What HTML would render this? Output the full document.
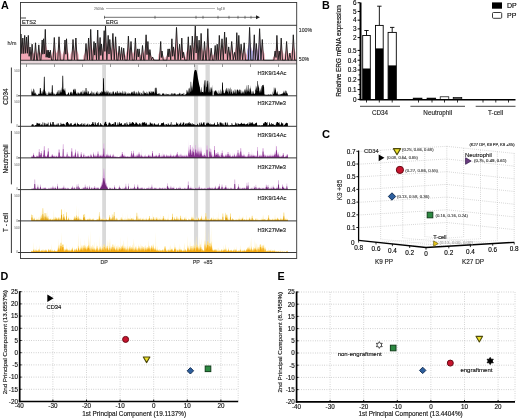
<!DOCTYPE html>
<html><head><meta charset="utf-8"><style>
html,body{margin:0;padding:0;background:#fff;width:520px;height:418px;overflow:hidden;}
svg{display:block;filter:blur(0.3px);font-family:"Liberation Sans",sans-serif;}
</style></head><body>
<svg width="520" height="418" viewBox="0 0 520 418" font-family="Liberation Sans, sans-serif"><text x="1" y="9.2" font-size="10.8" text-anchor="start" fill="#000" font-weight="bold">A</text>
<line x1="106" y1="8.5" x2="215" y2="8.5" stroke="#aaa" stroke-width="0.8"/>
<text x="94" y="9.8" font-size="3.4" text-anchor="start" fill="#888" stroke="#888" stroke-width="0.14">250 kb</text>
<text x="217" y="9.8" font-size="3.4" text-anchor="start" fill="#888" stroke="#888" stroke-width="0.14">hg19</text>
<line x1="20.5" y1="18" x2="26" y2="18" stroke="#333" stroke-width="0.9"/>
<text x="22" y="24.3" font-size="5.6" text-anchor="start" fill="#222" stroke="#222" stroke-width="0.14">ETS2</text>
<line x1="104" y1="17.3" x2="258" y2="17.3" stroke="#333" stroke-width="0.7"/>
<line x1="104.5" y1="15.8" x2="104.5" y2="18.8" stroke="#333" stroke-width="0.6"/>
<line x1="155" y1="15.8" x2="155" y2="18.8" stroke="#333" stroke-width="0.6"/>
<line x1="196" y1="15.8" x2="196" y2="18.8" stroke="#333" stroke-width="0.6"/>
<line x1="203" y1="15.8" x2="203" y2="18.8" stroke="#333" stroke-width="0.6"/>
<line x1="218" y1="15.8" x2="218" y2="18.8" stroke="#333" stroke-width="0.6"/>
<line x1="229" y1="15.8" x2="229" y2="18.8" stroke="#333" stroke-width="0.6"/>
<line x1="238" y1="15.8" x2="238" y2="18.8" stroke="#333" stroke-width="0.6"/>
<line x1="245" y1="15.8" x2="245" y2="18.8" stroke="#333" stroke-width="0.6"/>
<line x1="251" y1="15.8" x2="251" y2="18.8" stroke="#333" stroke-width="0.6"/>
<path d="M256,15.3 L260,17.3 L256,19.3 Z" fill="#222"/>
<text x="106" y="24.3" font-size="5.6" text-anchor="start" fill="#222" stroke="#222" stroke-width="0.14">ERG</text>
<rect x="102.2" y="65" width="3.799999999999997" height="188" fill="#d9d9d9" stroke="none" stroke-width="1"/>
<rect x="194" y="65" width="4.099999999999994" height="188" fill="#d9d9d9" stroke="none" stroke-width="1"/>
<rect x="205.5" y="65" width="4.300000000000011" height="188" fill="#d9d9d9" stroke="none" stroke-width="1"/>
<line x1="20.5" y1="43.5" x2="296.7" y2="43.5" stroke="#bbb" stroke-width="0.6" stroke-dasharray="1.5,1"/>
<path d="M20.5,60.3 L20.5,46.34 L21.0,45.37 L21.5,46.98 L22.0,48.60 L22.5,48.19 L23.0,47.91 L23.5,49.28 L24.0,48.00 L24.5,46.47 L25.0,46.77 L25.5,48.30 L26.0,48.22 L26.5,46.79 L27.0,48.22 L27.5,48.30 L28.0,46.77 L28.5,46.47 L29.0,48.00 L29.5,49.52 L30.0,51.05 L30.5,52.58 L31.0,53.13 L31.5,52.15 L32.0,51.16 L32.5,51.75 L33.0,52.74 L33.5,53.73 L34.0,53.37 L34.5,52.30 L35.0,51.22 L35.5,50.15 L36.0,51.22 L36.5,52.30 L37.0,53.37 L37.5,53.82 L38.0,52.88 L38.5,51.93 L39.0,51.75 L39.5,52.69 L40.0,53.64 L40.5,52.76 L41.0,51.51 L41.5,50.27 L42.0,49.02 L42.5,49.27 L43.0,49.15 L43.5,47.83 L44.0,47.31 L44.5,45.41 L45.0,43.52 L45.5,43.14 L46.0,45.03 L46.5,46.93 L47.0,48.82 L47.5,50.72 L48.0,54.81 L48.5,54.69 L49.0,55.31 L49.5,55.43 L50.0,54.81 L50.5,54.69 L51.0,55.31 L51.5,55.93 L52.0,53.51 L52.5,52.11 L53.0,50.71 L53.5,49.31 L54.0,47.92 L54.5,47.64 L55.0,49.03 L55.5,50.43 L56.0,51.83 L56.5,53.23 L57.0,52.44 L57.5,50.99 L58.0,49.55 L58.5,48.11 L59.0,46.67 L59.5,48.11 L60.0,49.55 L60.5,50.99 L61.0,52.44 L61.5,53.88 L62.0,60.30 L62.5,54.75 L63.0,53.51 L63.5,52.26 L64.0,51.02 L64.5,49.77 L65.0,48.53 L65.5,49.77 L66.0,49.15 L66.5,47.83 L67.0,49.15 L67.5,50.47 L68.0,51.79 L68.5,53.11 L69.0,54.42 L69.5,60.30 L70.0,60.30 L70.5,54.62 L71.0,53.34 L71.5,52.06 L72.0,50.79 L72.5,49.51 L73.0,48.24 L73.5,49.51 L74.0,50.79 L74.5,51.20 L75.0,49.83 L75.5,48.46 L76.0,47.64 L76.5,49.01 L77.0,50.38 L77.5,51.74 L78.0,53.11 L78.5,54.48 L79.0,60.30 L79.5,60.30 L80.0,60.30 L80.5,60.30 L81.0,60.30 L81.5,60.30 L82.0,60.30 L82.5,60.30 L83.0,60.30 L83.5,55.71 L84.0,54.68 L84.5,53.65 L85.0,52.62 L85.5,51.59 L86.0,50.56 L86.5,51.59 L87.0,51.74 L87.5,50.38 L88.0,49.01 L88.5,47.64 L89.0,48.46 L89.5,46.93 L90.0,45.03 L90.5,43.14 L91.0,43.52 L91.5,45.41 L92.0,47.31 L92.5,49.20 L93.0,51.10 L93.5,50.55 L94.0,49.40 L94.5,50.55 L95.0,51.12 L95.5,50.48 L96.0,49.05 L96.5,47.19 L97.0,45.33 L97.5,43.47 L98.0,43.84 L98.5,45.70 L99.0,47.56 L99.5,48.75 L100.0,47.36 L100.5,48.19 L101.0,49.59 L101.5,50.85 L102.0,51.12 L102.5,49.31 L103.0,47.49 L103.5,45.67 L104.0,43.86 L104.5,44.22 L105.0,42.51 L105.5,40.41 L106.0,42.51 L106.5,44.61 L107.0,46.72 L107.5,48.00 L108.0,46.47 L108.5,46.77 L109.0,48.30 L109.5,49.00 L110.0,48.75 L110.5,50.02 L111.0,50.97 L111.5,49.32 L112.0,47.67 L112.5,46.02 L113.0,45.03 L113.5,46.68 L114.0,48.33 L114.5,49.84 L115.0,48.40 L115.5,46.96 L116.0,47.82 L116.5,49.26 L117.0,50.71 L117.5,52.15 L118.0,53.59 L118.5,53.33 L119.0,52.47 L119.5,52.64 L120.0,53.51 L120.5,54.37 L121.0,53.82 L121.5,53.03 L122.0,53.50 L122.5,54.29 L123.0,54.32 L123.5,53.58 L124.0,53.73 L124.5,54.47 L125.0,55.21 L125.5,55.95 L126.0,53.39 L126.5,51.91 L127.0,50.42 L127.5,48.94 L128.0,47.45 L128.5,46.56 L129.0,48.05 L129.5,49.53 L130.0,51.01 L130.5,50.55 L131.0,49.40 L131.5,50.55 L132.0,51.70 L132.5,52.86 L133.0,53.96 L133.5,52.60 L134.0,51.24 L134.5,49.88 L135.0,48.51 L135.5,47.70 L136.0,49.06 L136.5,50.42 L137.0,51.78 L137.5,53.14 L138.0,54.39 L138.5,54.53 L139.0,53.83 L139.5,54.25 L140.0,54.95 L140.5,55.35 L141.0,54.44 L141.5,53.53 L142.0,52.62 L142.5,51.72 L143.0,52.62 L143.5,53.53 L144.0,52.08 L144.5,50.52 L145.0,48.95 L145.5,47.39 L146.0,45.82 L146.5,46.76 L147.0,48.33 L147.5,49.89 L148.0,49.63 L148.5,50.78 L149.0,51.93 L149.5,53.09 L150.0,54.23 L150.5,54.88 L151.0,55.54 L151.5,56.19 L152.0,56.85 L152.5,57.51 L153.0,58.55 L153.5,58.75 L154.0,58.95 L154.5,59.16 L155.0,59.36 L155.5,60.30 L156.0,60.30 L156.5,60.30 L157.0,60.30 L157.5,60.30 L158.0,60.30 L158.5,54.47 L159.0,53.32 L159.5,52.16 L160.0,51.01 L160.5,49.86 L161.0,50.09 L161.5,51.24 L162.0,52.39 L162.5,53.55 L163.0,54.70 L163.5,56.62 L164.0,57.19 L164.5,57.76 L165.0,60.30 L165.5,57.32 L166.0,56.63 L166.5,55.93 L167.0,55.23 L167.5,54.53 L168.0,53.83 L168.5,54.25 L169.0,54.39 L169.5,53.69 L170.0,52.84 L170.5,51.52 L171.0,50.20 L171.5,48.89 L172.0,48.09 L172.5,49.41 L173.0,50.73 L173.5,52.05 L174.0,51.31 L174.5,49.29 L175.0,47.27 L175.5,45.25 L176.0,43.24 L176.5,41.22 L177.0,43.24 L177.5,45.25 L178.0,47.27 L178.5,49.29 L179.0,51.31 L179.5,51.16 L180.0,51.75 L180.5,50.96 L181.0,49.60 L181.5,48.24 L182.0,47.97 L182.5,49.33 L183.0,50.69 L183.5,52.05 L184.0,53.42 L184.5,56.54 L185.0,57.03 L185.5,57.52 L186.0,53.30 L186.5,51.86 L187.0,50.42 L187.5,48.98 L188.0,47.53 L188.5,47.25 L189.0,48.69 L189.5,50.13 L190.0,51.57 L190.5,51.61 L191.0,50.12 L191.5,48.64 L192.0,47.15 L192.5,46.86 L193.0,48.34 L193.5,47.98 L194.0,45.88 L194.5,43.77 L195.0,41.67 L195.5,41.25 L196.0,43.35 L196.5,45.46 L197.0,46.26 L197.5,47.75 L198.0,49.23 L198.5,50.12 L199.0,48.89 L199.5,49.63 L200.0,48.33 L200.5,46.68 L201.0,45.03 L201.5,46.02 L202.0,47.67 L202.5,49.32 L203.0,50.97 L203.5,51.70 L204.0,50.55 L204.5,49.40 L205.0,50.55 L205.5,50.89 L206.0,48.95 L206.5,47.01 L207.0,45.07 L207.5,43.14 L208.0,42.75 L208.5,44.69 L209.0,46.62 L209.5,48.56 L210.0,50.50 L210.5,54.32 L211.0,53.58 L211.5,53.73 L212.0,54.47 L212.5,55.21 L213.0,55.71 L213.5,54.80 L214.0,53.90 L214.5,52.99 L215.0,52.08 L215.5,52.26 L216.0,53.17 L216.5,52.34 L217.0,51.36 L217.5,51.36 L218.0,49.83 L218.5,48.30 L219.0,46.77 L219.5,46.47 L220.0,48.00 L220.5,49.52 L221.0,50.47 L221.5,49.15 L222.0,47.83 L222.5,49.15 L223.0,49.44 L223.5,47.71 L224.0,45.97 L224.5,44.23 L225.0,45.27 L225.5,47.01 L226.0,47.92 L226.5,47.64 L227.0,49.03 L227.5,50.43 L228.0,51.83 L228.5,52.86 L229.0,53.02 L229.5,53.84 L230.0,53.32 L230.5,52.16 L231.0,51.01 L231.5,49.86 L232.0,50.09 L232.5,51.24 L233.0,52.39 L233.5,53.55 L234.0,54.70 L234.5,52.08 L235.0,50.39 L235.5,48.69 L236.0,47.00 L236.5,45.31 L237.0,44.97 L237.5,46.66 L238.0,48.30 L238.5,46.77 L239.0,46.47 L239.5,48.00 L240.0,49.52 L240.5,51.05 L241.0,51.16 L241.5,51.75 L242.0,52.74 L242.5,53.73 L243.0,52.73 L243.5,51.65 L244.0,50.58 L244.5,50.79 L245.0,51.87 L245.5,52.94 L246.0,54.01 L246.5,55.09 L247.0,51.71 L247.5,49.69 L248.0,47.68 L248.5,45.66 L249.0,43.64 L249.5,41.62 L250.0,42.83 L250.5,44.85 L251.0,46.87 L251.5,48.89 L252.0,50.91 L252.5,51.14 L253.0,49.58 L253.5,48.01 L254.0,46.45 L254.5,46.14 L255.0,47.70 L255.5,49.26 L256.0,50.83 L256.5,50.97 L257.0,52.00 L257.5,50.11 L258.0,48.18 L258.5,46.24 L259.0,44.30 L259.5,42.36 L260.0,43.52 L260.5,45.46 L261.0,47.40 L261.5,49.34 L262.0,49.00 L262.5,48.75 L263.0,50.02 L263.5,51.30 L264.0,52.57 L264.5,53.85 L265.0,60.30 L265.5,60.30 L266.0,60.30 L266.5,60.30 L267.0,60.30 L267.5,60.30 L268.0,60.30 L268.5,60.30 L269.0,60.30 L269.5,60.30 L270.0,60.30 L270.5,60.30 L271.0,60.30 L271.5,60.30 L272.0,60.30 L272.5,60.30 L273.0,57.30 L273.5,56.73 L274.0,56.16 L274.5,53.19 L275.0,51.66 L275.5,50.14 L276.0,48.61 L276.5,47.08 L277.0,46.16 L277.5,47.69 L278.0,49.22 L278.5,50.75 L279.0,52.27 L279.5,52.05 L280.0,50.69 L280.5,49.33 L281.0,47.97 L281.5,48.24 L282.0,49.60 L282.5,50.96 L283.0,52.33 L283.5,53.69 L284.0,60.30 L284.5,54.24 L285.0,53.09 L285.5,51.93 L286.0,50.78 L286.5,49.63 L287.0,50.32 L287.5,51.47 L288.0,52.63 L288.5,53.78 L289.0,54.93 L289.5,56.42 L290.0,56.16 L290.5,56.60 L291.0,52.71 L291.5,51.14 L292.0,49.58 L292.5,48.01 L293.0,46.45 L293.5,46.14 L294.0,47.70 L294.5,49.26 L295.0,50.83 L295.5,52.39 L296.0,60.30 L296.5,60.30 L296.7,60.3 Z" fill="#f2a8b6"/>
<path d="M20.50,60.30 L20.50,60.30 L20.90,34.00 L21.85,53.61 L22.80,38.00 L23.75,53.61 L24.70,35.40 L25.60,53.31 L26.50,37.00 L27.40,53.31 L28.30,35.40 L29.15,56.31 L30.00,47.00 L31.05,59.80 L32.10,44.20 L33.35,60.30 L34.25,60.30 L35.50,42.80 L36.75,60.30 L37.55,60.30 L38.80,44.90 L40.05,60.30 L40.95,60.30 L42.20,40.00 L42.85,54.21 L43.50,38.80 L44.40,53.85 L45.30,29.40 L46.15,57.27 L47.00,50.20 L47.65,57.27 L48.30,50.20 L48.80,57.81 L49.30,52.00 L49.80,57.81 L50.30,50.20 L51.55,60.30 L53.05,60.30 L54.30,37.50 L55.55,60.30 L57.75,60.30 L59.00,36.80 L60.25,60.30 L63.75,60.30 L65.00,40.00 L65.75,54.21 L66.50,38.80 L67.75,60.30 L71.75,60.30 L73.00,39.50 L74.45,59.80 L75.90,38.00 L77.15,60.30 L84.75,60.30 L86.00,43.50 L87.30,59.80 L88.60,38.00 L89.65,59.80 L90.70,29.40 L91.95,60.30 L92.75,60.30 L94.00,41.50 L94.70,55.11 L95.40,43.00 L96.55,59.80 L97.70,30.00 L98.90,59.80 L100.10,37.50 L100.80,55.41 L101.50,44.00 L102.85,59.80 L104.20,30.70 L104.85,51.42 L105.50,26.00 L106.85,59.80 L108.20,35.40 L109.00,54.06 L109.80,39.50 L111.35,59.80 L112.90,33.40 L114.25,59.80 L115.60,36.80 L116.85,60.30 L117.95,60.30 L119.20,46.20 L120.40,59.80 L121.60,47.50 L122.65,59.80 L123.70,48.20 L124.95,60.30 L127.15,60.30 L128.40,36.10 L129.70,59.80 L131.00,41.50 L132.25,60.30 L134.15,60.30 L135.40,38.10 L136.45,59.80 L137.50,48.90 L138.30,56.88 L139.10,48.90 L140.35,60.30 L141.25,60.30 L142.50,45.50 L143.75,60.30 L144.85,60.30 L146.10,34.80 L147.00,54.66 L147.90,41.50 L148.90,59.80 L149.90,49.60 L151.25,59.80 L152.60,57.00 L153.85,60.30 L159.45,60.30 L160.70,41.50 L161.35,57.51 L162.00,51.00 L163.25,60.30 L166.85,60.30 L168.10,48.90 L168.80,56.88 L169.50,48.90 L170.70,59.80 L171.90,38.80 L172.70,56.28 L173.50,46.90 L175.00,59.80 L176.50,27.40 L178.05,59.80 L179.60,44.20 L180.70,59.80 L181.80,38.10 L182.70,57.90 L183.60,52.30 L184.85,60.30 L187.05,60.30 L188.30,36.80 L189.30,59.80 L190.30,45.50 L191.30,59.80 L192.30,36.10 L193.80,59.80 L195.30,26.00 L196.15,53.04 L197.00,36.10 L198.05,59.80 L199.10,40.20 L200.10,59.80 L201.10,33.40 L202.35,60.30 L203.25,60.30 L204.50,41.50 L205.75,60.30 L206.55,60.30 L207.80,28.70 L209.05,60.30 L209.95,60.30 L211.20,48.20 L212.45,60.30 L213.95,60.30 L215.20,45.50 L216.20,59.80 L217.20,44.20 L218.25,59.80 L219.30,35.40 L220.65,59.80 L222.00,38.80 L223.30,59.80 L224.60,32.00 L225.45,53.46 L226.30,37.50 L227.50,59.80 L228.70,46.90 L230.20,59.80 L231.70,41.50 L233.20,59.80 L234.70,52.30 L235.75,59.80 L236.80,32.70 L237.80,59.80 L238.80,35.40 L239.95,59.80 L241.10,44.20 L242.65,59.80 L244.20,42.80 L245.45,60.30 L248.35,60.30 L249.60,27.40 L250.85,60.30 L253.05,60.30 L254.30,34.80 L255.30,59.80 L256.30,43.50 L257.55,60.30 L258.35,60.30 L259.60,28.70 L260.95,59.80 L262.30,39.50 L263.55,60.30 L273.85,60.30 L275.10,51.00 L276.00,57.51 L276.90,35.40 L278.05,59.80 L279.20,51.00 L280.20,59.80 L281.20,38.10 L282.45,60.30 L285.35,60.30 L286.60,41.50 L287.85,60.30 L288.65,60.30 L289.90,53.00 L291.15,60.30 L292.05,60.30 L293.30,34.80 L294.70,60.30 L296.70,60.30 Z" fill="#f2a8b6"/>
<clipPath id="cp1"><rect x="247" y="30" width="6.5" height="31"/></clipPath>
<path d="M20.5,60.3 L20.5,46.34 L21.0,45.37 L21.5,46.98 L22.0,48.60 L22.5,48.19 L23.0,47.91 L23.5,49.28 L24.0,48.00 L24.5,46.47 L25.0,46.77 L25.5,48.30 L26.0,48.22 L26.5,46.79 L27.0,48.22 L27.5,48.30 L28.0,46.77 L28.5,46.47 L29.0,48.00 L29.5,49.52 L30.0,51.05 L30.5,52.58 L31.0,53.13 L31.5,52.15 L32.0,51.16 L32.5,51.75 L33.0,52.74 L33.5,53.73 L34.0,53.37 L34.5,52.30 L35.0,51.22 L35.5,50.15 L36.0,51.22 L36.5,52.30 L37.0,53.37 L37.5,53.82 L38.0,52.88 L38.5,51.93 L39.0,51.75 L39.5,52.69 L40.0,53.64 L40.5,52.76 L41.0,51.51 L41.5,50.27 L42.0,49.02 L42.5,49.27 L43.0,49.15 L43.5,47.83 L44.0,47.31 L44.5,45.41 L45.0,43.52 L45.5,43.14 L46.0,45.03 L46.5,46.93 L47.0,48.82 L47.5,50.72 L48.0,54.81 L48.5,54.69 L49.0,55.31 L49.5,55.43 L50.0,54.81 L50.5,54.69 L51.0,55.31 L51.5,55.93 L52.0,53.51 L52.5,52.11 L53.0,50.71 L53.5,49.31 L54.0,47.92 L54.5,47.64 L55.0,49.03 L55.5,50.43 L56.0,51.83 L56.5,53.23 L57.0,52.44 L57.5,50.99 L58.0,49.55 L58.5,48.11 L59.0,46.67 L59.5,48.11 L60.0,49.55 L60.5,50.99 L61.0,52.44 L61.5,53.88 L62.0,60.30 L62.5,54.75 L63.0,53.51 L63.5,52.26 L64.0,51.02 L64.5,49.77 L65.0,48.53 L65.5,49.77 L66.0,49.15 L66.5,47.83 L67.0,49.15 L67.5,50.47 L68.0,51.79 L68.5,53.11 L69.0,54.42 L69.5,60.30 L70.0,60.30 L70.5,54.62 L71.0,53.34 L71.5,52.06 L72.0,50.79 L72.5,49.51 L73.0,48.24 L73.5,49.51 L74.0,50.79 L74.5,51.20 L75.0,49.83 L75.5,48.46 L76.0,47.64 L76.5,49.01 L77.0,50.38 L77.5,51.74 L78.0,53.11 L78.5,54.48 L79.0,60.30 L79.5,60.30 L80.0,60.30 L80.5,60.30 L81.0,60.30 L81.5,60.30 L82.0,60.30 L82.5,60.30 L83.0,60.30 L83.5,55.71 L84.0,54.68 L84.5,53.65 L85.0,52.62 L85.5,51.59 L86.0,50.56 L86.5,51.59 L87.0,51.74 L87.5,50.38 L88.0,49.01 L88.5,47.64 L89.0,48.46 L89.5,46.93 L90.0,45.03 L90.5,43.14 L91.0,43.52 L91.5,45.41 L92.0,47.31 L92.5,49.20 L93.0,51.10 L93.5,50.55 L94.0,49.40 L94.5,50.55 L95.0,51.12 L95.5,50.48 L96.0,49.05 L96.5,47.19 L97.0,45.33 L97.5,43.47 L98.0,43.84 L98.5,45.70 L99.0,47.56 L99.5,48.75 L100.0,47.36 L100.5,48.19 L101.0,49.59 L101.5,50.85 L102.0,51.12 L102.5,49.31 L103.0,47.49 L103.5,45.67 L104.0,43.86 L104.5,44.22 L105.0,42.51 L105.5,40.41 L106.0,42.51 L106.5,44.61 L107.0,46.72 L107.5,48.00 L108.0,46.47 L108.5,46.77 L109.0,48.30 L109.5,49.00 L110.0,48.75 L110.5,50.02 L111.0,50.97 L111.5,49.32 L112.0,47.67 L112.5,46.02 L113.0,45.03 L113.5,46.68 L114.0,48.33 L114.5,49.84 L115.0,48.40 L115.5,46.96 L116.0,47.82 L116.5,49.26 L117.0,50.71 L117.5,52.15 L118.0,53.59 L118.5,53.33 L119.0,52.47 L119.5,52.64 L120.0,53.51 L120.5,54.37 L121.0,53.82 L121.5,53.03 L122.0,53.50 L122.5,54.29 L123.0,54.32 L123.5,53.58 L124.0,53.73 L124.5,54.47 L125.0,55.21 L125.5,55.95 L126.0,53.39 L126.5,51.91 L127.0,50.42 L127.5,48.94 L128.0,47.45 L128.5,46.56 L129.0,48.05 L129.5,49.53 L130.0,51.01 L130.5,50.55 L131.0,49.40 L131.5,50.55 L132.0,51.70 L132.5,52.86 L133.0,53.96 L133.5,52.60 L134.0,51.24 L134.5,49.88 L135.0,48.51 L135.5,47.70 L136.0,49.06 L136.5,50.42 L137.0,51.78 L137.5,53.14 L138.0,54.39 L138.5,54.53 L139.0,53.83 L139.5,54.25 L140.0,54.95 L140.5,55.35 L141.0,54.44 L141.5,53.53 L142.0,52.62 L142.5,51.72 L143.0,52.62 L143.5,53.53 L144.0,52.08 L144.5,50.52 L145.0,48.95 L145.5,47.39 L146.0,45.82 L146.5,46.76 L147.0,48.33 L147.5,49.89 L148.0,49.63 L148.5,50.78 L149.0,51.93 L149.5,53.09 L150.0,54.23 L150.5,54.88 L151.0,55.54 L151.5,56.19 L152.0,56.85 L152.5,57.51 L153.0,58.55 L153.5,58.75 L154.0,58.95 L154.5,59.16 L155.0,59.36 L155.5,60.30 L156.0,60.30 L156.5,60.30 L157.0,60.30 L157.5,60.30 L158.0,60.30 L158.5,54.47 L159.0,53.32 L159.5,52.16 L160.0,51.01 L160.5,49.86 L161.0,50.09 L161.5,51.24 L162.0,52.39 L162.5,53.55 L163.0,54.70 L163.5,56.62 L164.0,57.19 L164.5,57.76 L165.0,60.30 L165.5,57.32 L166.0,56.63 L166.5,55.93 L167.0,55.23 L167.5,54.53 L168.0,53.83 L168.5,54.25 L169.0,54.39 L169.5,53.69 L170.0,52.84 L170.5,51.52 L171.0,50.20 L171.5,48.89 L172.0,48.09 L172.5,49.41 L173.0,50.73 L173.5,52.05 L174.0,51.31 L174.5,49.29 L175.0,47.27 L175.5,45.25 L176.0,43.24 L176.5,41.22 L177.0,43.24 L177.5,45.25 L178.0,47.27 L178.5,49.29 L179.0,51.31 L179.5,51.16 L180.0,51.75 L180.5,50.96 L181.0,49.60 L181.5,48.24 L182.0,47.97 L182.5,49.33 L183.0,50.69 L183.5,52.05 L184.0,53.42 L184.5,56.54 L185.0,57.03 L185.5,57.52 L186.0,53.30 L186.5,51.86 L187.0,50.42 L187.5,48.98 L188.0,47.53 L188.5,47.25 L189.0,48.69 L189.5,50.13 L190.0,51.57 L190.5,51.61 L191.0,50.12 L191.5,48.64 L192.0,47.15 L192.5,46.86 L193.0,48.34 L193.5,47.98 L194.0,45.88 L194.5,43.77 L195.0,41.67 L195.5,41.25 L196.0,43.35 L196.5,45.46 L197.0,46.26 L197.5,47.75 L198.0,49.23 L198.5,50.12 L199.0,48.89 L199.5,49.63 L200.0,48.33 L200.5,46.68 L201.0,45.03 L201.5,46.02 L202.0,47.67 L202.5,49.32 L203.0,50.97 L203.5,51.70 L204.0,50.55 L204.5,49.40 L205.0,50.55 L205.5,50.89 L206.0,48.95 L206.5,47.01 L207.0,45.07 L207.5,43.14 L208.0,42.75 L208.5,44.69 L209.0,46.62 L209.5,48.56 L210.0,50.50 L210.5,54.32 L211.0,53.58 L211.5,53.73 L212.0,54.47 L212.5,55.21 L213.0,55.71 L213.5,54.80 L214.0,53.90 L214.5,52.99 L215.0,52.08 L215.5,52.26 L216.0,53.17 L216.5,52.34 L217.0,51.36 L217.5,51.36 L218.0,49.83 L218.5,48.30 L219.0,46.77 L219.5,46.47 L220.0,48.00 L220.5,49.52 L221.0,50.47 L221.5,49.15 L222.0,47.83 L222.5,49.15 L223.0,49.44 L223.5,47.71 L224.0,45.97 L224.5,44.23 L225.0,45.27 L225.5,47.01 L226.0,47.92 L226.5,47.64 L227.0,49.03 L227.5,50.43 L228.0,51.83 L228.5,52.86 L229.0,53.02 L229.5,53.84 L230.0,53.32 L230.5,52.16 L231.0,51.01 L231.5,49.86 L232.0,50.09 L232.5,51.24 L233.0,52.39 L233.5,53.55 L234.0,54.70 L234.5,52.08 L235.0,50.39 L235.5,48.69 L236.0,47.00 L236.5,45.31 L237.0,44.97 L237.5,46.66 L238.0,48.30 L238.5,46.77 L239.0,46.47 L239.5,48.00 L240.0,49.52 L240.5,51.05 L241.0,51.16 L241.5,51.75 L242.0,52.74 L242.5,53.73 L243.0,52.73 L243.5,51.65 L244.0,50.58 L244.5,50.79 L245.0,51.87 L245.5,52.94 L246.0,54.01 L246.5,55.09 L247.0,51.71 L247.5,49.69 L248.0,47.68 L248.5,45.66 L249.0,43.64 L249.5,41.62 L250.0,42.83 L250.5,44.85 L251.0,46.87 L251.5,48.89 L252.0,50.91 L252.5,51.14 L253.0,49.58 L253.5,48.01 L254.0,46.45 L254.5,46.14 L255.0,47.70 L255.5,49.26 L256.0,50.83 L256.5,50.97 L257.0,52.00 L257.5,50.11 L258.0,48.18 L258.5,46.24 L259.0,44.30 L259.5,42.36 L260.0,43.52 L260.5,45.46 L261.0,47.40 L261.5,49.34 L262.0,49.00 L262.5,48.75 L263.0,50.02 L263.5,51.30 L264.0,52.57 L264.5,53.85 L265.0,60.30 L265.5,60.30 L266.0,60.30 L266.5,60.30 L267.0,60.30 L267.5,60.30 L268.0,60.30 L268.5,60.30 L269.0,60.30 L269.5,60.30 L270.0,60.30 L270.5,60.30 L271.0,60.30 L271.5,60.30 L272.0,60.30 L272.5,60.30 L273.0,57.30 L273.5,56.73 L274.0,56.16 L274.5,53.19 L275.0,51.66 L275.5,50.14 L276.0,48.61 L276.5,47.08 L277.0,46.16 L277.5,47.69 L278.0,49.22 L278.5,50.75 L279.0,52.27 L279.5,52.05 L280.0,50.69 L280.5,49.33 L281.0,47.97 L281.5,48.24 L282.0,49.60 L282.5,50.96 L283.0,52.33 L283.5,53.69 L284.0,60.30 L284.5,54.24 L285.0,53.09 L285.5,51.93 L286.0,50.78 L286.5,49.63 L287.0,50.32 L287.5,51.47 L288.0,52.63 L288.5,53.78 L289.0,54.93 L289.5,56.42 L290.0,56.16 L290.5,56.60 L291.0,52.71 L291.5,51.14 L292.0,49.58 L292.5,48.01 L293.0,46.45 L293.5,46.14 L294.0,47.70 L294.5,49.26 L295.0,50.83 L295.5,52.39 L296.0,60.30 L296.5,60.30 L296.7,60.3 Z" fill="#aaa6e0" clip-path="url(#cp1)"/>
<path d="M20.50,60.30 L20.50,60.30 L20.90,34.00 L21.85,53.61 L22.80,38.00 L23.75,53.61 L24.70,35.40 L25.60,53.31 L26.50,37.00 L27.40,53.31 L28.30,35.40 L29.15,56.31 L30.00,47.00 L31.05,59.80 L32.10,44.20 L33.35,60.30 L34.25,60.30 L35.50,42.80 L36.75,60.30 L37.55,60.30 L38.80,44.90 L40.05,60.30 L40.95,60.30 L42.20,40.00 L42.85,54.21 L43.50,38.80 L44.40,53.85 L45.30,29.40 L46.15,57.27 L47.00,50.20 L47.65,57.27 L48.30,50.20 L48.80,57.81 L49.30,52.00 L49.80,57.81 L50.30,50.20 L51.55,60.30 L53.05,60.30 L54.30,37.50 L55.55,60.30 L57.75,60.30 L59.00,36.80 L60.25,60.30 L63.75,60.30 L65.00,40.00 L65.75,54.21 L66.50,38.80 L67.75,60.30 L71.75,60.30 L73.00,39.50 L74.45,59.80 L75.90,38.00 L77.15,60.30 L84.75,60.30 L86.00,43.50 L87.30,59.80 L88.60,38.00 L89.65,59.80 L90.70,29.40 L91.95,60.30 L92.75,60.30 L94.00,41.50 L94.70,55.11 L95.40,43.00 L96.55,59.80 L97.70,30.00 L98.90,59.80 L100.10,37.50 L100.80,55.41 L101.50,44.00 L102.85,59.80 L104.20,30.70 L104.85,51.42 L105.50,26.00 L106.85,59.80 L108.20,35.40 L109.00,54.06 L109.80,39.50 L111.35,59.80 L112.90,33.40 L114.25,59.80 L115.60,36.80 L116.85,60.30 L117.95,60.30 L119.20,46.20 L120.40,59.80 L121.60,47.50 L122.65,59.80 L123.70,48.20 L124.95,60.30 L127.15,60.30 L128.40,36.10 L129.70,59.80 L131.00,41.50 L132.25,60.30 L134.15,60.30 L135.40,38.10 L136.45,59.80 L137.50,48.90 L138.30,56.88 L139.10,48.90 L140.35,60.30 L141.25,60.30 L142.50,45.50 L143.75,60.30 L144.85,60.30 L146.10,34.80 L147.00,54.66 L147.90,41.50 L148.90,59.80 L149.90,49.60 L151.25,59.80 L152.60,57.00 L153.85,60.30 L159.45,60.30 L160.70,41.50 L161.35,57.51 L162.00,51.00 L163.25,60.30 L166.85,60.30 L168.10,48.90 L168.80,56.88 L169.50,48.90 L170.70,59.80 L171.90,38.80 L172.70,56.28 L173.50,46.90 L175.00,59.80 L176.50,27.40 L178.05,59.80 L179.60,44.20 L180.70,59.80 L181.80,38.10 L182.70,57.90 L183.60,52.30 L184.85,60.30 L187.05,60.30 L188.30,36.80 L189.30,59.80 L190.30,45.50 L191.30,59.80 L192.30,36.10 L193.80,59.80 L195.30,26.00 L196.15,53.04 L197.00,36.10 L198.05,59.80 L199.10,40.20 L200.10,59.80 L201.10,33.40 L202.35,60.30 L203.25,60.30 L204.50,41.50 L205.75,60.30 L206.55,60.30 L207.80,28.70 L209.05,60.30 L209.95,60.30 L211.20,48.20 L212.45,60.30 L213.95,60.30 L215.20,45.50 L216.20,59.80 L217.20,44.20 L218.25,59.80 L219.30,35.40 L220.65,59.80 L222.00,38.80 L223.30,59.80 L224.60,32.00 L225.45,53.46 L226.30,37.50 L227.50,59.80 L228.70,46.90 L230.20,59.80 L231.70,41.50 L233.20,59.80 L234.70,52.30 L235.75,59.80 L236.80,32.70 L237.80,59.80 L238.80,35.40 L239.95,59.80 L241.10,44.20 L242.65,59.80 L244.20,42.80 L245.45,60.30 L248.35,60.30 L249.60,27.40 L250.85,60.30 L253.05,60.30 L254.30,34.80 L255.30,59.80 L256.30,43.50 L257.55,60.30 L258.35,60.30 L259.60,28.70 L260.95,59.80 L262.30,39.50 L263.55,60.30 L273.85,60.30 L275.10,51.00 L276.00,57.51 L276.90,35.40 L278.05,59.80 L279.20,51.00 L280.20,59.80 L281.20,38.10 L282.45,60.30 L285.35,60.30 L286.60,41.50 L287.85,60.30 L288.65,60.30 L289.90,53.00 L291.15,60.30 L292.05,60.30 L293.30,34.80 L294.70,60.30 L296.70,60.30 Z" fill="#aaa6e0" clip-path="url(#cp1)"/>
<clipPath id="cp2"><rect x="253.5" y="30" width="8" height="31"/></clipPath>
<path d="M20.5,60.3 L20.5,46.34 L21.0,45.37 L21.5,46.98 L22.0,48.60 L22.5,48.19 L23.0,47.91 L23.5,49.28 L24.0,48.00 L24.5,46.47 L25.0,46.77 L25.5,48.30 L26.0,48.22 L26.5,46.79 L27.0,48.22 L27.5,48.30 L28.0,46.77 L28.5,46.47 L29.0,48.00 L29.5,49.52 L30.0,51.05 L30.5,52.58 L31.0,53.13 L31.5,52.15 L32.0,51.16 L32.5,51.75 L33.0,52.74 L33.5,53.73 L34.0,53.37 L34.5,52.30 L35.0,51.22 L35.5,50.15 L36.0,51.22 L36.5,52.30 L37.0,53.37 L37.5,53.82 L38.0,52.88 L38.5,51.93 L39.0,51.75 L39.5,52.69 L40.0,53.64 L40.5,52.76 L41.0,51.51 L41.5,50.27 L42.0,49.02 L42.5,49.27 L43.0,49.15 L43.5,47.83 L44.0,47.31 L44.5,45.41 L45.0,43.52 L45.5,43.14 L46.0,45.03 L46.5,46.93 L47.0,48.82 L47.5,50.72 L48.0,54.81 L48.5,54.69 L49.0,55.31 L49.5,55.43 L50.0,54.81 L50.5,54.69 L51.0,55.31 L51.5,55.93 L52.0,53.51 L52.5,52.11 L53.0,50.71 L53.5,49.31 L54.0,47.92 L54.5,47.64 L55.0,49.03 L55.5,50.43 L56.0,51.83 L56.5,53.23 L57.0,52.44 L57.5,50.99 L58.0,49.55 L58.5,48.11 L59.0,46.67 L59.5,48.11 L60.0,49.55 L60.5,50.99 L61.0,52.44 L61.5,53.88 L62.0,60.30 L62.5,54.75 L63.0,53.51 L63.5,52.26 L64.0,51.02 L64.5,49.77 L65.0,48.53 L65.5,49.77 L66.0,49.15 L66.5,47.83 L67.0,49.15 L67.5,50.47 L68.0,51.79 L68.5,53.11 L69.0,54.42 L69.5,60.30 L70.0,60.30 L70.5,54.62 L71.0,53.34 L71.5,52.06 L72.0,50.79 L72.5,49.51 L73.0,48.24 L73.5,49.51 L74.0,50.79 L74.5,51.20 L75.0,49.83 L75.5,48.46 L76.0,47.64 L76.5,49.01 L77.0,50.38 L77.5,51.74 L78.0,53.11 L78.5,54.48 L79.0,60.30 L79.5,60.30 L80.0,60.30 L80.5,60.30 L81.0,60.30 L81.5,60.30 L82.0,60.30 L82.5,60.30 L83.0,60.30 L83.5,55.71 L84.0,54.68 L84.5,53.65 L85.0,52.62 L85.5,51.59 L86.0,50.56 L86.5,51.59 L87.0,51.74 L87.5,50.38 L88.0,49.01 L88.5,47.64 L89.0,48.46 L89.5,46.93 L90.0,45.03 L90.5,43.14 L91.0,43.52 L91.5,45.41 L92.0,47.31 L92.5,49.20 L93.0,51.10 L93.5,50.55 L94.0,49.40 L94.5,50.55 L95.0,51.12 L95.5,50.48 L96.0,49.05 L96.5,47.19 L97.0,45.33 L97.5,43.47 L98.0,43.84 L98.5,45.70 L99.0,47.56 L99.5,48.75 L100.0,47.36 L100.5,48.19 L101.0,49.59 L101.5,50.85 L102.0,51.12 L102.5,49.31 L103.0,47.49 L103.5,45.67 L104.0,43.86 L104.5,44.22 L105.0,42.51 L105.5,40.41 L106.0,42.51 L106.5,44.61 L107.0,46.72 L107.5,48.00 L108.0,46.47 L108.5,46.77 L109.0,48.30 L109.5,49.00 L110.0,48.75 L110.5,50.02 L111.0,50.97 L111.5,49.32 L112.0,47.67 L112.5,46.02 L113.0,45.03 L113.5,46.68 L114.0,48.33 L114.5,49.84 L115.0,48.40 L115.5,46.96 L116.0,47.82 L116.5,49.26 L117.0,50.71 L117.5,52.15 L118.0,53.59 L118.5,53.33 L119.0,52.47 L119.5,52.64 L120.0,53.51 L120.5,54.37 L121.0,53.82 L121.5,53.03 L122.0,53.50 L122.5,54.29 L123.0,54.32 L123.5,53.58 L124.0,53.73 L124.5,54.47 L125.0,55.21 L125.5,55.95 L126.0,53.39 L126.5,51.91 L127.0,50.42 L127.5,48.94 L128.0,47.45 L128.5,46.56 L129.0,48.05 L129.5,49.53 L130.0,51.01 L130.5,50.55 L131.0,49.40 L131.5,50.55 L132.0,51.70 L132.5,52.86 L133.0,53.96 L133.5,52.60 L134.0,51.24 L134.5,49.88 L135.0,48.51 L135.5,47.70 L136.0,49.06 L136.5,50.42 L137.0,51.78 L137.5,53.14 L138.0,54.39 L138.5,54.53 L139.0,53.83 L139.5,54.25 L140.0,54.95 L140.5,55.35 L141.0,54.44 L141.5,53.53 L142.0,52.62 L142.5,51.72 L143.0,52.62 L143.5,53.53 L144.0,52.08 L144.5,50.52 L145.0,48.95 L145.5,47.39 L146.0,45.82 L146.5,46.76 L147.0,48.33 L147.5,49.89 L148.0,49.63 L148.5,50.78 L149.0,51.93 L149.5,53.09 L150.0,54.23 L150.5,54.88 L151.0,55.54 L151.5,56.19 L152.0,56.85 L152.5,57.51 L153.0,58.55 L153.5,58.75 L154.0,58.95 L154.5,59.16 L155.0,59.36 L155.5,60.30 L156.0,60.30 L156.5,60.30 L157.0,60.30 L157.5,60.30 L158.0,60.30 L158.5,54.47 L159.0,53.32 L159.5,52.16 L160.0,51.01 L160.5,49.86 L161.0,50.09 L161.5,51.24 L162.0,52.39 L162.5,53.55 L163.0,54.70 L163.5,56.62 L164.0,57.19 L164.5,57.76 L165.0,60.30 L165.5,57.32 L166.0,56.63 L166.5,55.93 L167.0,55.23 L167.5,54.53 L168.0,53.83 L168.5,54.25 L169.0,54.39 L169.5,53.69 L170.0,52.84 L170.5,51.52 L171.0,50.20 L171.5,48.89 L172.0,48.09 L172.5,49.41 L173.0,50.73 L173.5,52.05 L174.0,51.31 L174.5,49.29 L175.0,47.27 L175.5,45.25 L176.0,43.24 L176.5,41.22 L177.0,43.24 L177.5,45.25 L178.0,47.27 L178.5,49.29 L179.0,51.31 L179.5,51.16 L180.0,51.75 L180.5,50.96 L181.0,49.60 L181.5,48.24 L182.0,47.97 L182.5,49.33 L183.0,50.69 L183.5,52.05 L184.0,53.42 L184.5,56.54 L185.0,57.03 L185.5,57.52 L186.0,53.30 L186.5,51.86 L187.0,50.42 L187.5,48.98 L188.0,47.53 L188.5,47.25 L189.0,48.69 L189.5,50.13 L190.0,51.57 L190.5,51.61 L191.0,50.12 L191.5,48.64 L192.0,47.15 L192.5,46.86 L193.0,48.34 L193.5,47.98 L194.0,45.88 L194.5,43.77 L195.0,41.67 L195.5,41.25 L196.0,43.35 L196.5,45.46 L197.0,46.26 L197.5,47.75 L198.0,49.23 L198.5,50.12 L199.0,48.89 L199.5,49.63 L200.0,48.33 L200.5,46.68 L201.0,45.03 L201.5,46.02 L202.0,47.67 L202.5,49.32 L203.0,50.97 L203.5,51.70 L204.0,50.55 L204.5,49.40 L205.0,50.55 L205.5,50.89 L206.0,48.95 L206.5,47.01 L207.0,45.07 L207.5,43.14 L208.0,42.75 L208.5,44.69 L209.0,46.62 L209.5,48.56 L210.0,50.50 L210.5,54.32 L211.0,53.58 L211.5,53.73 L212.0,54.47 L212.5,55.21 L213.0,55.71 L213.5,54.80 L214.0,53.90 L214.5,52.99 L215.0,52.08 L215.5,52.26 L216.0,53.17 L216.5,52.34 L217.0,51.36 L217.5,51.36 L218.0,49.83 L218.5,48.30 L219.0,46.77 L219.5,46.47 L220.0,48.00 L220.5,49.52 L221.0,50.47 L221.5,49.15 L222.0,47.83 L222.5,49.15 L223.0,49.44 L223.5,47.71 L224.0,45.97 L224.5,44.23 L225.0,45.27 L225.5,47.01 L226.0,47.92 L226.5,47.64 L227.0,49.03 L227.5,50.43 L228.0,51.83 L228.5,52.86 L229.0,53.02 L229.5,53.84 L230.0,53.32 L230.5,52.16 L231.0,51.01 L231.5,49.86 L232.0,50.09 L232.5,51.24 L233.0,52.39 L233.5,53.55 L234.0,54.70 L234.5,52.08 L235.0,50.39 L235.5,48.69 L236.0,47.00 L236.5,45.31 L237.0,44.97 L237.5,46.66 L238.0,48.30 L238.5,46.77 L239.0,46.47 L239.5,48.00 L240.0,49.52 L240.5,51.05 L241.0,51.16 L241.5,51.75 L242.0,52.74 L242.5,53.73 L243.0,52.73 L243.5,51.65 L244.0,50.58 L244.5,50.79 L245.0,51.87 L245.5,52.94 L246.0,54.01 L246.5,55.09 L247.0,51.71 L247.5,49.69 L248.0,47.68 L248.5,45.66 L249.0,43.64 L249.5,41.62 L250.0,42.83 L250.5,44.85 L251.0,46.87 L251.5,48.89 L252.0,50.91 L252.5,51.14 L253.0,49.58 L253.5,48.01 L254.0,46.45 L254.5,46.14 L255.0,47.70 L255.5,49.26 L256.0,50.83 L256.5,50.97 L257.0,52.00 L257.5,50.11 L258.0,48.18 L258.5,46.24 L259.0,44.30 L259.5,42.36 L260.0,43.52 L260.5,45.46 L261.0,47.40 L261.5,49.34 L262.0,49.00 L262.5,48.75 L263.0,50.02 L263.5,51.30 L264.0,52.57 L264.5,53.85 L265.0,60.30 L265.5,60.30 L266.0,60.30 L266.5,60.30 L267.0,60.30 L267.5,60.30 L268.0,60.30 L268.5,60.30 L269.0,60.30 L269.5,60.30 L270.0,60.30 L270.5,60.30 L271.0,60.30 L271.5,60.30 L272.0,60.30 L272.5,60.30 L273.0,57.30 L273.5,56.73 L274.0,56.16 L274.5,53.19 L275.0,51.66 L275.5,50.14 L276.0,48.61 L276.5,47.08 L277.0,46.16 L277.5,47.69 L278.0,49.22 L278.5,50.75 L279.0,52.27 L279.5,52.05 L280.0,50.69 L280.5,49.33 L281.0,47.97 L281.5,48.24 L282.0,49.60 L282.5,50.96 L283.0,52.33 L283.5,53.69 L284.0,60.30 L284.5,54.24 L285.0,53.09 L285.5,51.93 L286.0,50.78 L286.5,49.63 L287.0,50.32 L287.5,51.47 L288.0,52.63 L288.5,53.78 L289.0,54.93 L289.5,56.42 L290.0,56.16 L290.5,56.60 L291.0,52.71 L291.5,51.14 L292.0,49.58 L292.5,48.01 L293.0,46.45 L293.5,46.14 L294.0,47.70 L294.5,49.26 L295.0,50.83 L295.5,52.39 L296.0,60.30 L296.5,60.30 L296.7,60.3 Z" fill="#d2b2e2" clip-path="url(#cp2)"/>
<path d="M20.50,60.30 L20.50,60.30 L20.90,34.00 L21.85,53.61 L22.80,38.00 L23.75,53.61 L24.70,35.40 L25.60,53.31 L26.50,37.00 L27.40,53.31 L28.30,35.40 L29.15,56.31 L30.00,47.00 L31.05,59.80 L32.10,44.20 L33.35,60.30 L34.25,60.30 L35.50,42.80 L36.75,60.30 L37.55,60.30 L38.80,44.90 L40.05,60.30 L40.95,60.30 L42.20,40.00 L42.85,54.21 L43.50,38.80 L44.40,53.85 L45.30,29.40 L46.15,57.27 L47.00,50.20 L47.65,57.27 L48.30,50.20 L48.80,57.81 L49.30,52.00 L49.80,57.81 L50.30,50.20 L51.55,60.30 L53.05,60.30 L54.30,37.50 L55.55,60.30 L57.75,60.30 L59.00,36.80 L60.25,60.30 L63.75,60.30 L65.00,40.00 L65.75,54.21 L66.50,38.80 L67.75,60.30 L71.75,60.30 L73.00,39.50 L74.45,59.80 L75.90,38.00 L77.15,60.30 L84.75,60.30 L86.00,43.50 L87.30,59.80 L88.60,38.00 L89.65,59.80 L90.70,29.40 L91.95,60.30 L92.75,60.30 L94.00,41.50 L94.70,55.11 L95.40,43.00 L96.55,59.80 L97.70,30.00 L98.90,59.80 L100.10,37.50 L100.80,55.41 L101.50,44.00 L102.85,59.80 L104.20,30.70 L104.85,51.42 L105.50,26.00 L106.85,59.80 L108.20,35.40 L109.00,54.06 L109.80,39.50 L111.35,59.80 L112.90,33.40 L114.25,59.80 L115.60,36.80 L116.85,60.30 L117.95,60.30 L119.20,46.20 L120.40,59.80 L121.60,47.50 L122.65,59.80 L123.70,48.20 L124.95,60.30 L127.15,60.30 L128.40,36.10 L129.70,59.80 L131.00,41.50 L132.25,60.30 L134.15,60.30 L135.40,38.10 L136.45,59.80 L137.50,48.90 L138.30,56.88 L139.10,48.90 L140.35,60.30 L141.25,60.30 L142.50,45.50 L143.75,60.30 L144.85,60.30 L146.10,34.80 L147.00,54.66 L147.90,41.50 L148.90,59.80 L149.90,49.60 L151.25,59.80 L152.60,57.00 L153.85,60.30 L159.45,60.30 L160.70,41.50 L161.35,57.51 L162.00,51.00 L163.25,60.30 L166.85,60.30 L168.10,48.90 L168.80,56.88 L169.50,48.90 L170.70,59.80 L171.90,38.80 L172.70,56.28 L173.50,46.90 L175.00,59.80 L176.50,27.40 L178.05,59.80 L179.60,44.20 L180.70,59.80 L181.80,38.10 L182.70,57.90 L183.60,52.30 L184.85,60.30 L187.05,60.30 L188.30,36.80 L189.30,59.80 L190.30,45.50 L191.30,59.80 L192.30,36.10 L193.80,59.80 L195.30,26.00 L196.15,53.04 L197.00,36.10 L198.05,59.80 L199.10,40.20 L200.10,59.80 L201.10,33.40 L202.35,60.30 L203.25,60.30 L204.50,41.50 L205.75,60.30 L206.55,60.30 L207.80,28.70 L209.05,60.30 L209.95,60.30 L211.20,48.20 L212.45,60.30 L213.95,60.30 L215.20,45.50 L216.20,59.80 L217.20,44.20 L218.25,59.80 L219.30,35.40 L220.65,59.80 L222.00,38.80 L223.30,59.80 L224.60,32.00 L225.45,53.46 L226.30,37.50 L227.50,59.80 L228.70,46.90 L230.20,59.80 L231.70,41.50 L233.20,59.80 L234.70,52.30 L235.75,59.80 L236.80,32.70 L237.80,59.80 L238.80,35.40 L239.95,59.80 L241.10,44.20 L242.65,59.80 L244.20,42.80 L245.45,60.30 L248.35,60.30 L249.60,27.40 L250.85,60.30 L253.05,60.30 L254.30,34.80 L255.30,59.80 L256.30,43.50 L257.55,60.30 L258.35,60.30 L259.60,28.70 L260.95,59.80 L262.30,39.50 L263.55,60.30 L273.85,60.30 L275.10,51.00 L276.00,57.51 L276.90,35.40 L278.05,59.80 L279.20,51.00 L280.20,59.80 L281.20,38.10 L282.45,60.30 L285.35,60.30 L286.60,41.50 L287.85,60.30 L288.65,60.30 L289.90,53.00 L291.15,60.30 L292.05,60.30 L293.30,34.80 L294.70,60.30 L296.70,60.30 Z" fill="#d2b2e2" clip-path="url(#cp2)"/>
<path d="M20.50,60.30 L20.50,60.30 L20.90,34.00 L21.85,53.61 L22.80,38.00 L23.75,53.61 L24.70,35.40 L25.60,53.31 L26.50,37.00 L27.40,53.31 L28.30,35.40 L29.15,56.31 L30.00,47.00 L31.05,59.80 L32.10,44.20 L33.35,60.30 L34.25,60.30 L35.50,42.80 L36.75,60.30 L37.55,60.30 L38.80,44.90 L40.05,60.30 L40.95,60.30 L42.20,40.00 L42.85,54.21 L43.50,38.80 L44.40,53.85 L45.30,29.40 L46.15,57.27 L47.00,50.20 L47.65,57.27 L48.30,50.20 L48.80,57.81 L49.30,52.00 L49.80,57.81 L50.30,50.20 L51.55,60.30 L53.05,60.30 L54.30,37.50 L55.55,60.30 L57.75,60.30 L59.00,36.80 L60.25,60.30 L63.75,60.30 L65.00,40.00 L65.75,54.21 L66.50,38.80 L67.75,60.30 L71.75,60.30 L73.00,39.50 L74.45,59.80 L75.90,38.00 L77.15,60.30 L84.75,60.30 L86.00,43.50 L87.30,59.80 L88.60,38.00 L89.65,59.80 L90.70,29.40 L91.95,60.30 L92.75,60.30 L94.00,41.50 L94.70,55.11 L95.40,43.00 L96.55,59.80 L97.70,30.00 L98.90,59.80 L100.10,37.50 L100.80,55.41 L101.50,44.00 L102.85,59.80 L104.20,30.70 L104.85,51.42 L105.50,26.00 L106.85,59.80 L108.20,35.40 L109.00,54.06 L109.80,39.50 L111.35,59.80 L112.90,33.40 L114.25,59.80 L115.60,36.80 L116.85,60.30 L117.95,60.30 L119.20,46.20 L120.40,59.80 L121.60,47.50 L122.65,59.80 L123.70,48.20 L124.95,60.30 L127.15,60.30 L128.40,36.10 L129.70,59.80 L131.00,41.50 L132.25,60.30 L134.15,60.30 L135.40,38.10 L136.45,59.80 L137.50,48.90 L138.30,56.88 L139.10,48.90 L140.35,60.30 L141.25,60.30 L142.50,45.50 L143.75,60.30 L144.85,60.30 L146.10,34.80 L147.00,54.66 L147.90,41.50 L148.90,59.80 L149.90,49.60 L151.25,59.80 L152.60,57.00 L153.85,60.30 L159.45,60.30 L160.70,41.50 L161.35,57.51 L162.00,51.00 L163.25,60.30 L166.85,60.30 L168.10,48.90 L168.80,56.88 L169.50,48.90 L170.70,59.80 L171.90,38.80 L172.70,56.28 L173.50,46.90 L175.00,59.80 L176.50,27.40 L178.05,59.80 L179.60,44.20 L180.70,59.80 L181.80,38.10 L182.70,57.90 L183.60,52.30 L184.85,60.30 L187.05,60.30 L188.30,36.80 L189.30,59.80 L190.30,45.50 L191.30,59.80 L192.30,36.10 L193.80,59.80 L195.30,26.00 L196.15,53.04 L197.00,36.10 L198.05,59.80 L199.10,40.20 L200.10,59.80 L201.10,33.40 L202.35,60.30 L203.25,60.30 L204.50,41.50 L205.75,60.30 L206.55,60.30 L207.80,28.70 L209.05,60.30 L209.95,60.30 L211.20,48.20 L212.45,60.30 L213.95,60.30 L215.20,45.50 L216.20,59.80 L217.20,44.20 L218.25,59.80 L219.30,35.40 L220.65,59.80 L222.00,38.80 L223.30,59.80 L224.60,32.00 L225.45,53.46 L226.30,37.50 L227.50,59.80 L228.70,46.90 L230.20,59.80 L231.70,41.50 L233.20,59.80 L234.70,52.30 L235.75,59.80 L236.80,32.70 L237.80,59.80 L238.80,35.40 L239.95,59.80 L241.10,44.20 L242.65,59.80 L244.20,42.80 L245.45,60.30 L248.35,60.30 L249.60,27.40 L250.85,60.30 L253.05,60.30 L254.30,34.80 L255.30,59.80 L256.30,43.50 L257.55,60.30 L258.35,60.30 L259.60,28.70 L260.95,59.80 L262.30,39.50 L263.55,60.30 L273.85,60.30 L275.10,51.00 L276.00,57.51 L276.90,35.40 L278.05,59.80 L279.20,51.00 L280.20,59.80 L281.20,38.10 L282.45,60.30 L285.35,60.30 L286.60,41.50 L287.85,60.30 L288.65,60.30 L289.90,53.00 L291.15,60.30 L292.05,60.30 L293.30,34.80 L294.70,60.30 L296.70,60.30" fill="none" stroke="#1c1c1c" stroke-width="0.95" stroke-linejoin="miter" stroke-miterlimit="4"/>
<line x1="20.5" y1="60.3" x2="296.7" y2="60.3" stroke="#111" stroke-width="1"/>
<rect x="20.5" y="60.8" width="276.2" height="2.8" fill="#e6d6da" stroke="none" stroke-width="1"/>
<line x1="20.5" y1="63.9" x2="296.7" y2="63.9" stroke="#555" stroke-width="0.8"/>
<line x1="26.5" y1="64.2" x2="26.5" y2="67" stroke="#555" stroke-width="0.6"/>
<line x1="54.5" y1="64.2" x2="54.5" y2="67" stroke="#555" stroke-width="0.6"/>
<line x1="82.5" y1="64.2" x2="82.5" y2="67" stroke="#555" stroke-width="0.6"/>
<line x1="110.5" y1="64.2" x2="110.5" y2="67" stroke="#555" stroke-width="0.6"/>
<line x1="138.5" y1="64.2" x2="138.5" y2="67" stroke="#555" stroke-width="0.6"/>
<line x1="166.5" y1="64.2" x2="166.5" y2="67" stroke="#555" stroke-width="0.6"/>
<line x1="194.5" y1="64.2" x2="194.5" y2="67" stroke="#555" stroke-width="0.6"/>
<line x1="222.5" y1="64.2" x2="222.5" y2="67" stroke="#555" stroke-width="0.6"/>
<line x1="250.5" y1="64.2" x2="250.5" y2="67" stroke="#555" stroke-width="0.6"/>
<line x1="278.5" y1="64.2" x2="278.5" y2="67" stroke="#555" stroke-width="0.6"/>
<text x="298.8" y="31.7" font-size="5.2" text-anchor="start" fill="#333" stroke="#333" stroke-width="0.14">100%</text>
<text x="298.8" y="61.2" font-size="5.2" text-anchor="start" fill="#333" stroke="#333" stroke-width="0.14">50%</text>
<text x="7.6" y="44.9" font-size="5.3" text-anchor="start" fill="#333" stroke="#333" stroke-width="0.14">h/m</text>
<path d="M31.4,95.8 L31.40,91.95 L31.65,91.20 L31.90,88.34 L32.15,91.86 L32.40,91.56 L32.65,91.00 L32.90,93.57 L33.15,88.80 L33.40,88.80 L33.65,88.80 L33.90,93.99 L34.15,92.90 L34.40,94.01 L34.65,89.28 L34.90,90.20 L35.15,95.13 L35.40,92.49 L35.65,92.55 L35.90,93.59 L36.15,93.71 L36.40,94.93 L36.65,95.16 L36.90,93.98 L37.15,95.10 L37.40,94.86 L37.65,94.74 L37.90,95.15 L38.15,94.16 L38.40,94.23 L38.65,92.97 L38.90,94.00 L39.15,93.63 L39.40,94.06 L39.65,93.56 L39.90,88.00 L40.15,88.00 L40.40,88.00 L40.65,88.00 L40.90,90.16 L41.15,91.04 L41.40,93.32 L41.65,93.74 L41.90,93.45 L42.15,94.38 L42.40,90.66 L42.65,92.88 L42.90,90.12 L43.15,92.95 L43.40,89.35 L43.65,90.12 L43.90,76.80 L44.15,76.80 L44.40,76.80 L44.65,76.80 L44.90,89.19 L45.15,92.89 L45.40,94.37 L45.65,91.54 L45.90,90.58 L46.15,94.67 L46.40,95.06 L46.65,94.52 L46.90,92.55 L47.15,93.26 L47.40,95.00 L47.65,94.73 L47.90,95.04 L48.15,94.41 L48.40,90.45 L48.65,93.97 L48.90,91.97 L49.15,92.62 L49.40,93.91 L49.65,90.88 L49.90,94.16 L50.15,91.45 L50.40,94.21 L50.65,92.77 L50.90,93.81 L51.15,94.45 L51.40,91.87 L51.65,92.57 L51.90,85.30 L52.15,85.30 L52.40,85.30 L52.65,85.30 L52.90,92.36 L53.15,93.20 L53.40,94.88 L53.65,91.80 L53.90,94.61 L54.15,94.48 L54.40,92.69 L54.65,94.27 L54.90,94.37 L55.15,94.94 L55.40,94.91 L55.65,93.41 L55.90,94.53 L56.15,93.35 L56.40,94.14 L56.65,93.87 L56.90,91.92 L57.15,92.41 L57.40,91.87 L57.65,89.98 L57.90,93.95 L58.15,94.07 L58.40,89.70 L58.65,90.32 L58.90,93.65 L59.15,93.92 L59.40,90.84 L59.65,89.47 L59.90,93.89 L60.15,89.40 L60.40,89.88 L60.65,91.70 L60.90,92.76 L61.15,92.38 L61.40,91.69 L61.65,86.72 L61.90,90.30 L62.15,89.17 L62.40,75.80 L62.65,75.80 L62.90,75.80 L63.15,75.80 L63.40,89.16 L63.65,89.02 L63.90,90.30 L64.15,90.87 L64.40,90.43 L64.65,87.79 L64.90,89.96 L65.15,92.58 L65.40,87.17 L65.65,93.08 L65.90,94.01 L66.15,94.45 L66.40,93.90 L66.65,94.96 L66.90,94.70 L67.15,94.15 L67.40,93.45 L67.65,94.81 L67.90,94.17 L68.15,92.21 L68.40,91.83 L68.65,93.14 L68.90,93.01 L69.15,93.41 L69.40,94.79 L69.65,95.01 L69.90,95.03 L70.15,92.13 L70.40,92.97 L70.65,91.80 L70.90,91.80 L71.15,91.80 L71.40,91.80 L71.65,92.86 L71.90,94.30 L72.15,91.75 L72.40,94.94 L72.65,93.55 L72.90,92.83 L73.15,88.54 L73.40,89.86 L73.65,90.12 L73.90,89.42 L74.15,88.42 L74.40,92.60 L74.65,90.26 L74.90,88.54 L75.15,88.78 L75.40,92.18 L75.65,89.44 L75.90,88.85 L76.15,93.45 L76.40,93.26 L76.65,94.10 L76.90,93.41 L77.15,93.32 L77.40,94.93 L77.65,93.20 L77.90,91.78 L78.15,92.26 L78.40,92.87 L78.65,94.08 L78.90,92.84 L79.15,93.42 L79.40,93.91 L79.65,92.43 L79.90,94.92 L80.15,90.76 L80.40,94.49 L80.65,91.71 L80.90,92.43 L81.15,93.74 L81.40,91.10 L81.65,92.33 L81.90,91.63 L82.15,89.61 L82.40,93.62 L82.65,94.53 L82.90,93.40 L83.15,91.23 L83.40,93.86 L83.65,94.00 L83.90,89.71 L84.15,91.35 L84.40,92.65 L84.65,89.81 L84.90,93.26 L85.15,91.31 L85.40,93.88 L85.65,88.10 L85.90,88.10 L86.15,88.10 L86.40,88.10 L86.65,92.96 L86.90,91.82 L87.15,93.32 L87.40,94.14 L87.65,92.34 L87.90,90.19 L88.15,91.24 L88.40,91.97 L88.65,90.68 L88.90,93.97 L89.15,94.36 L89.40,93.24 L89.65,93.98 L89.90,94.21 L90.15,93.40 L90.40,92.41 L90.65,93.04 L90.90,93.82 L91.15,91.30 L91.40,90.50 L91.65,93.23 L91.90,94.65 L92.15,94.75 L92.40,91.11 L92.65,94.73 L92.90,91.99 L93.15,92.68 L93.40,93.84 L93.65,91.55 L93.90,94.77 L94.15,94.47 L94.40,93.22 L94.65,94.76 L94.90,91.35 L95.15,94.12 L95.40,94.46 L95.65,94.72 L95.90,92.39 L96.15,93.26 L96.40,92.39 L96.65,92.26 L96.90,91.47 L97.15,90.64 L97.40,92.11 L97.65,94.26 L97.90,93.13 L98.15,94.33 L98.40,94.79 L98.65,93.14 L98.90,91.96 L99.15,94.33 L99.40,93.99 L99.65,93.69 L99.90,92.05 L100.15,92.92 L100.40,92.46 L100.65,91.74 L100.90,93.49 L101.15,91.55 L101.40,90.93 L101.65,94.62 L101.90,90.78 L102.15,91.92 L102.40,92.47 L102.65,91.63 L102.90,90.80 L103.15,78.30 L103.40,78.30 L103.65,78.30 L103.90,78.30 L104.15,90.80 L104.40,90.72 L104.65,92.34 L104.90,92.28 L105.15,94.24 L105.40,91.92 L105.65,91.41 L105.90,92.33 L106.15,91.94 L106.40,94.21 L106.65,90.96 L106.90,90.51 L107.15,90.53 L107.40,92.84 L107.65,91.56 L107.90,93.80 L108.15,90.91 L108.40,91.21 L108.65,93.68 L108.90,94.63 L109.15,93.28 L109.40,92.78 L109.65,91.68 L109.90,93.07 L110.15,94.76 L110.40,91.46 L110.65,94.68 L110.90,91.51 L111.15,94.35 L111.40,93.74 L111.65,91.57 L111.90,94.46 L112.15,94.43 L112.40,92.94 L112.65,91.91 L112.90,91.29 L113.15,92.09 L113.40,90.71 L113.65,93.05 L113.90,90.69 L114.15,94.62 L114.40,94.18 L114.65,92.89 L114.90,93.92 L115.15,91.88 L115.40,92.34 L115.65,92.91 L115.90,91.27 L116.15,92.73 L116.40,93.83 L116.65,93.54 L116.90,91.26 L117.15,90.96 L117.40,94.23 L117.65,91.23 L117.90,90.58 L118.15,92.90 L118.40,92.67 L118.65,94.25 L118.90,92.84 L119.15,93.00 L119.40,92.51 L119.65,94.76 L119.90,90.57 L120.15,92.94 L120.40,93.46 L120.65,91.50 L120.90,92.72 L121.15,93.05 L121.40,92.08 L121.65,94.67 L121.90,92.83 L122.15,93.40 L122.40,90.65 L122.65,90.83 L122.90,94.00 L123.15,93.14 L123.40,94.50 L123.65,93.31 L123.90,91.42 L124.15,90.96 L124.40,93.12 L124.65,93.81 L124.90,94.29 L125.15,92.45 L125.40,90.82 L125.65,94.49 L125.90,91.62 L126.15,94.77 L126.40,94.28 L126.65,94.16 L126.90,92.10 L127.15,93.79 L127.40,93.65 L127.65,92.44 L127.90,94.57 L128.15,91.87 L128.40,94.51 L128.65,92.96 L128.90,94.07 L129.15,94.27 L129.40,92.87 L129.65,93.30 L129.90,93.57 L130.15,93.40 L130.40,92.88 L130.65,94.39 L130.90,94.24 L131.15,92.38 L131.40,92.34 L131.65,92.87 L131.90,91.23 L132.15,92.48 L132.40,91.20 L132.65,94.14 L132.90,91.82 L133.15,91.45 L133.40,90.95 L133.65,93.82 L133.90,93.82 L134.15,90.84 L134.40,94.19 L134.65,90.41 L134.90,91.03 L135.15,94.48 L135.40,94.11 L135.65,91.90 L135.90,94.04 L136.15,94.59 L136.40,91.33 L136.65,93.37 L136.90,91.56 L137.15,94.50 L137.40,93.45 L137.65,92.11 L137.90,94.78 L138.15,94.25 L138.40,92.12 L138.65,90.90 L138.90,90.58 L139.15,94.53 L139.40,92.99 L139.65,91.73 L139.90,93.00 L140.15,92.11 L140.40,94.30 L140.65,94.66 L140.90,94.56 L141.15,94.74 L141.40,92.77 L141.65,92.94 L141.90,92.69 L142.15,94.44 L142.40,94.31 L142.65,94.24 L142.90,91.29 L143.15,90.46 L143.40,90.81 L143.65,94.59 L143.90,94.68 L144.15,90.68 L144.40,93.19 L144.65,91.70 L144.90,93.77 L145.15,93.17 L145.40,92.94 L145.65,93.33 L145.90,92.53 L146.15,94.78 L146.40,92.03 L146.65,91.27 L146.90,94.32 L147.15,93.22 L147.40,91.83 L147.65,93.44 L147.90,94.27 L148.15,94.38 L148.40,92.95 L148.65,94.78 L148.90,91.00 L149.15,91.50 L149.40,92.01 L149.65,91.18 L149.90,92.39 L150.15,93.44 L150.40,92.54 L150.65,92.99 L150.90,90.50 L151.15,91.48 L151.40,94.04 L151.65,90.90 L151.90,91.80 L152.15,91.63 L152.40,91.43 L152.65,93.44 L152.90,90.98 L153.15,91.07 L153.40,92.06 L153.65,91.68 L153.90,91.69 L154.15,93.44 L154.40,91.92 L154.65,94.66 L154.90,87.80 L155.15,87.80 L155.40,87.80 L155.65,87.80 L155.90,92.34 L156.15,93.85 L156.40,87.80 L156.65,87.80 L156.90,87.80 L157.15,94.61 L157.40,93.75 L157.65,94.01 L157.90,94.11 L158.15,94.48 L158.40,92.70 L158.65,93.80 L158.90,93.63 L159.15,93.45 L159.40,92.76 L159.65,95.21 L159.90,93.88 L160.15,93.52 L160.40,94.79 L160.65,94.45 L160.90,95.17 L161.15,94.92 L161.40,94.52 L161.65,95.10 L161.90,94.81 L162.15,93.00 L162.40,94.06 L162.65,94.18 L162.90,92.80 L163.15,94.01 L163.40,92.71 L163.65,93.81 L163.90,93.30 L164.15,95.14 L164.40,93.93 L164.65,93.46 L164.90,95.18 L165.15,92.92 L165.40,94.99 L165.65,94.27 L165.90,94.97 L166.15,94.21 L166.40,93.89 L166.65,95.16 L166.90,92.87 L167.15,94.40 L167.40,94.13 L167.65,93.93 L167.90,94.54 L168.15,94.73 L168.40,93.77 L168.65,94.03 L168.90,94.73 L169.15,93.58 L169.40,94.71 L169.65,95.22 L169.90,94.82 L170.15,95.18 L170.40,95.00 L170.65,93.47 L170.90,94.48 L171.15,93.03 L171.40,93.49 L171.65,95.17 L171.90,92.73 L172.15,92.88 L172.40,95.14 L172.65,93.00 L172.90,94.38 L173.15,94.26 L173.40,92.78 L173.65,94.82 L173.90,94.13 L174.15,92.90 L174.40,93.57 L174.65,94.28 L174.90,92.76 L175.15,93.28 L175.40,93.91 L175.65,95.07 L175.90,93.85 L176.15,94.31 L176.40,94.91 L176.65,95.17 L176.90,94.12 L177.15,95.06 L177.40,94.35 L177.65,93.73 L177.90,94.31 L178.15,94.78 L178.40,93.97 L178.65,94.41 L178.90,93.40 L179.15,94.11 L179.40,92.70 L179.65,92.85 L179.90,93.53 L180.15,94.83 L180.40,95.07 L180.65,93.04 L180.90,93.38 L181.15,93.85 L181.40,94.56 L181.65,94.76 L181.90,93.68 L182.15,94.02 L182.40,93.95 L182.65,93.83 L182.90,93.47 L183.15,94.93 L183.40,94.81 L183.65,92.76 L183.90,92.97 L184.15,93.09 L184.40,95.19 L184.65,95.16 L184.90,94.76 L185.15,94.39 L185.40,93.86 L185.65,95.09 L185.90,94.08 L186.15,93.80 L186.40,93.73 L186.65,89.42 L186.90,90.51 L187.15,89.82 L187.40,91.91 L187.65,91.10 L187.90,93.03 L188.15,92.13 L188.40,88.80 L188.65,87.93 L188.90,93.79 L189.15,93.24 L189.40,87.12 L189.65,89.04 L189.90,87.55 L190.15,92.62 L190.40,90.91 L190.65,81.80 L190.90,81.80 L191.15,81.80 L191.40,88.74 L191.65,85.12 L191.90,91.76 L192.15,89.77 L192.40,87.79 L192.65,85.89 L192.90,83.37 L193.15,80.51 L193.40,77.93 L193.65,75.74 L193.90,73.55 L194.15,71.69 L194.40,71.13 L194.65,70.58 L194.90,70.02 L195.15,69.85 L195.40,69.93 L195.65,70.02 L195.90,70.10 L196.15,70.18 L196.40,70.27 L196.65,71.05 L196.90,72.30 L197.15,73.55 L197.40,75.05 L197.65,76.61 L197.90,78.18 L198.15,79.55 L198.40,80.80 L198.65,82.05 L198.90,83.30 L199.15,84.40 L199.40,85.40 L199.65,86.40 L199.90,87.21 L200.15,91.42 L200.40,88.26 L200.65,92.41 L200.90,92.32 L201.15,91.71 L201.40,87.00 L201.65,87.39 L201.90,92.79 L202.15,92.00 L202.40,91.97 L202.65,91.99 L202.90,91.74 L203.15,91.80 L203.40,93.13 L203.65,90.39 L203.90,82.97 L204.15,86.87 L204.40,82.34 L204.65,80.30 L204.90,80.30 L205.15,80.30 L205.40,80.30 L205.65,90.26 L205.90,92.71 L206.15,87.22 L206.40,86.82 L206.65,86.48 L206.90,80.17 L207.15,85.24 L207.40,80.80 L207.65,80.80 L207.90,80.80 L208.15,80.80 L208.40,92.27 L208.65,92.29 L208.90,83.92 L209.15,81.31 L209.40,93.15 L209.65,88.07 L209.90,92.75 L210.15,86.79 L210.40,87.91 L210.65,91.96 L210.90,92.16 L211.15,86.56 L211.40,89.30 L211.65,86.56 L211.90,90.60 L212.15,91.14 L212.40,84.06 L212.65,95.80 L212.90,95.80 L213.15,95.80 L213.40,95.80 L213.65,95.80 L213.90,90.27 L214.15,93.12 L214.40,90.81 L214.65,91.75 L214.90,90.65 L215.15,90.94 L215.40,90.77 L215.65,90.30 L215.90,89.99 L216.15,90.30 L216.40,92.54 L216.65,91.50 L216.90,90.96 L217.15,93.06 L217.40,93.07 L217.65,94.27 L217.90,91.32 L218.15,89.78 L218.40,93.29 L218.65,94.19 L218.90,94.05 L219.15,93.05 L219.40,93.68 L219.65,89.92 L219.90,94.55 L220.15,93.60 L220.40,94.38 L220.65,90.11 L220.90,89.03 L221.15,93.41 L221.40,93.98 L221.65,91.58 L221.90,90.62 L222.15,82.40 L222.40,82.40 L222.65,82.40 L222.90,82.40 L223.15,93.19 L223.40,93.08 L223.65,89.53 L223.90,90.54 L224.15,93.15 L224.40,93.38 L224.65,92.80 L224.90,93.45 L225.15,89.19 L225.40,92.60 L225.65,90.90 L225.90,88.68 L226.15,91.43 L226.40,88.80 L226.65,88.05 L226.90,87.81 L227.15,92.40 L227.40,90.91 L227.65,87.42 L227.90,91.40 L228.15,93.17 L228.40,94.03 L228.65,87.51 L228.90,88.81 L229.15,92.11 L229.40,91.06 L229.65,88.80 L229.90,88.80 L230.15,87.12 L230.40,88.80 L230.65,93.07 L230.90,94.15 L231.15,91.48 L231.40,92.20 L231.65,88.85 L231.90,89.57 L232.15,91.27 L232.40,93.88 L232.65,93.88 L232.90,93.04 L233.15,93.38 L233.40,89.38 L233.65,91.86 L233.90,91.06 L234.15,88.43 L234.40,93.34 L234.65,91.74 L234.90,93.91 L235.15,90.12 L235.40,94.42 L235.65,89.74 L235.90,89.56 L236.15,89.74 L236.40,94.19 L236.65,93.32 L236.90,90.50 L237.15,89.80 L237.40,89.80 L237.65,89.80 L237.90,88.72 L238.15,91.40 L238.40,89.47 L238.65,93.14 L238.90,89.98 L239.15,92.48 L239.40,89.02 L239.65,89.80 L239.90,89.70 L240.15,89.80 L240.40,89.80 L240.65,91.80 L240.90,93.88 L241.15,89.66 L241.40,93.10 L241.65,93.10 L241.90,94.21 L242.15,93.13 L242.40,92.18 L242.65,90.51 L242.90,92.82 L243.15,90.71 L243.40,94.10 L243.65,92.62 L243.90,92.21 L244.15,88.63 L244.40,89.68 L244.65,90.94 L244.90,94.41 L245.15,91.04 L245.40,87.68 L245.65,92.23 L245.90,89.23 L246.15,90.29 L246.40,93.65 L246.65,84.43 L246.90,86.69 L247.15,92.47 L247.40,88.69 L247.65,91.80 L247.90,85.00 L248.15,85.00 L248.40,85.00 L248.65,91.40 L248.90,90.91 L249.15,88.16 L249.40,92.08 L249.65,92.52 L249.90,87.45 L250.15,91.47 L250.40,84.99 L250.65,89.25 L250.90,87.53 L251.15,93.24 L251.40,90.25 L251.65,94.30 L251.90,94.12 L252.15,94.29 L252.40,91.23 L252.65,91.04 L252.90,93.96 L253.15,92.87 L253.40,90.19 L253.65,91.76 L253.90,94.31 L254.15,93.75 L254.40,94.05 L254.65,94.18 L254.90,92.84 L255.15,93.22 L255.40,84.66 L255.65,90.28 L255.90,89.41 L256.15,87.93 L256.40,86.54 L256.65,85.89 L256.90,90.68 L257.15,91.19 L257.40,81.00 L257.65,81.00 L257.90,81.00 L258.15,87.32 L258.40,83.88 L258.65,86.27 L258.90,87.78 L259.15,88.36 L259.40,93.49 L259.65,91.20 L259.90,91.09 L260.15,87.89 L260.40,93.01 L260.65,90.76 L260.90,89.43 L261.15,86.28 L261.40,85.84 L261.65,88.33 L261.90,92.65 L262.15,86.54 L262.40,84.88 L262.65,85.00 L262.90,85.00 L263.15,85.00 L263.40,85.00 L263.65,87.17 L263.90,83.82 L264.15,89.36 L264.40,94.36 L264.65,94.12 L264.90,95.23 L265.15,93.89 L265.40,94.53 L265.65,95.22 L265.90,95.36 L266.15,95.16 L266.40,94.62 L266.65,94.39 L266.90,95.04 L267.15,93.93 L267.40,94.99 L267.65,94.82 L267.90,95.32 L268.15,93.83 L268.40,95.30 L268.65,93.98 L268.90,94.68 L269.15,94.65 L269.40,94.65 L269.65,95.13 L269.90,93.97 L270.15,93.79 L270.40,94.16 L270.65,94.57 L270.90,95.32 L271.15,94.14 L271.40,95.10 L271.65,93.99 L271.90,95.17 L272.15,95.80 L272.40,95.80 L272.65,93.37 L272.90,90.90 L273.15,93.92 L273.40,94.09 L273.65,93.41 L273.90,87.15 L274.15,87.58 L274.40,90.02 L274.65,92.63 L274.90,87.80 L275.15,87.80 L275.40,87.80 L275.65,90.56 L275.90,88.79 L276.15,94.14 L276.40,93.30 L276.65,91.51 L276.90,93.60 L277.15,92.10 L277.40,90.74 L277.65,93.44 L277.90,94.36 L278.15,94.91 L278.40,94.25 L278.65,94.78 L278.90,94.06 L279.15,95.27 L279.40,93.99 L279.65,95.12 L279.90,93.22 L280.15,94.17 L280.40,94.48 L280.65,94.61 L280.90,94.11 L281.15,93.94 L281.40,93.77 L281.65,93.78 L281.90,94.44 L282.15,93.12 L282.40,93.55 L282.65,93.51 L282.90,94.61 L283.15,93.00 L283.40,92.31 L283.65,90.33 L283.90,92.53 L284.15,92.53 L284.40,93.01 L284.65,90.33 L284.90,93.55 L285.15,94.56 L285.40,91.41 L285.65,90.36 L285.90,90.80 L286.15,90.80 L286.40,91.26 L286.65,93.62 L286.90,92.16 L287.15,94.52 L287.40,94.35 L287.65,92.94 L287.90,92.65 L288,95.8 Z" fill="#000"/>
<path d="M31.4,126.3 L31.40,124.70 L31.65,124.70 L31.90,124.70 L32.15,124.17 L32.40,124.17 L32.65,124.17 L32.90,124.14 L33.15,124.14 L33.40,124.14 L33.65,125.49 L33.90,125.49 L34.15,125.49 L34.40,125.69 L34.65,125.69 L34.90,125.69 L35.15,124.96 L35.40,124.96 L35.65,124.96 L35.90,125.21 L36.15,124.80 L36.40,124.80 L36.65,122.71 L36.90,122.71 L37.15,122.71 L37.40,123.23 L37.65,123.23 L37.90,123.23 L38.15,123.60 L38.40,123.60 L38.65,123.60 L38.90,123.77 L39.15,123.77 L39.40,123.77 L39.65,123.35 L39.90,123.35 L40.15,123.35 L40.40,125.18 L40.65,125.18 L40.90,125.18 L41.15,124.23 L41.40,124.23 L41.65,124.23 L41.90,125.13 L42.15,125.13 L42.40,125.13 L42.65,122.28 L42.90,122.28 L43.15,122.28 L43.40,125.38 L43.65,125.38 L43.90,125.38 L44.15,122.68 L44.40,122.68 L44.65,122.68 L44.90,125.35 L45.15,125.35 L45.40,125.35 L45.65,123.25 L45.90,123.25 L46.15,123.25 L46.40,124.59 L46.65,124.59 L46.90,124.59 L47.15,124.36 L47.40,124.36 L47.65,124.36 L47.90,122.57 L48.15,122.57 L48.40,122.57 L48.65,125.45 L48.90,125.45 L49.15,125.45 L49.40,125.38 L49.65,125.38 L49.90,125.38 L50.15,122.24 L50.40,122.24 L50.65,122.24 L50.90,123.97 L51.15,123.97 L51.40,123.97 L51.65,125.31 L51.90,125.31 L52.15,125.31 L52.40,121.91 L52.65,121.91 L52.90,121.91 L53.15,122.09 L53.40,122.09 L53.65,122.09 L53.90,125.26 L54.15,125.26 L54.40,125.26 L54.65,124.29 L54.90,124.29 L55.15,124.29 L55.40,125.21 L55.65,125.21 L55.90,125.21 L56.15,124.67 L56.40,124.67 L56.65,124.67 L56.90,123.52 L57.15,123.52 L57.40,123.52 L57.65,125.13 L57.90,125.13 L58.15,125.13 L58.40,123.21 L58.65,123.21 L58.90,123.21 L59.15,125.40 L59.40,125.40 L59.65,125.40 L59.90,125.11 L60.15,125.11 L60.40,125.11 L60.65,122.69 L60.90,122.69 L61.15,122.69 L61.40,124.37 L61.65,124.37 L61.90,124.37 L62.15,124.30 L62.40,124.30 L62.65,124.30 L62.90,123.62 L63.15,123.62 L63.40,123.62 L63.65,124.09 L63.90,124.09 L64.15,124.09 L64.40,124.43 L64.65,124.43 L64.90,124.43 L65.15,125.44 L65.40,125.44 L65.65,125.44 L65.90,123.08 L66.15,123.08 L66.40,123.08 L66.65,122.00 L66.90,122.00 L67.15,122.00 L67.40,121.96 L67.65,121.96 L67.90,121.96 L68.15,123.34 L68.40,123.34 L68.65,123.34 L68.90,124.53 L69.15,124.53 L69.40,124.53 L69.65,124.50 L69.90,124.50 L70.15,124.50 L70.40,123.23 L70.65,123.23 L70.90,123.23 L71.15,123.30 L71.40,123.30 L71.65,123.30 L71.90,125.26 L72.15,125.26 L72.40,125.26 L72.65,124.92 L72.90,124.92 L73.15,124.92 L73.40,124.50 L73.65,124.50 L73.90,124.50 L74.15,123.96 L74.40,123.96 L74.65,123.96 L74.90,122.71 L75.15,122.71 L75.40,122.71 L75.65,124.00 L75.90,124.00 L76.15,124.00 L76.40,125.44 L76.65,125.44 L76.90,125.44 L77.15,122.66 L77.40,122.66 L77.65,122.66 L77.90,124.26 L78.15,124.26 L78.40,124.26 L78.65,123.93 L78.90,123.93 L79.15,123.93 L79.40,124.96 L79.65,124.96 L79.90,124.96 L80.15,124.27 L80.40,124.27 L80.65,124.27 L80.90,124.41 L81.15,124.41 L81.40,124.41 L81.65,122.88 L81.90,122.88 L82.15,122.88 L82.40,125.29 L82.65,125.29 L82.90,125.29 L83.15,123.81 L83.40,123.81 L83.65,123.81 L83.90,125.09 L84.15,125.09 L84.40,125.09 L84.65,123.21 L84.90,123.21 L85.15,123.21 L85.40,125.43 L85.65,125.43 L85.90,125.43 L86.15,124.79 L86.40,124.79 L86.65,124.79 L86.90,124.57 L87.15,124.57 L87.40,124.57 L87.65,123.46 L87.90,123.46 L88.15,123.46 L88.40,125.40 L88.65,125.40 L88.90,125.40 L89.15,124.15 L89.40,124.15 L89.65,124.15 L89.90,125.00 L90.15,125.00 L90.40,125.00 L90.65,124.78 L90.90,124.78 L91.15,124.78 L91.40,124.09 L91.65,124.09 L91.90,124.09 L92.15,122.04 L92.40,122.04 L92.65,122.04 L92.90,124.07 L93.15,124.07 L93.40,124.07 L93.65,122.05 L93.90,122.05 L94.15,122.05 L94.40,125.12 L94.65,125.12 L94.90,125.12 L95.15,122.20 L95.40,122.20 L95.65,122.20 L95.90,124.50 L96.15,124.50 L96.40,124.50 L96.65,125.06 L96.90,125.06 L97.15,125.06 L97.40,122.98 L97.65,122.98 L97.90,122.98 L98.15,122.25 L98.40,122.25 L98.65,122.25 L98.90,125.47 L99.15,125.47 L99.40,125.47 L99.65,124.82 L99.90,124.82 L100.15,124.82 L100.40,122.89 L100.65,122.89 L100.90,122.89 L101.15,124.58 L101.40,124.58 L101.65,124.58 L101.90,124.90 L102.15,124.90 L102.40,124.90 L102.65,125.47 L102.90,125.47 L103.15,125.47 L103.40,125.42 L103.65,125.42 L103.90,125.42 L104.15,123.53 L104.40,123.53 L104.65,123.53 L104.90,121.92 L105.15,121.92 L105.40,121.92 L105.65,121.85 L105.90,121.85 L106.15,121.85 L106.40,123.99 L106.65,123.99 L106.90,123.99 L107.15,125.45 L107.40,125.45 L107.65,125.45 L107.90,124.64 L108.15,124.64 L108.40,124.64 L108.65,122.81 L108.90,122.81 L109.15,122.81 L109.40,122.62 L109.65,122.62 L109.90,122.62 L110.15,123.45 L110.40,123.45 L110.65,123.45 L110.90,124.94 L111.15,124.94 L111.40,124.94 L111.65,123.90 L111.90,123.90 L112.15,123.90 L112.40,124.09 L112.65,124.09 L112.90,124.09 L113.15,123.50 L113.40,123.50 L113.65,123.50 L113.90,124.84 L114.15,124.84 L114.40,124.84 L114.65,122.09 L114.90,122.09 L115.15,122.09 L115.40,122.34 L115.65,122.34 L115.90,122.34 L116.15,125.13 L116.40,125.13 L116.65,125.13 L116.90,124.74 L117.15,124.74 L117.40,124.74 L117.65,122.43 L117.90,122.43 L118.15,122.43 L118.40,124.79 L118.65,124.79 L118.90,124.79 L119.15,122.11 L119.40,122.11 L119.65,122.11 L119.90,123.94 L120.15,123.94 L120.40,123.94 L120.65,123.21 L120.90,123.21 L121.15,123.21 L121.40,123.17 L121.65,123.17 L121.90,123.17 L122.15,124.99 L122.40,124.99 L122.65,124.99 L122.90,124.77 L123.15,124.77 L123.40,124.77 L123.65,124.86 L123.90,124.86 L124.15,124.86 L124.40,123.26 L124.65,123.26 L124.90,123.26 L125.15,123.22 L125.40,123.22 L125.65,123.22 L125.90,125.21 L126.15,125.21 L126.40,125.21 L126.65,122.37 L126.90,122.37 L127.15,122.37 L127.40,124.30 L127.65,124.30 L127.90,124.30 L128.15,124.90 L128.40,124.90 L128.65,124.90 L128.90,124.24 L129.15,124.24 L129.40,124.24 L129.65,121.94 L129.90,121.94 L130.15,121.94 L130.40,123.77 L130.65,123.77 L130.90,123.77 L131.15,123.51 L131.40,123.51 L131.65,123.51 L131.90,122.22 L132.15,122.22 L132.40,122.22 L132.65,122.02 L132.90,122.02 L133.15,122.02 L133.40,122.93 L133.65,122.93 L133.90,122.93 L134.15,124.31 L134.40,124.31 L134.65,124.31 L134.90,123.65 L135.15,123.65 L135.40,123.65 L135.65,122.31 L135.90,122.31 L136.15,122.31 L136.40,122.81 L136.65,122.81 L136.90,122.81 L137.15,123.69 L137.40,123.69 L137.65,123.69 L137.90,124.56 L138.15,124.56 L138.40,124.56 L138.65,124.48 L138.90,124.48 L139.15,124.48 L139.40,123.04 L139.65,123.04 L139.90,123.04 L140.15,123.75 L140.40,123.75 L140.65,123.75 L140.90,125.46 L141.15,125.46 L141.40,125.46 L141.65,123.15 L141.90,123.15 L142.15,123.15 L142.40,122.29 L142.65,122.29 L142.90,122.29 L143.15,122.77 L143.40,122.77 L143.65,122.77 L143.90,122.32 L144.15,122.32 L144.40,122.32 L144.65,122.26 L144.90,122.26 L145.15,122.26 L145.40,123.87 L145.65,123.87 L145.90,123.87 L146.15,122.81 L146.40,122.81 L146.65,122.81 L146.90,124.44 L147.15,124.44 L147.40,124.44 L147.65,125.30 L147.90,125.30 L148.15,125.30 L148.40,124.54 L148.65,124.54 L148.90,124.54 L149.15,124.68 L149.40,124.68 L149.65,124.68 L149.90,122.15 L150.15,122.15 L150.40,122.15 L150.65,123.24 L150.90,123.24 L151.15,123.24 L151.40,123.84 L151.65,123.84 L151.90,123.84 L152.15,123.52 L152.40,123.52 L152.65,123.52 L152.90,125.23 L153.15,125.23 L153.40,125.23 L153.65,123.87 L153.90,123.87 L154.15,123.87 L154.40,123.19 L154.65,123.19 L154.90,123.19 L155.15,124.39 L155.40,124.39 L155.65,124.39 L155.90,124.89 L156.15,124.89 L156.40,124.89 L156.65,124.35 L156.90,124.35 L157.15,124.35 L157.40,124.64 L157.65,124.64 L157.90,124.64 L158.15,123.25 L158.40,123.25 L158.65,123.25 L158.90,125.19 L159.15,125.19 L159.40,125.19 L159.65,125.32 L159.90,125.32 L160.15,125.32 L160.40,124.67 L160.65,124.67 L160.90,124.67 L161.15,123.21 L161.40,123.21 L161.65,123.21 L161.90,122.94 L162.15,122.94 L162.40,122.94 L162.65,123.36 L162.90,123.36 L163.15,123.36 L163.40,122.15 L163.65,122.15 L163.90,122.15 L164.15,124.49 L164.40,124.49 L164.65,124.49 L164.90,125.44 L165.15,125.44 L165.40,125.44 L165.65,124.05 L165.90,124.05 L166.15,124.05 L166.40,124.21 L166.65,124.21 L166.90,124.21 L167.15,125.09 L167.40,125.09 L167.65,125.09 L167.90,123.33 L168.15,123.33 L168.40,123.33 L168.65,124.58 L168.90,124.58 L169.15,124.58 L169.40,124.91 L169.65,124.91 L169.90,124.91 L170.15,124.62 L170.40,124.62 L170.65,124.62 L170.90,122.11 L171.15,122.11 L171.40,122.11 L171.65,125.47 L171.90,125.47 L172.15,125.47 L172.40,124.51 L172.65,124.51 L172.90,124.51 L173.15,124.78 L173.40,124.78 L173.65,124.78 L173.90,125.02 L174.15,125.02 L174.40,125.02 L174.65,124.25 L174.90,124.25 L175.15,124.25 L175.40,124.97 L175.65,124.97 L175.90,124.97 L176.15,122.22 L176.40,122.22 L176.65,122.22 L176.90,124.00 L177.15,124.00 L177.40,124.00 L177.65,123.20 L177.90,123.20 L178.15,123.20 L178.40,125.13 L178.65,125.13 L178.90,125.13 L179.15,124.13 L179.40,124.13 L179.65,124.13 L179.90,123.58 L180.15,123.58 L180.40,123.58 L180.65,122.57 L180.90,122.57 L181.15,122.57 L181.40,124.88 L181.65,124.88 L181.90,124.88 L182.15,124.15 L182.40,124.15 L182.65,124.15 L182.90,122.51 L183.15,122.51 L183.40,122.51 L183.65,122.62 L183.90,122.62 L184.15,122.62 L184.40,124.95 L184.65,124.95 L184.90,124.95 L185.15,123.85 L185.40,123.85 L185.65,123.85 L185.90,122.93 L186.15,122.93 L186.40,122.93 L186.65,124.39 L186.90,124.39 L187.15,124.39 L187.40,123.30 L187.65,123.30 L187.90,123.30 L188.15,123.35 L188.40,123.35 L188.65,123.35 L188.90,121.97 L189.15,121.97 L189.40,121.97 L189.65,123.79 L189.90,123.79 L190.15,123.79 L190.40,123.27 L190.65,123.27 L190.90,123.27 L191.15,124.55 L191.40,124.55 L191.65,124.55 L191.90,123.05 L192.15,123.05 L192.40,123.05 L192.65,124.64 L192.90,124.64 L193.15,124.64 L193.40,124.00 L193.65,124.00 L193.90,124.00 L194.15,124.51 L194.40,124.51 L194.65,124.51 L194.90,124.69 L195.15,124.69 L195.40,124.69 L195.65,125.20 L195.90,125.20 L196.15,125.20 L196.40,124.95 L196.65,124.95 L196.90,124.95 L197.15,123.83 L197.40,123.83 L197.65,123.83 L197.90,124.87 L198.15,124.87 L198.40,124.87 L198.65,125.41 L198.90,125.41 L199.15,125.41 L199.40,122.74 L199.65,122.74 L199.90,122.74 L200.15,124.76 L200.40,124.76 L200.65,124.76 L200.90,122.14 L201.15,122.14 L201.40,122.14 L201.65,123.61 L201.90,123.61 L202.15,123.61 L202.40,124.41 L202.65,124.41 L202.90,124.41 L203.15,122.43 L203.40,122.43 L203.65,122.43 L203.90,122.32 L204.15,122.32 L204.40,122.32 L204.65,124.65 L204.90,124.65 L205.15,124.65 L205.40,125.23 L205.65,125.23 L205.90,125.23 L206.15,123.44 L206.40,123.44 L206.65,123.44 L206.90,122.57 L207.15,122.57 L207.40,122.57 L207.65,123.57 L207.90,123.57 L208.15,123.57 L208.40,122.83 L208.65,122.83 L208.90,122.83 L209.15,124.33 L209.40,124.33 L209.65,124.33 L209.90,123.53 L210.15,123.53 L210.40,123.53 L210.65,124.83 L210.90,124.83 L211.15,124.83 L211.40,124.35 L211.65,124.35 L211.90,124.35 L212.15,124.44 L212.40,124.44 L212.65,124.44 L212.90,124.43 L213.15,124.43 L213.40,124.43 L213.65,124.37 L213.90,124.37 L214.15,124.37 L214.40,122.73 L214.65,122.73 L214.90,122.73 L215.15,125.11 L215.40,125.11 L215.65,125.11 L215.90,125.01 L216.15,125.01 L216.40,125.01 L216.65,124.86 L216.90,124.86 L217.15,124.86 L217.40,121.98 L217.65,121.98 L217.90,121.98 L218.15,123.91 L218.40,123.91 L218.65,123.91 L218.90,125.40 L219.15,125.40 L219.40,125.40 L219.65,122.60 L219.90,122.60 L220.15,122.60 L220.40,122.43 L220.65,122.43 L220.90,122.43 L221.15,122.67 L221.40,122.67 L221.65,122.67 L221.90,124.52 L222.15,124.52 L222.40,124.52 L222.65,123.04 L222.90,123.04 L223.15,123.04 L223.40,124.70 L223.65,124.70 L223.90,124.70 L224.15,125.20 L224.40,125.20 L224.65,125.20 L224.90,122.47 L225.15,122.47 L225.40,122.47 L225.65,122.61 L225.90,122.61 L226.15,122.61 L226.40,124.99 L226.65,124.99 L226.90,124.99 L227.15,122.40 L227.40,122.40 L227.65,122.40 L227.90,125.45 L228.15,125.45 L228.40,125.45 L228.65,124.69 L228.90,124.69 L229.15,124.69 L229.40,125.46 L229.65,125.46 L229.90,125.46 L230.15,125.11 L230.40,125.11 L230.65,125.11 L230.90,125.13 L231.15,125.13 L231.40,125.13 L231.65,123.12 L231.90,123.12 L232.15,123.12 L232.40,124.73 L232.65,124.73 L232.90,124.73 L233.15,125.06 L233.40,125.06 L233.65,125.06 L233.90,125.07 L234.15,125.07 L234.40,125.07 L234.65,124.68 L234.90,124.68 L235.15,124.68 L235.40,122.48 L235.65,122.48 L235.90,122.48 L236.15,123.58 L236.40,123.58 L236.65,123.58 L236.90,125.29 L237.15,125.29 L237.40,125.29 L237.65,123.26 L237.90,123.26 L238.15,123.26 L238.40,123.86 L238.65,123.86 L238.90,123.86 L239.15,124.20 L239.40,124.20 L239.65,124.20 L239.90,123.89 L240.15,123.89 L240.40,123.89 L240.65,123.40 L240.90,123.40 L241.15,123.40 L241.40,122.76 L241.65,122.76 L241.90,122.76 L242.15,123.98 L242.40,123.98 L242.65,123.98 L242.90,123.46 L243.15,123.46 L243.40,123.46 L243.65,124.12 L243.90,124.12 L244.15,124.12 L244.40,123.47 L244.65,123.47 L244.90,123.47 L245.15,124.41 L245.40,124.41 L245.65,124.41 L245.90,124.32 L246.15,124.32 L246.40,124.32 L246.65,123.94 L246.90,123.94 L247.15,123.94 L247.40,123.13 L247.65,123.13 L247.90,123.13 L248.15,124.79 L248.40,124.79 L248.65,124.79 L248.90,122.20 L249.15,122.20 L249.40,122.20 L249.65,124.03 L249.90,124.03 L250.15,124.03 L250.40,122.51 L250.65,122.51 L250.90,122.51 L251.15,123.23 L251.40,123.23 L251.65,123.23 L251.90,122.05 L252.15,122.05 L252.40,122.05 L252.65,123.27 L252.90,123.27 L253.15,123.27 L253.40,124.27 L253.65,124.27 L253.90,124.27 L254.15,124.35 L254.40,124.35 L254.65,124.35 L254.90,123.58 L255.15,123.58 L255.40,123.58 L255.65,122.96 L255.90,122.96 L256.15,122.96 L256.40,122.59 L256.65,122.59 L256.90,122.59 L257.15,125.22 L257.40,125.22 L257.65,125.22 L257.90,125.38 L258.15,125.38 L258.40,125.38 L258.65,125.27 L258.90,125.27 L259.15,125.27 L259.40,125.33 L259.65,125.33 L259.90,125.33 L260.15,125.39 L260.40,125.39 L260.65,125.39 L260.90,125.47 L261.15,125.47 L261.40,125.47 L261.65,124.88 L261.90,124.88 L262.15,124.88 L262.40,125.26 L262.65,125.26 L262.90,125.26 L263.15,123.25 L263.40,123.25 L263.65,123.25 L263.90,123.54 L264.15,123.54 L264.40,123.54 L264.65,122.01 L264.90,122.01 L265.15,122.01 L265.40,122.03 L265.65,122.03 L265.90,122.03 L266.15,122.99 L266.40,122.99 L266.65,122.99 L266.90,122.08 L267.15,122.08 L267.40,122.08 L267.65,125.44 L267.90,125.44 L268.15,125.44 L268.40,124.94 L268.65,124.94 L268.90,124.94 L269.15,122.19 L269.40,122.19 L269.65,122.19 L269.90,124.09 L270.15,124.09 L270.40,124.09 L270.65,125.01 L270.90,125.01 L271.15,125.01 L271.40,122.95 L271.65,122.95 L271.90,122.95 L272.15,124.29 L272.40,124.29 L272.65,124.29 L272.90,123.83 L273.15,123.83 L273.40,123.83 L273.65,124.66 L273.90,124.66 L274.15,124.66 L274.40,124.90 L274.65,124.90 L274.90,124.90 L275.15,125.32 L275.40,125.32 L275.65,125.32 L275.90,123.58 L276.15,123.58 L276.40,123.58 L276.65,122.07 L276.90,122.07 L277.15,122.07 L277.40,121.91 L277.65,121.91 L277.90,121.91 L278.15,122.91 L278.40,122.91 L278.65,122.91 L278.90,122.16 L279.15,122.16 L279.40,122.16 L279.65,124.51 L279.90,124.51 L280.15,124.51 L280.40,124.72 L280.65,124.72 L280.90,124.72 L281.15,122.20 L281.40,122.20 L281.65,122.20 L281.90,123.61 L282.15,123.61 L282.40,123.61 L282.65,123.32 L282.90,123.32 L283.15,123.32 L283.40,125.46 L283.65,125.46 L283.90,125.46 L284.15,124.94 L284.40,124.94 L284.65,124.94 L284.90,124.07 L285.15,124.07 L285.40,124.07 L285.65,123.06 L285.90,123.06 L286.15,123.06 L286.40,122.64 L286.65,122.64 L286.90,122.64 L287.15,122.95 L287.40,122.95 L287.65,122.95 L287.90,124.58 L288,126.3 Z" fill="#000"/>
<path d="M31.4,157.9 L31.40,156.93 L31.65,155.31 L31.90,156.62 L32.15,157.02 L32.40,155.15 L32.65,157.15 L32.90,155.52 L33.15,152.04 L33.40,153.60 L33.65,153.60 L33.90,153.60 L34.15,155.54 L34.40,155.08 L34.65,155.94 L34.90,156.94 L35.15,156.62 L35.40,156.80 L35.65,157.27 L35.90,156.64 L36.15,157.31 L36.40,154.79 L36.65,155.34 L36.90,157.05 L37.15,155.78 L37.40,155.06 L37.65,156.16 L37.90,155.66 L38.15,155.86 L38.40,155.99 L38.65,157.31 L38.90,148.92 L39.15,148.92 L39.40,148.92 L39.65,156.38 L39.90,152.90 L40.15,152.90 L40.40,152.90 L40.65,152.90 L40.90,156.79 L41.15,156.81 L41.40,150.91 L41.65,150.91 L41.90,150.91 L42.15,157.02 L42.40,157.32 L42.65,156.51 L42.90,156.74 L43.15,156.79 L43.40,153.59 L43.65,153.59 L43.90,146.20 L44.15,146.20 L44.40,146.20 L44.65,146.20 L44.90,157.20 L45.15,152.18 L45.40,156.85 L45.65,155.75 L45.90,155.34 L46.15,156.56 L46.40,155.78 L46.65,157.21 L46.90,156.44 L47.15,153.90 L47.40,153.90 L47.65,153.90 L47.90,148.20 L48.15,148.20 L48.40,148.20 L48.65,148.20 L48.90,156.13 L49.15,156.38 L49.40,157.02 L49.65,155.04 L49.90,157.15 L50.15,155.82 L50.40,156.08 L50.65,157.34 L50.90,155.91 L51.15,156.55 L51.40,157.23 L51.65,155.49 L51.90,154.30 L52.15,154.30 L52.40,154.30 L52.65,154.30 L52.90,155.31 L53.15,156.37 L53.40,155.14 L53.65,156.76 L53.90,155.18 L54.15,156.58 L54.40,154.97 L54.65,156.08 L54.90,156.10 L55.15,156.98 L55.40,154.94 L55.65,157.25 L55.90,157.29 L56.15,156.20 L56.40,155.80 L56.65,153.93 L56.90,156.32 L57.15,157.10 L57.40,155.89 L57.65,154.94 L57.90,156.50 L58.15,155.04 L58.40,156.75 L58.65,149.50 L58.90,149.50 L59.15,149.50 L59.40,149.50 L59.65,149.97 L59.90,156.96 L60.15,157.34 L60.40,155.69 L60.65,156.20 L60.90,155.54 L61.15,156.39 L61.40,154.32 L61.65,156.22 L61.90,156.61 L62.15,156.22 L62.40,156.27 L62.65,155.70 L62.90,144.20 L63.15,144.20 L63.40,144.20 L63.65,157.13 L63.90,156.19 L64.15,155.53 L64.40,156.56 L64.65,156.50 L64.90,154.83 L65.15,157.25 L65.40,156.50 L65.65,156.35 L65.90,155.49 L66.15,155.13 L66.40,156.85 L66.65,154.92 L66.90,152.30 L67.15,152.30 L67.40,152.30 L67.65,156.91 L67.90,157.09 L68.15,156.04 L68.40,154.70 L68.65,155.84 L68.90,156.31 L69.15,156.18 L69.40,156.34 L69.65,156.96 L69.90,155.68 L70.15,156.98 L70.40,156.92 L70.65,157.02 L70.90,153.34 L71.15,155.65 L71.40,148.20 L71.65,148.20 L71.90,148.20 L72.15,148.20 L72.40,155.30 L72.65,156.45 L72.90,156.76 L73.15,155.28 L73.40,155.32 L73.65,156.74 L73.90,155.86 L74.15,155.91 L74.40,156.65 L74.65,155.01 L74.90,152.90 L75.15,152.90 L75.40,149.42 L75.65,149.42 L75.90,149.42 L76.15,157.15 L76.40,155.68 L76.65,156.95 L76.90,157.04 L77.15,157.29 L77.40,155.26 L77.65,151.18 L77.90,151.18 L78.15,151.18 L78.40,156.51 L78.65,157.28 L78.90,155.35 L79.15,157.22 L79.40,157.11 L79.65,156.62 L79.90,157.19 L80.15,156.45 L80.40,156.53 L80.65,155.79 L80.90,152.30 L81.15,152.30 L81.40,152.30 L81.65,151.68 L81.90,155.16 L82.15,156.49 L82.40,156.62 L82.65,157.04 L82.90,156.50 L83.15,157.07 L83.40,154.55 L83.65,153.50 L83.90,153.50 L84.15,153.50 L84.40,157.32 L84.65,156.46 L84.90,157.29 L85.15,157.11 L85.40,157.10 L85.65,155.05 L85.90,155.82 L86.15,156.07 L86.40,156.50 L86.65,156.18 L86.90,156.42 L87.15,155.36 L87.40,156.70 L87.65,156.10 L87.90,156.53 L88.15,154.99 L88.40,156.56 L88.65,155.66 L88.90,155.09 L89.15,157.30 L89.40,155.21 L89.65,156.77 L89.90,157.26 L90.15,156.83 L90.40,156.76 L90.65,153.84 L90.90,153.84 L91.15,153.84 L91.40,155.85 L91.65,155.31 L91.90,155.59 L92.15,157.16 L92.40,155.20 L92.65,156.89 L92.90,156.72 L93.15,152.40 L93.40,152.40 L93.65,152.40 L93.90,156.50 L94.15,154.91 L94.40,156.93 L94.65,153.85 L94.90,157.07 L95.15,155.60 L95.40,156.20 L95.65,156.61 L95.90,151.04 L96.15,156.81 L96.40,156.24 L96.65,155.34 L96.90,154.47 L97.15,154.70 L97.40,156.52 L97.65,151.40 L97.90,151.40 L98.15,151.40 L98.40,151.40 L98.65,156.49 L98.90,155.58 L99.15,157.04 L99.40,154.83 L99.65,155.03 L99.90,157.01 L100.15,154.19 L100.40,155.03 L100.65,156.31 L100.90,154.57 L101.15,156.32 L101.40,155.79 L101.65,156.06 L101.90,154.11 L102.15,148.61 L102.40,156.93 L102.65,147.85 L102.90,155.83 L103.15,152.35 L103.40,152.35 L103.65,143.50 L103.90,143.50 L104.15,143.50 L104.40,154.42 L104.65,155.44 L104.90,155.85 L105.15,154.32 L105.40,155.90 L105.65,155.55 L105.90,157.09 L106.15,154.18 L106.40,153.83 L106.65,155.10 L106.90,156.62 L107.15,155.50 L107.40,153.62 L107.65,148.99 L107.90,156.70 L108.15,154.37 L108.40,155.66 L108.65,153.96 L108.90,155.85 L109.15,154.23 L109.40,155.37 L109.65,157.08 L109.90,155.48 L110.15,152.92 L110.40,156.20 L110.65,153.71 L110.90,154.50 L111.15,156.86 L111.40,156.87 L111.65,156.19 L111.90,156.13 L112.15,154.83 L112.40,156.43 L112.65,155.75 L112.90,153.78 L113.15,154.32 L113.40,151.82 L113.65,156.43 L113.90,156.79 L114.15,156.89 L114.40,155.74 L114.65,154.64 L114.90,157.18 L115.15,155.85 L115.40,156.67 L115.65,156.36 L115.90,157.06 L116.15,156.12 L116.40,157.11 L116.65,157.16 L116.90,156.43 L117.15,156.58 L117.40,155.02 L117.65,157.31 L117.90,157.22 L118.15,157.37 L118.40,157.03 L118.65,157.04 L118.90,157.03 L119.15,156.11 L119.40,156.51 L119.65,156.95 L119.90,157.40 L120.15,157.01 L120.40,154.94 L120.65,156.69 L120.90,154.61 L121.15,154.89 L121.40,154.94 L121.65,156.98 L121.90,151.90 L122.15,151.90 L122.40,151.90 L122.65,151.90 L122.90,154.11 L123.15,154.78 L123.40,154.22 L123.65,155.53 L123.90,155.15 L124.15,156.11 L124.40,156.82 L124.65,155.09 L124.90,151.84 L125.15,156.52 L125.40,154.10 L125.65,156.56 L125.90,156.02 L126.15,155.83 L126.40,156.82 L126.65,156.82 L126.90,156.75 L127.15,156.93 L127.40,155.91 L127.65,156.54 L127.90,155.89 L128.15,156.32 L128.40,157.13 L128.65,156.10 L128.90,156.10 L129.15,155.97 L129.40,156.68 L129.65,157.37 L129.90,156.69 L130.15,157.13 L130.40,156.68 L130.65,154.09 L130.90,156.75 L131.15,156.51 L131.40,150.90 L131.65,150.90 L131.90,150.90 L132.15,153.84 L132.40,153.84 L132.65,156.23 L132.90,155.22 L133.15,154.63 L133.40,150.66 L133.65,150.66 L133.90,150.66 L134.15,155.07 L134.40,157.15 L134.65,155.35 L134.90,156.43 L135.15,157.08 L135.40,154.81 L135.65,155.08 L135.90,156.34 L136.15,156.35 L136.40,156.98 L136.65,154.02 L136.90,155.30 L137.15,154.03 L137.40,155.26 L137.65,155.77 L137.90,152.57 L138.15,154.45 L138.40,156.76 L138.65,152.40 L138.90,152.40 L139.15,152.11 L139.40,152.40 L139.65,154.61 L139.90,156.88 L140.15,156.55 L140.40,156.19 L140.65,153.98 L140.90,155.66 L141.15,155.12 L141.40,148.59 L141.65,154.76 L141.90,156.32 L142.15,156.21 L142.40,156.29 L142.65,156.96 L142.90,154.90 L143.15,157.07 L143.40,155.94 L143.65,156.38 L143.90,155.64 L144.15,154.75 L144.40,155.86 L144.65,156.08 L144.90,156.58 L145.15,156.98 L145.40,153.30 L145.65,154.72 L145.90,156.49 L146.15,156.82 L146.40,155.98 L146.65,156.10 L146.90,155.92 L147.15,155.90 L147.40,155.25 L147.65,156.38 L147.90,156.36 L148.15,154.50 L148.40,154.79 L148.65,155.15 L148.90,154.16 L149.15,155.13 L149.40,156.37 L149.65,156.90 L149.90,154.15 L150.15,155.68 L150.40,156.30 L150.65,156.11 L150.90,154.92 L151.15,156.87 L151.40,156.12 L151.65,157.01 L151.90,154.36 L152.15,150.90 L152.40,150.90 L152.65,150.90 L152.90,150.90 L153.15,156.02 L153.40,155.50 L153.65,156.47 L153.90,157.12 L154.15,156.52 L154.40,155.47 L154.65,156.67 L154.90,155.45 L155.15,155.31 L155.40,153.71 L155.65,155.39 L155.90,156.01 L156.15,154.00 L156.40,156.18 L156.65,154.85 L156.90,155.58 L157.15,155.52 L157.40,156.37 L157.65,156.67 L157.90,156.13 L158.15,155.17 L158.40,154.92 L158.65,156.35 L158.90,152.90 L159.15,152.90 L159.40,152.90 L159.65,152.90 L159.90,156.45 L160.15,154.97 L160.40,156.78 L160.65,155.09 L160.90,157.11 L161.15,156.92 L161.40,154.61 L161.65,153.95 L161.90,155.91 L162.15,149.68 L162.40,156.94 L162.65,156.01 L162.90,156.18 L163.15,156.96 L163.40,153.90 L163.65,152.92 L163.90,155.22 L164.15,154.75 L164.40,153.96 L164.65,154.26 L164.90,156.92 L165.15,155.82 L165.40,156.72 L165.65,157.02 L165.90,155.61 L166.15,154.29 L166.40,154.32 L166.65,157.09 L166.90,155.11 L167.15,155.96 L167.40,155.21 L167.65,155.09 L167.90,156.64 L168.15,156.38 L168.40,155.00 L168.65,156.00 L168.90,154.88 L169.15,155.64 L169.40,156.00 L169.65,155.63 L169.90,154.41 L170.15,151.65 L170.40,154.01 L170.65,154.12 L170.90,154.33 L171.15,156.85 L171.40,155.89 L171.65,152.87 L171.90,155.04 L172.15,156.30 L172.40,156.10 L172.65,156.17 L172.90,155.34 L173.15,156.42 L173.40,154.24 L173.65,155.83 L173.90,154.46 L174.15,156.72 L174.40,156.36 L174.65,154.86 L174.90,156.39 L175.15,155.56 L175.40,154.77 L175.65,155.26 L175.90,155.86 L176.15,154.80 L176.40,153.65 L176.65,153.65 L176.90,153.36 L177.15,152.11 L177.40,152.11 L177.65,152.11 L177.90,156.19 L178.15,155.66 L178.40,156.23 L178.65,155.13 L178.90,154.66 L179.15,154.21 L179.40,155.32 L179.65,156.66 L179.90,155.37 L180.15,156.92 L180.40,157.14 L180.65,153.80 L180.90,153.80 L181.15,153.80 L181.40,156.80 L181.65,153.67 L181.90,156.73 L182.15,155.11 L182.40,154.82 L182.65,156.12 L182.90,156.54 L183.15,156.49 L183.40,156.61 L183.65,155.03 L183.90,155.20 L184.15,153.19 L184.40,155.42 L184.65,156.37 L184.90,155.11 L185.15,156.78 L185.40,156.13 L185.65,154.27 L185.90,156.72 L186.15,156.98 L186.40,154.19 L186.65,155.82 L186.90,154.21 L187.15,156.07 L187.40,154.42 L187.65,157.08 L187.90,155.90 L188.15,157.90 L188.40,139.36 L188.65,149.48 L188.90,145.48 L189.15,148.86 L189.40,153.94 L189.65,152.95 L189.90,144.90 L190.15,144.90 L190.40,144.90 L190.65,144.90 L190.90,150.26 L191.15,151.55 L191.40,153.61 L191.65,153.30 L191.90,146.20 L192.15,154.73 L192.40,150.66 L192.65,144.94 L192.90,146.99 L193.15,140.05 L193.40,147.65 L193.65,148.73 L193.90,149.59 L194.15,155.56 L194.40,154.93 L194.65,153.25 L194.90,148.29 L195.15,152.13 L195.40,144.90 L195.65,144.90 L195.90,144.90 L196.15,154.84 L196.40,148.72 L196.65,151.05 L196.90,143.86 L197.15,153.31 L197.40,151.58 L197.65,148.85 L197.90,145.88 L198.15,151.33 L198.40,154.84 L198.65,142.38 L198.90,146.67 L199.15,153.83 L199.40,151.35 L199.65,146.03 L199.90,155.24 L200.15,146.07 L200.40,150.96 L200.65,153.45 L200.90,149.99 L201.15,153.06 L201.40,150.30 L201.65,146.72 L201.90,154.90 L202.15,155.54 L202.40,154.78 L202.65,154.38 L202.90,154.47 L203.15,154.32 L203.40,157.08 L203.65,154.38 L203.90,155.10 L204.15,153.36 L204.40,153.36 L204.65,153.36 L204.90,156.79 L205.15,155.78 L205.40,154.32 L205.65,154.93 L205.90,156.03 L206.15,156.29 L206.40,155.01 L206.65,145.50 L206.90,145.50 L207.15,145.50 L207.40,145.50 L207.65,154.01 L207.90,155.94 L208.15,157.14 L208.40,157.13 L208.65,157.14 L208.90,155.21 L209.15,157.11 L209.40,148.20 L209.65,148.20 L209.90,148.20 L210.15,148.20 L210.40,156.86 L210.65,149.35 L210.90,149.35 L211.15,149.35 L211.40,156.14 L211.65,154.27 L211.90,149.89 L212.15,154.03 L212.40,157.10 L212.65,156.69 L212.90,156.11 L213.15,156.73 L213.40,154.12 L213.65,155.39 L213.90,156.52 L214.15,145.90 L214.40,145.90 L214.65,145.90 L214.90,145.90 L215.15,153.72 L215.40,154.02 L215.65,155.63 L215.90,153.13 L216.15,153.13 L216.40,153.13 L216.65,152.95 L216.90,152.95 L217.15,152.95 L217.40,155.78 L217.65,151.90 L217.90,151.90 L218.15,151.90 L218.40,153.24 L218.65,156.06 L218.90,154.43 L219.15,153.99 L219.40,155.13 L219.65,156.87 L219.90,155.23 L220.15,156.78 L220.40,156.75 L220.65,156.69 L220.90,153.11 L221.15,153.11 L221.40,153.11 L221.65,156.88 L221.90,150.46 L222.15,150.46 L222.40,150.46 L222.65,155.11 L222.90,153.57 L223.15,155.20 L223.40,156.84 L223.65,155.33 L223.90,154.83 L224.15,156.18 L224.40,155.20 L224.65,156.70 L224.90,157.05 L225.15,155.74 L225.40,155.74 L225.65,154.24 L225.90,154.39 L226.15,153.38 L226.40,156.54 L226.65,154.84 L226.90,153.28 L227.15,154.13 L227.40,156.03 L227.65,151.90 L227.90,151.90 L228.15,151.90 L228.40,151.90 L228.65,155.87 L228.90,152.03 L229.15,153.90 L229.40,155.44 L229.65,155.90 L229.90,150.72 L230.15,157.09 L230.40,152.93 L230.65,152.92 L230.90,156.68 L231.15,156.08 L231.40,156.98 L231.65,155.66 L231.90,156.57 L232.15,154.68 L232.40,156.46 L232.65,151.38 L232.90,156.03 L233.15,156.52 L233.40,152.54 L233.65,156.52 L233.90,155.01 L234.15,153.82 L234.40,153.82 L234.65,152.48 L234.90,157.09 L235.15,155.72 L235.40,156.79 L235.65,155.29 L235.90,156.69 L236.15,154.04 L236.40,156.54 L236.65,156.02 L236.90,151.67 L237.15,156.02 L237.40,155.91 L237.65,149.90 L237.90,149.90 L238.15,149.90 L238.40,149.90 L238.65,156.02 L238.90,154.25 L239.15,155.40 L239.40,151.77 L239.65,154.26 L239.90,152.83 L240.15,155.35 L240.40,148.20 L240.65,148.20 L240.90,148.20 L241.15,148.20 L241.40,155.79 L241.65,152.10 L241.90,156.60 L242.15,154.16 L242.40,156.28 L242.65,155.54 L242.90,154.80 L243.15,155.19 L243.40,150.26 L243.65,156.60 L243.90,153.96 L244.15,154.57 L244.40,157.05 L244.65,153.63 L244.90,156.97 L245.15,156.73 L245.40,156.77 L245.65,155.36 L245.90,155.98 L246.15,155.47 L246.40,157.08 L246.65,157.12 L246.90,156.81 L247.15,154.04 L247.40,156.25 L247.65,156.87 L247.90,156.59 L248.15,155.22 L248.40,156.18 L248.65,151.90 L248.90,151.90 L249.15,151.90 L249.40,157.13 L249.65,155.19 L249.90,156.00 L250.15,156.39 L250.40,153.21 L250.65,153.83 L250.90,156.61 L251.15,154.69 L251.40,148.48 L251.65,155.12 L251.90,155.81 L252.15,156.09 L252.40,155.33 L252.65,151.56 L252.90,155.63 L253.15,154.58 L253.40,155.08 L253.65,152.90 L253.90,155.08 L254.15,154.90 L254.40,156.02 L254.65,156.08 L254.90,154.40 L255.15,155.79 L255.40,155.45 L255.65,154.58 L255.90,157.12 L256.15,156.26 L256.40,155.60 L256.65,154.87 L256.90,156.99 L257.15,156.21 L257.40,146.90 L257.65,146.90 L257.90,146.90 L258.15,156.92 L258.40,155.63 L258.65,156.69 L258.90,156.35 L259.15,154.88 L259.40,155.67 L259.65,156.37 L259.90,153.97 L260.15,156.70 L260.40,156.88 L260.65,154.31 L260.90,154.46 L261.15,156.66 L261.40,153.98 L261.65,155.64 L261.90,155.95 L262.15,155.35 L262.40,156.65 L262.65,148.20 L262.90,148.20 L263.15,148.20 L263.40,148.20 L263.65,153.90 L263.90,153.90 L264.15,153.90 L264.40,156.74 L264.65,156.73 L264.90,152.38 L265.15,157.12 L265.40,154.91 L265.65,154.62 L265.90,155.07 L266.15,155.29 L266.40,157.02 L266.65,157.09 L266.90,154.83 L267.15,155.04 L267.40,155.17 L267.65,154.57 L267.90,155.08 L268.15,155.71 L268.40,153.49 L268.65,155.38 L268.90,156.07 L269.15,156.86 L269.40,153.93 L269.65,156.54 L269.90,154.69 L270.15,157.08 L270.40,151.48 L270.65,156.19 L270.90,154.49 L271.15,152.97 L271.40,155.21 L271.65,155.20 L271.90,156.69 L272.15,154.26 L272.40,156.36 L272.65,153.19 L272.90,153.79 L273.15,156.94 L273.40,154.10 L273.65,155.52 L273.90,155.81 L274.15,152.90 L274.40,154.26 L274.65,150.78 L274.90,152.37 L275.15,151.43 L275.40,142.40 L275.65,156.02 L275.90,153.76 L276.15,146.20 L276.40,146.20 L276.65,146.20 L276.90,146.20 L277.15,154.69 L277.40,152.12 L277.65,154.53 L277.90,155.71 L278.15,154.01 L278.40,156.25 L278.65,152.95 L278.90,151.70 L279.15,155.56 L279.40,156.70 L279.65,156.23 L279.90,156.58 L280.15,157.11 L280.40,156.88 L280.65,157.26 L280.90,154.58 L281.15,155.98 L281.40,155.74 L281.65,156.06 L281.90,157.16 L282.15,156.86 L282.40,155.30 L282.65,155.48 L282.90,152.90 L283.15,152.90 L283.40,152.90 L283.65,152.90 L283.90,156.80 L284.15,155.95 L284.40,157.23 L284.65,156.81 L284.90,157.04 L285.15,156.11 L285.40,157.13 L285.65,155.62 L285.90,155.20 L286.15,155.82 L286.40,155.63 L286.65,156.24 L286.90,153.90 L287.15,153.90 L287.40,153.90 L287.65,153.90 L287.90,157.00 L288,157.9 Z" fill="#ecd4ee"/>
<path d="M31.4,157.9 L31.40,156.93 L31.65,155.39 L31.90,157.00 L32.15,157.02 L32.40,155.43 L32.65,157.15 L32.90,155.52 L33.15,153.60 L33.40,153.60 L33.65,153.60 L33.90,153.60 L34.15,155.54 L34.40,156.23 L34.65,156.51 L34.90,156.94 L35.15,156.62 L35.40,156.98 L35.65,157.27 L35.90,156.64 L36.15,157.31 L36.40,155.43 L36.65,155.34 L36.90,157.05 L37.15,155.78 L37.40,156.09 L37.65,156.16 L37.90,155.75 L38.15,155.87 L38.40,155.99 L38.65,157.31 L38.90,148.92 L39.15,148.92 L39.40,148.92 L39.65,156.38 L39.90,152.90 L40.15,152.90 L40.40,152.90 L40.65,152.90 L40.90,156.96 L41.15,157.32 L41.40,150.91 L41.65,150.91 L41.90,150.91 L42.15,157.02 L42.40,157.32 L42.65,156.51 L42.90,157.31 L43.15,156.79 L43.40,153.59 L43.65,153.59 L43.90,146.20 L44.15,146.20 L44.40,146.20 L44.65,146.20 L44.90,157.20 L45.15,155.50 L45.40,156.85 L45.65,155.75 L45.90,155.34 L46.15,156.56 L46.40,155.78 L46.65,157.21 L46.90,156.44 L47.15,153.90 L47.40,153.90 L47.65,153.90 L47.90,148.20 L48.15,148.20 L48.40,148.20 L48.65,148.20 L48.90,156.13 L49.15,156.38 L49.40,157.02 L49.65,156.55 L49.90,157.16 L50.15,156.37 L50.40,156.08 L50.65,157.34 L50.90,156.75 L51.15,156.55 L51.40,157.23 L51.65,155.49 L51.90,154.30 L52.15,154.30 L52.40,154.30 L52.65,154.30 L52.90,155.31 L53.15,156.37 L53.40,155.14 L53.65,156.76 L53.90,155.87 L54.15,156.58 L54.40,154.97 L54.65,156.20 L54.90,157.15 L55.15,157.04 L55.40,155.01 L55.65,157.28 L55.90,157.34 L56.15,156.20 L56.40,155.80 L56.65,155.38 L56.90,156.32 L57.15,157.10 L57.40,156.56 L57.65,156.23 L57.90,157.23 L58.15,155.04 L58.40,157.01 L58.65,149.50 L58.90,149.50 L59.15,149.50 L59.40,149.50 L59.65,149.97 L59.90,156.96 L60.15,157.34 L60.40,155.69 L60.65,156.20 L60.90,155.54 L61.15,156.39 L61.40,156.05 L61.65,156.75 L61.90,156.61 L62.15,156.22 L62.40,156.27 L62.65,155.70 L62.90,144.20 L63.15,144.20 L63.40,144.20 L63.65,157.13 L63.90,156.19 L64.15,155.53 L64.40,156.56 L64.65,156.50 L64.90,156.61 L65.15,157.25 L65.40,156.50 L65.65,156.35 L65.90,156.00 L66.15,155.13 L66.40,157.32 L66.65,156.37 L66.90,152.30 L67.15,152.30 L67.40,152.30 L67.65,157.20 L67.90,157.09 L68.15,156.04 L68.40,155.89 L68.65,156.01 L68.90,156.31 L69.15,156.18 L69.40,156.34 L69.65,156.96 L69.90,155.68 L70.15,156.98 L70.40,156.92 L70.65,157.02 L70.90,155.52 L71.15,156.16 L71.40,148.20 L71.65,148.20 L71.90,148.20 L72.15,148.20 L72.40,155.30 L72.65,156.45 L72.90,156.76 L73.15,155.28 L73.40,155.32 L73.65,157.13 L73.90,155.86 L74.15,156.57 L74.40,156.65 L74.65,155.01 L74.90,152.90 L75.15,152.90 L75.40,149.42 L75.65,149.42 L75.90,149.42 L76.15,157.17 L76.40,155.68 L76.65,156.95 L76.90,157.04 L77.15,157.29 L77.40,155.26 L77.65,151.18 L77.90,151.18 L78.15,151.18 L78.40,156.51 L78.65,157.28 L78.90,155.35 L79.15,157.22 L79.40,157.11 L79.65,156.62 L79.90,157.19 L80.15,156.45 L80.40,156.69 L80.65,155.85 L80.90,152.30 L81.15,152.30 L81.40,152.30 L81.65,155.10 L81.90,155.16 L82.15,157.22 L82.40,156.62 L82.65,157.04 L82.90,156.50 L83.15,157.07 L83.40,155.04 L83.65,153.50 L83.90,153.50 L84.15,153.50 L84.40,157.32 L84.65,156.46 L84.90,157.34 L85.15,157.27 L85.40,157.10 L85.65,155.05 L85.90,156.26 L86.15,156.07 L86.40,156.50 L86.65,156.18 L86.90,156.42 L87.15,155.36 L87.40,156.70 L87.65,156.10 L87.90,156.58 L88.15,155.17 L88.40,156.56 L88.65,155.66 L88.90,155.09 L89.15,157.30 L89.40,155.21 L89.65,156.77 L89.90,157.26 L90.15,156.83 L90.40,157.03 L90.65,153.84 L90.90,153.84 L91.15,153.84 L91.40,155.85 L91.65,155.31 L91.90,155.59 L92.15,157.16 L92.40,156.75 L92.65,156.89 L92.90,156.72 L93.15,152.40 L93.40,152.40 L93.65,152.40 L93.90,156.50 L94.15,154.91 L94.40,156.93 L94.65,153.85 L94.90,157.07 L95.15,155.60 L95.40,156.20 L95.65,156.61 L95.90,153.62 L96.15,156.81 L96.40,156.24 L96.65,155.34 L96.90,155.62 L97.15,154.70 L97.40,156.52 L97.65,151.40 L97.90,151.40 L98.15,151.40 L98.40,151.40 L98.65,156.49 L98.90,155.58 L99.15,157.04 L99.40,154.83 L99.65,155.03 L99.90,157.01 L100.15,154.19 L100.40,155.03 L100.65,156.31 L100.90,154.57 L101.15,156.32 L101.40,155.79 L101.65,156.06 L101.90,154.11 L102.15,154.07 L102.40,156.93 L102.65,153.68 L102.90,155.83 L103.15,152.35 L103.40,152.35 L103.65,143.50 L103.90,143.50 L104.15,143.50 L104.40,155.37 L104.65,155.44 L104.90,155.87 L105.15,154.32 L105.40,156.89 L105.65,155.55 L105.90,157.09 L106.15,154.18 L106.40,153.83 L106.65,155.10 L106.90,156.62 L107.15,155.50 L107.40,153.62 L107.65,153.80 L107.90,156.90 L108.15,155.73 L108.40,155.66 L108.65,153.96 L108.90,155.85 L109.15,155.13 L109.40,155.37 L109.65,157.08 L109.90,155.74 L110.15,154.75 L110.40,156.20 L110.65,153.71 L110.90,154.50 L111.15,156.86 L111.40,156.87 L111.65,156.64 L111.90,156.44 L112.15,154.83 L112.40,156.89 L112.65,155.75 L112.90,154.13 L113.15,154.32 L113.40,153.63 L113.65,157.03 L113.90,156.79 L114.15,156.89 L114.40,155.93 L114.65,156.26 L114.90,157.18 L115.15,156.05 L115.40,156.67 L115.65,156.36 L115.90,157.06 L116.15,156.12 L116.40,157.11 L116.65,157.16 L116.90,156.43 L117.15,156.58 L117.40,156.52 L117.65,157.52 L117.90,157.22 L118.15,157.40 L118.40,157.03 L118.65,157.09 L118.90,157.03 L119.15,156.11 L119.40,156.51 L119.65,156.95 L119.90,157.40 L120.15,157.01 L120.40,154.94 L120.65,157.11 L120.90,155.52 L121.15,154.89 L121.40,155.98 L121.65,156.98 L121.90,151.90 L122.15,151.90 L122.40,151.90 L122.65,151.90 L122.90,154.11 L123.15,154.78 L123.40,156.23 L123.65,155.53 L123.90,155.15 L124.15,157.13 L124.40,156.86 L124.65,155.09 L124.90,154.60 L125.15,156.52 L125.40,156.05 L125.65,156.56 L125.90,156.02 L126.15,156.24 L126.40,156.82 L126.65,156.82 L126.90,156.75 L127.15,156.93 L127.40,155.91 L127.65,156.54 L127.90,155.89 L128.15,156.97 L128.40,157.43 L128.65,156.39 L128.90,156.10 L129.15,155.97 L129.40,156.68 L129.65,157.40 L129.90,156.69 L130.15,157.13 L130.40,156.72 L130.65,154.09 L130.90,156.91 L131.15,156.52 L131.40,150.90 L131.65,150.90 L131.90,150.90 L132.15,153.84 L132.40,153.84 L132.65,156.23 L132.90,155.22 L133.15,154.63 L133.40,150.66 L133.65,150.66 L133.90,150.66 L134.15,155.07 L134.40,157.15 L134.65,155.35 L134.90,156.76 L135.15,157.08 L135.40,156.02 L135.65,155.08 L135.90,156.34 L136.15,156.35 L136.40,156.98 L136.65,154.02 L136.90,155.30 L137.15,154.03 L137.40,156.01 L137.65,155.77 L137.90,154.36 L138.15,154.45 L138.40,156.76 L138.65,152.40 L138.90,152.40 L139.15,152.40 L139.40,152.40 L139.65,154.61 L139.90,156.88 L140.15,156.55 L140.40,156.19 L140.65,153.98 L140.90,156.71 L141.15,155.12 L141.40,154.01 L141.65,154.76 L141.90,156.32 L142.15,156.21 L142.40,156.29 L142.65,156.96 L142.90,154.90 L143.15,157.07 L143.40,157.10 L143.65,156.86 L143.90,155.64 L144.15,154.75 L144.40,157.08 L144.65,156.08 L144.90,156.58 L145.15,156.98 L145.40,154.04 L145.65,156.05 L145.90,156.49 L146.15,156.82 L146.40,156.28 L146.65,156.10 L146.90,156.00 L147.15,155.90 L147.40,156.39 L147.65,156.85 L147.90,156.36 L148.15,154.50 L148.40,154.79 L148.65,155.15 L148.90,154.16 L149.15,155.13 L149.40,156.37 L149.65,156.90 L149.90,154.15 L150.15,155.68 L150.40,156.75 L150.65,156.33 L150.90,154.92 L151.15,156.87 L151.40,156.12 L151.65,157.01 L151.90,155.12 L152.15,150.90 L152.40,150.90 L152.65,150.90 L152.90,150.90 L153.15,156.02 L153.40,155.50 L153.65,156.47 L153.90,157.12 L154.15,156.52 L154.40,155.47 L154.65,156.68 L154.90,155.45 L155.15,155.31 L155.40,156.16 L155.65,155.39 L155.90,156.01 L156.15,154.00 L156.40,156.18 L156.65,154.85 L156.90,155.58 L157.15,155.52 L157.40,156.81 L157.65,156.67 L157.90,156.13 L158.15,155.59 L158.40,154.92 L158.65,156.35 L158.90,152.90 L159.15,152.90 L159.40,152.90 L159.65,152.90 L159.90,156.45 L160.15,154.97 L160.40,156.78 L160.65,156.48 L160.90,157.11 L161.15,156.92 L161.40,156.28 L161.65,154.50 L161.90,156.85 L162.15,154.08 L162.40,156.94 L162.65,156.01 L162.90,156.18 L163.15,157.02 L163.40,153.90 L163.65,154.33 L163.90,155.22 L164.15,154.83 L164.40,153.96 L164.65,154.92 L164.90,156.92 L165.15,155.82 L165.40,156.72 L165.65,157.02 L165.90,155.61 L166.15,154.29 L166.40,154.32 L166.65,157.09 L166.90,155.11 L167.15,155.96 L167.40,155.21 L167.65,155.09 L167.90,156.64 L168.15,156.39 L168.40,155.00 L168.65,156.00 L168.90,154.88 L169.15,155.64 L169.40,156.00 L169.65,155.63 L169.90,156.05 L170.15,154.98 L170.40,154.25 L170.65,155.58 L170.90,154.33 L171.15,157.11 L171.40,156.46 L171.65,155.03 L171.90,155.04 L172.15,156.30 L172.40,156.10 L172.65,156.17 L172.90,155.34 L173.15,156.42 L173.40,154.24 L173.65,155.83 L173.90,154.46 L174.15,156.72 L174.40,156.36 L174.65,154.86 L174.90,156.39 L175.15,155.56 L175.40,154.77 L175.65,155.26 L175.90,156.83 L176.15,154.80 L176.40,153.65 L176.65,153.65 L176.90,153.65 L177.15,152.11 L177.40,152.11 L177.65,152.11 L177.90,156.19 L178.15,156.28 L178.40,156.23 L178.65,155.13 L178.90,154.69 L179.15,154.21 L179.40,155.32 L179.65,157.11 L179.90,156.54 L180.15,156.92 L180.40,157.14 L180.65,153.80 L180.90,153.80 L181.15,153.80 L181.40,156.80 L181.65,154.52 L181.90,156.78 L182.15,155.11 L182.40,154.82 L182.65,156.12 L182.90,156.54 L183.15,156.49 L183.40,156.61 L183.65,155.03 L183.90,155.20 L184.15,155.22 L184.40,155.42 L184.65,156.93 L184.90,155.12 L185.15,156.78 L185.40,156.13 L185.65,154.27 L185.90,156.72 L186.15,156.98 L186.40,154.19 L186.65,155.82 L186.90,154.21 L187.15,156.07 L187.40,154.42 L187.65,157.08 L187.90,155.90 L188.15,157.90 L188.40,146.14 L188.65,149.48 L188.90,151.82 L189.15,148.86 L189.40,153.94 L189.65,152.95 L189.90,144.90 L190.15,144.90 L190.40,144.90 L190.65,144.90 L190.90,150.26 L191.15,153.02 L191.40,153.61 L191.65,153.46 L191.90,146.20 L192.15,154.73 L192.40,150.66 L192.65,146.46 L192.90,146.99 L193.15,149.83 L193.40,147.65 L193.65,148.73 L193.90,149.59 L194.15,155.56 L194.40,154.93 L194.65,153.52 L194.90,148.29 L195.15,152.13 L195.40,144.90 L195.65,144.90 L195.90,144.90 L196.15,154.84 L196.40,148.72 L196.65,151.05 L196.90,148.78 L197.15,153.31 L197.40,151.58 L197.65,148.85 L197.90,145.88 L198.15,151.33 L198.40,154.84 L198.65,149.84 L198.90,146.67 L199.15,155.41 L199.40,151.35 L199.65,146.03 L199.90,155.24 L200.15,146.07 L200.40,150.96 L200.65,153.45 L200.90,149.99 L201.15,153.06 L201.40,150.30 L201.65,146.72 L201.90,154.90 L202.15,155.54 L202.40,155.06 L202.65,155.64 L202.90,154.47 L203.15,154.82 L203.40,157.08 L203.65,154.38 L203.90,155.10 L204.15,153.36 L204.40,153.36 L204.65,153.36 L204.90,156.79 L205.15,155.78 L205.40,154.32 L205.65,154.93 L205.90,156.03 L206.15,156.39 L206.40,156.12 L206.65,145.50 L206.90,145.50 L207.15,145.50 L207.40,145.50 L207.65,154.01 L207.90,155.94 L208.15,157.14 L208.40,157.13 L208.65,157.14 L208.90,155.21 L209.15,157.11 L209.40,148.20 L209.65,148.20 L209.90,148.20 L210.15,148.20 L210.40,156.86 L210.65,149.35 L210.90,149.35 L211.15,149.35 L211.40,156.14 L211.65,154.27 L211.90,154.25 L212.15,154.03 L212.40,157.10 L212.65,156.90 L212.90,157.15 L213.15,156.73 L213.40,156.37 L213.65,155.39 L213.90,156.52 L214.15,145.90 L214.40,145.90 L214.65,145.90 L214.90,145.90 L215.15,153.92 L215.40,154.02 L215.65,155.63 L215.90,153.13 L216.15,153.13 L216.40,153.13 L216.65,152.95 L216.90,152.95 L217.15,152.95 L217.40,155.79 L217.65,151.90 L217.90,151.90 L218.15,151.90 L218.40,153.24 L218.65,156.06 L218.90,154.43 L219.15,154.45 L219.40,155.13 L219.65,156.87 L219.90,155.24 L220.15,156.78 L220.40,156.75 L220.65,156.69 L220.90,153.11 L221.15,153.11 L221.40,153.11 L221.65,156.88 L221.90,150.46 L222.15,150.46 L222.40,150.46 L222.65,155.11 L222.90,154.35 L223.15,155.20 L223.40,156.84 L223.65,155.33 L223.90,155.60 L224.15,156.18 L224.40,155.20 L224.65,156.73 L224.90,157.05 L225.15,155.74 L225.40,155.74 L225.65,154.24 L225.90,154.39 L226.15,153.94 L226.40,156.54 L226.65,154.84 L226.90,155.62 L227.15,154.13 L227.40,156.03 L227.65,151.90 L227.90,151.90 L228.15,151.90 L228.40,151.90 L228.65,155.87 L228.90,154.46 L229.15,153.90 L229.40,155.44 L229.65,155.90 L229.90,154.60 L230.15,157.09 L230.40,154.67 L230.65,154.14 L230.90,156.68 L231.15,156.51 L231.40,156.98 L231.65,155.66 L231.90,156.57 L232.15,154.77 L232.40,156.46 L232.65,155.00 L232.90,156.27 L233.15,156.54 L233.40,155.75 L233.65,156.52 L233.90,155.01 L234.15,153.82 L234.40,153.82 L234.65,153.82 L234.90,157.09 L235.15,155.72 L235.40,156.79 L235.65,155.29 L235.90,156.69 L236.15,154.04 L236.40,156.54 L236.65,156.02 L236.90,153.38 L237.15,156.02 L237.40,155.91 L237.65,149.90 L237.90,149.90 L238.15,149.90 L238.40,149.90 L238.65,156.02 L238.90,154.25 L239.15,155.40 L239.40,151.77 L239.65,154.26 L239.90,155.59 L240.15,155.47 L240.40,148.20 L240.65,148.20 L240.90,148.20 L241.15,148.20 L241.40,155.79 L241.65,152.25 L241.90,156.60 L242.15,154.64 L242.40,156.28 L242.65,155.54 L242.90,154.80 L243.15,155.32 L243.40,154.50 L243.65,156.60 L243.90,153.96 L244.15,154.57 L244.40,157.07 L244.65,153.87 L244.90,156.97 L245.15,156.73 L245.40,156.77 L245.65,155.49 L245.90,155.98 L246.15,155.47 L246.40,157.08 L246.65,157.12 L246.90,156.81 L247.15,154.04 L247.40,156.25 L247.65,156.87 L247.90,156.59 L248.15,155.22 L248.40,156.65 L248.65,151.90 L248.90,151.90 L249.15,151.90 L249.40,157.13 L249.65,155.19 L249.90,156.00 L250.15,156.39 L250.40,155.14 L250.65,154.02 L250.90,156.61 L251.15,154.69 L251.40,153.99 L251.65,155.24 L251.90,156.87 L252.15,156.09 L252.40,155.33 L252.65,154.37 L252.90,155.63 L253.15,154.58 L253.40,155.10 L253.65,155.69 L253.90,155.08 L254.15,154.90 L254.40,156.02 L254.65,156.08 L254.90,154.40 L255.15,155.79 L255.40,156.81 L255.65,154.58 L255.90,157.12 L256.15,156.26 L256.40,155.60 L256.65,154.95 L256.90,156.99 L257.15,156.25 L257.40,146.90 L257.65,146.90 L257.90,146.90 L258.15,156.92 L258.40,155.63 L258.65,156.90 L258.90,157.03 L259.15,154.88 L259.40,155.67 L259.65,156.37 L259.90,153.97 L260.15,156.70 L260.40,156.88 L260.65,154.55 L260.90,154.46 L261.15,156.66 L261.40,153.98 L261.65,155.64 L261.90,155.95 L262.15,155.35 L262.40,156.65 L262.65,148.20 L262.90,148.20 L263.15,148.20 L263.40,148.20 L263.65,153.90 L263.90,153.90 L264.15,153.90 L264.40,156.99 L264.65,156.90 L264.90,154.27 L265.15,157.12 L265.40,154.91 L265.65,154.62 L265.90,155.07 L266.15,156.09 L266.40,157.05 L266.65,157.09 L266.90,154.83 L267.15,156.66 L267.40,155.17 L267.65,154.57 L267.90,156.20 L268.15,155.71 L268.40,155.99 L268.65,155.38 L268.90,156.07 L269.15,156.86 L269.40,153.93 L269.65,156.54 L269.90,154.69 L270.15,157.13 L270.40,154.08 L270.65,156.19 L270.90,154.49 L271.15,155.50 L271.40,155.21 L271.65,156.61 L271.90,156.70 L272.15,154.26 L272.40,156.36 L272.65,155.71 L272.90,155.07 L273.15,156.94 L273.40,154.10 L273.65,155.52 L273.90,155.81 L274.15,152.90 L274.40,154.40 L274.65,152.31 L274.90,155.00 L275.15,151.58 L275.40,151.45 L275.65,156.19 L275.90,154.04 L276.15,146.20 L276.40,146.20 L276.65,146.20 L276.90,146.20 L277.15,154.69 L277.40,152.12 L277.65,154.53 L277.90,155.81 L278.15,154.01 L278.40,156.25 L278.65,152.95 L278.90,151.70 L279.15,155.56 L279.40,156.70 L279.65,156.31 L279.90,156.60 L280.15,157.11 L280.40,156.88 L280.65,157.26 L280.90,154.58 L281.15,156.08 L281.40,155.89 L281.65,156.06 L281.90,157.16 L282.15,157.09 L282.40,155.30 L282.65,155.48 L282.90,152.90 L283.15,152.90 L283.40,152.90 L283.65,152.90 L283.90,156.80 L284.15,156.34 L284.40,157.23 L284.65,156.81 L284.90,157.07 L285.15,156.11 L285.40,157.13 L285.65,155.62 L285.90,156.01 L286.15,155.82 L286.40,155.63 L286.65,156.24 L286.90,153.90 L287.15,153.90 L287.40,153.90 L287.65,153.90 L287.90,157.00 L288,157.9 Z" fill="#d2a0d6"/>
<path d="M31.4,157.9 L31.40,157.27 L31.65,156.27 L31.90,157.32 L32.15,157.33 L32.40,156.29 L32.65,157.41 L32.90,156.35 L33.15,155.11 L33.40,155.11 L33.65,155.11 L33.90,155.11 L34.15,156.37 L34.40,156.81 L34.65,157.00 L34.90,157.28 L35.15,157.07 L35.40,157.30 L35.65,157.49 L35.90,157.08 L36.15,157.52 L36.40,156.29 L36.65,156.23 L36.90,157.34 L37.15,156.52 L37.40,156.73 L37.65,156.77 L37.90,156.50 L38.15,156.58 L38.40,156.66 L38.65,157.52 L38.90,152.06 L39.15,152.06 L39.40,152.06 L39.65,156.91 L39.90,154.65 L40.15,154.65 L40.40,154.65 L40.65,154.65 L40.90,157.29 L41.15,157.52 L41.40,153.35 L41.65,153.35 L41.90,153.35 L42.15,157.33 L42.40,157.52 L42.65,157.00 L42.90,157.52 L43.15,157.18 L43.40,155.10 L43.65,155.10 L43.90,150.30 L44.15,150.30 L44.40,150.30 L44.65,150.30 L44.90,157.45 L45.15,156.34 L45.40,157.22 L45.65,156.50 L45.90,156.24 L46.15,157.03 L46.40,156.52 L46.65,157.45 L46.90,156.95 L47.15,155.30 L47.40,155.30 L47.65,155.30 L47.90,151.59 L48.15,151.59 L48.40,151.59 L48.65,151.59 L48.90,156.75 L49.15,156.91 L49.40,157.33 L49.65,157.02 L49.90,157.42 L50.15,156.90 L50.40,156.72 L50.65,157.54 L50.90,157.16 L51.15,157.02 L51.40,157.46 L51.65,156.33 L51.90,155.56 L52.15,155.56 L52.40,155.56 L52.65,155.56 L52.90,156.22 L53.15,156.90 L53.40,156.11 L53.65,157.16 L53.90,156.58 L54.15,157.04 L54.40,156.00 L54.65,156.80 L54.90,157.41 L55.15,157.34 L55.40,156.02 L55.65,157.50 L55.90,157.54 L56.15,156.79 L56.40,156.54 L56.65,156.26 L56.90,156.87 L57.15,157.38 L57.40,157.03 L57.65,156.81 L57.90,157.47 L58.15,156.04 L58.40,157.32 L58.65,152.44 L58.90,152.44 L59.15,152.44 L59.40,152.44 L59.65,152.74 L59.90,157.29 L60.15,157.53 L60.40,156.47 L60.65,156.80 L60.90,156.37 L61.15,156.92 L61.40,156.70 L61.65,157.16 L61.90,157.06 L62.15,156.81 L62.40,156.84 L62.65,156.47 L62.90,149.00 L63.15,149.00 L63.40,149.00 L63.65,157.40 L63.90,156.79 L64.15,156.36 L64.40,157.03 L64.65,156.99 L64.90,157.06 L65.15,157.48 L65.40,156.99 L65.65,156.89 L65.90,156.66 L66.15,156.10 L66.40,157.52 L66.65,156.90 L66.90,154.26 L67.15,154.26 L67.40,154.26 L67.65,157.45 L67.90,157.37 L68.15,156.69 L68.40,156.59 L68.65,156.67 L68.90,156.86 L69.15,156.78 L69.40,156.88 L69.65,157.29 L69.90,156.46 L70.15,157.30 L70.40,157.26 L70.65,157.33 L70.90,156.35 L71.15,156.77 L71.40,151.59 L71.65,151.59 L71.90,151.59 L72.15,151.59 L72.40,156.21 L72.65,156.96 L72.90,157.16 L73.15,156.20 L73.40,156.22 L73.65,157.40 L73.90,156.58 L74.15,157.04 L74.40,157.09 L74.65,156.02 L74.90,154.65 L75.15,154.65 L75.40,152.39 L75.65,152.39 L75.90,152.39 L76.15,157.43 L76.40,156.46 L76.65,157.29 L76.90,157.34 L77.15,157.51 L77.40,156.18 L77.65,153.53 L77.90,153.53 L78.15,153.53 L78.40,157.00 L78.65,157.50 L78.90,156.24 L79.15,157.46 L79.40,157.39 L79.65,157.07 L79.90,157.44 L80.15,156.96 L80.40,157.12 L80.65,156.57 L80.90,154.26 L81.15,154.26 L81.40,154.26 L81.65,156.08 L81.90,156.12 L82.15,157.46 L82.40,157.07 L82.65,157.34 L82.90,156.99 L83.15,157.36 L83.40,156.04 L83.65,155.04 L83.90,155.04 L84.15,155.04 L84.40,157.53 L84.65,156.96 L84.90,157.53 L85.15,157.49 L85.40,157.38 L85.65,156.05 L85.90,156.83 L86.15,156.71 L86.40,156.99 L86.65,156.78 L86.90,156.94 L87.15,156.25 L87.40,157.12 L87.65,156.73 L87.90,157.04 L88.15,156.12 L88.40,157.03 L88.65,156.44 L88.90,156.08 L89.15,157.51 L89.40,156.15 L89.65,157.17 L89.90,157.49 L90.15,157.21 L90.40,157.34 L90.65,155.26 L90.90,155.26 L91.15,155.26 L91.40,156.57 L91.65,156.21 L91.90,156.40 L92.15,157.42 L92.40,157.15 L92.65,157.24 L92.90,157.13 L93.15,154.33 L93.40,154.33 L93.65,154.33 L93.90,156.99 L94.15,155.95 L94.40,157.27 L94.65,155.26 L94.90,157.36 L95.15,156.41 L95.40,156.80 L95.65,157.06 L95.90,155.12 L96.15,157.19 L96.40,156.82 L96.65,156.24 L96.90,156.42 L97.15,155.82 L97.40,157.00 L97.65,153.68 L97.90,153.68 L98.15,153.68 L98.40,153.68 L98.65,156.98 L98.90,156.39 L99.15,157.34 L99.40,155.90 L99.65,156.04 L99.90,157.32 L100.15,155.49 L100.40,156.04 L100.65,156.87 L100.90,155.74 L101.15,156.87 L101.40,156.53 L101.65,156.70 L101.90,155.43 L102.15,155.41 L102.40,157.27 L102.65,155.15 L102.90,156.55 L103.15,154.29 L103.40,154.29 L103.65,148.54 L103.90,148.54 L104.15,148.54 L104.40,156.26 L104.65,156.30 L104.90,156.58 L105.15,155.57 L105.40,157.24 L105.65,156.37 L105.90,157.37 L106.15,155.49 L106.40,155.25 L106.65,156.08 L106.90,157.07 L107.15,156.34 L107.40,155.12 L107.65,155.24 L107.90,157.25 L108.15,156.49 L108.40,156.44 L108.65,155.34 L108.90,156.57 L109.15,156.10 L109.40,156.26 L109.65,157.37 L109.90,156.49 L110.15,155.85 L110.40,156.80 L110.65,155.18 L110.90,155.69 L111.15,157.23 L111.40,157.23 L111.65,157.08 L111.90,156.95 L112.15,155.91 L112.40,157.25 L112.65,156.50 L112.90,155.45 L113.15,155.58 L113.40,155.12 L113.65,157.34 L113.90,157.18 L114.15,157.24 L114.40,156.62 L114.65,156.83 L114.90,157.43 L115.15,156.70 L115.40,157.10 L115.65,156.90 L115.90,157.36 L116.15,156.74 L116.40,157.39 L116.65,157.42 L116.90,156.95 L117.15,157.04 L117.40,157.00 L117.65,157.65 L117.90,157.46 L118.15,157.58 L118.40,157.33 L118.65,157.37 L118.90,157.34 L119.15,156.74 L119.40,156.99 L119.65,157.28 L119.90,157.57 L120.15,157.32 L120.40,155.98 L120.65,157.39 L120.90,156.35 L121.15,155.94 L121.40,156.66 L121.65,157.30 L121.90,154.00 L122.15,154.00 L122.40,154.00 L122.65,154.00 L122.90,155.44 L123.15,155.87 L123.40,156.82 L123.65,156.36 L123.90,156.11 L124.15,157.40 L124.40,157.22 L124.65,156.07 L124.90,155.75 L125.15,157.00 L125.40,156.70 L125.65,157.03 L125.90,156.68 L126.15,156.82 L126.40,157.20 L126.65,157.20 L126.90,157.15 L127.15,157.27 L127.40,156.60 L127.65,157.02 L127.90,156.60 L128.15,157.30 L128.40,157.59 L128.65,156.92 L128.90,156.73 L129.15,156.65 L129.40,157.10 L129.65,157.58 L129.90,157.11 L130.15,157.40 L130.40,157.13 L130.65,155.42 L130.90,157.26 L131.15,157.00 L131.40,153.35 L131.65,153.35 L131.90,153.35 L132.15,155.26 L132.40,155.26 L132.65,156.81 L132.90,156.16 L133.15,155.77 L133.40,153.20 L133.65,153.20 L133.90,153.20 L134.15,156.06 L134.40,157.41 L134.65,156.24 L134.90,157.16 L135.15,157.37 L135.40,156.68 L135.65,156.07 L135.90,156.88 L136.15,156.89 L136.40,157.30 L136.65,155.38 L136.90,156.21 L137.15,155.39 L137.40,156.67 L137.65,156.51 L137.90,155.60 L138.15,155.66 L138.40,157.16 L138.65,154.33 L138.90,154.33 L139.15,154.33 L139.40,154.33 L139.65,155.76 L139.90,157.24 L140.15,157.02 L140.40,156.79 L140.65,155.35 L140.90,157.13 L141.15,156.09 L141.40,155.37 L141.65,155.86 L141.90,156.88 L142.15,156.80 L142.40,156.85 L142.65,157.29 L142.90,155.95 L143.15,157.36 L143.40,157.38 L143.65,157.23 L143.90,156.43 L144.15,155.85 L144.40,157.37 L144.65,156.72 L144.90,157.04 L145.15,157.30 L145.40,155.39 L145.65,156.70 L145.90,156.98 L146.15,157.20 L146.40,156.85 L146.65,156.73 L146.90,156.66 L147.15,156.60 L147.40,156.92 L147.65,157.21 L147.90,156.90 L148.15,155.69 L148.40,155.88 L148.65,156.11 L148.90,155.47 L149.15,156.10 L149.40,156.90 L149.65,157.25 L149.90,155.46 L150.15,156.46 L150.40,157.15 L150.65,156.88 L150.90,155.96 L151.15,157.23 L151.40,156.75 L151.65,157.32 L151.90,156.10 L152.15,153.35 L152.40,153.35 L152.65,153.35 L152.90,153.35 L153.15,156.68 L153.40,156.34 L153.65,156.97 L153.90,157.39 L154.15,157.00 L154.40,156.32 L154.65,157.11 L154.90,156.31 L155.15,156.22 L155.40,156.77 L155.65,156.27 L155.90,156.67 L156.15,155.36 L156.40,156.78 L156.65,155.91 L156.90,156.39 L157.15,156.35 L157.40,157.19 L157.65,157.10 L157.90,156.75 L158.15,156.40 L158.40,155.96 L158.65,156.89 L158.90,154.65 L159.15,154.65 L159.40,154.65 L159.65,154.65 L159.90,156.96 L160.15,155.99 L160.40,157.18 L160.65,156.97 L160.90,157.38 L161.15,157.27 L161.40,156.85 L161.65,155.69 L161.90,157.21 L162.15,155.42 L162.40,157.27 L162.65,156.67 L162.90,156.78 L163.15,157.33 L163.40,155.30 L163.65,155.58 L163.90,156.16 L164.15,155.91 L164.40,155.34 L164.65,155.96 L164.90,157.26 L165.15,156.55 L165.40,157.13 L165.65,157.33 L165.90,156.41 L166.15,155.55 L166.40,155.57 L166.65,157.37 L166.90,156.09 L167.15,156.64 L167.40,156.15 L167.65,156.07 L167.90,157.08 L168.15,156.92 L168.40,156.01 L168.65,156.67 L168.90,155.94 L169.15,156.43 L169.40,156.67 L169.65,156.42 L169.90,156.70 L170.15,156.00 L170.40,155.53 L170.65,156.39 L170.90,155.58 L171.15,157.38 L171.40,156.96 L171.65,156.04 L171.90,156.04 L172.15,156.86 L172.40,156.73 L172.65,156.77 L172.90,156.24 L173.15,156.94 L173.40,155.52 L173.65,156.56 L173.90,155.67 L174.15,157.13 L174.40,156.90 L174.65,155.92 L174.90,156.92 L175.15,156.38 L175.40,155.87 L175.65,156.18 L175.90,157.20 L176.15,155.88 L176.40,155.14 L176.65,155.14 L176.90,155.14 L177.15,154.14 L177.40,154.14 L177.65,154.14 L177.90,156.79 L178.15,156.85 L178.40,156.82 L178.65,156.10 L178.90,155.81 L179.15,155.50 L179.40,156.22 L179.65,157.38 L179.90,157.02 L180.15,157.26 L180.40,157.40 L180.65,155.24 L180.90,155.24 L181.15,155.24 L181.40,157.19 L181.65,155.70 L181.90,157.17 L182.15,156.09 L182.40,155.90 L182.65,156.74 L182.90,157.02 L183.15,156.98 L183.40,157.06 L183.65,156.04 L183.90,156.15 L184.15,156.16 L184.40,156.29 L184.65,157.27 L184.90,156.09 L185.15,157.17 L185.40,156.75 L185.65,155.54 L185.90,157.13 L186.15,157.30 L186.40,155.49 L186.65,156.55 L186.90,155.50 L187.15,156.71 L187.40,155.64 L187.65,157.36 L187.90,156.60 L188.15,157.90 L188.40,150.25 L188.65,152.43 L188.90,153.95 L189.15,152.02 L189.40,155.32 L189.65,154.68 L189.90,149.45 L190.15,149.45 L190.40,149.45 L190.65,149.45 L190.90,152.93 L191.15,154.73 L191.40,155.11 L191.65,155.01 L191.90,150.29 L192.15,155.84 L192.40,153.20 L192.65,150.46 L192.90,150.81 L193.15,152.65 L193.40,151.24 L193.65,151.94 L193.90,152.50 L194.15,156.38 L194.40,155.97 L194.65,155.06 L194.90,151.65 L195.15,154.15 L195.40,149.45 L195.65,149.45 L195.90,149.45 L196.15,155.91 L196.40,151.93 L196.65,153.45 L196.90,151.97 L197.15,154.92 L197.40,153.79 L197.65,152.01 L197.90,150.08 L198.15,153.63 L198.40,155.91 L198.65,152.66 L198.90,150.60 L199.15,156.28 L199.40,153.64 L199.65,150.18 L199.90,156.17 L200.15,150.21 L200.40,153.39 L200.65,155.01 L200.90,152.76 L201.15,154.75 L201.40,152.96 L201.65,150.63 L201.90,155.95 L202.15,156.37 L202.40,156.06 L202.65,156.43 L202.90,155.67 L203.15,155.89 L203.40,157.37 L203.65,155.61 L203.90,156.08 L204.15,154.95 L204.40,154.95 L204.65,154.95 L204.90,157.18 L205.15,156.52 L205.40,155.58 L205.65,155.97 L205.90,156.68 L206.15,156.92 L206.40,156.74 L206.65,149.84 L206.90,149.84 L207.15,149.84 L207.40,149.84 L207.65,155.37 L207.90,156.63 L208.15,157.40 L208.40,157.40 L208.65,157.41 L208.90,156.15 L209.15,157.38 L209.40,151.59 L209.65,151.59 L209.90,151.59 L210.15,151.59 L210.40,157.22 L210.65,152.34 L210.90,152.34 L211.15,152.34 L211.40,156.76 L211.65,155.54 L211.90,155.53 L212.15,155.38 L212.40,157.38 L212.65,157.25 L212.90,157.41 L213.15,157.14 L213.40,156.91 L213.65,156.27 L213.90,157.00 L214.15,150.10 L214.40,150.10 L214.65,150.10 L214.90,150.10 L215.15,155.31 L215.40,155.38 L215.65,156.42 L215.90,154.80 L216.15,154.80 L216.40,154.80 L216.65,154.68 L216.90,154.68 L217.15,154.68 L217.40,156.53 L217.65,154.00 L217.90,154.00 L218.15,154.00 L218.40,154.87 L218.65,156.70 L218.90,155.64 L219.15,155.66 L219.40,156.10 L219.65,157.23 L219.90,156.17 L220.15,157.17 L220.40,157.15 L220.65,157.12 L220.90,154.79 L221.15,154.79 L221.40,154.79 L221.65,157.23 L221.90,153.06 L222.15,153.06 L222.40,153.06 L222.65,156.08 L222.90,155.59 L223.15,156.14 L223.40,157.21 L223.65,156.23 L223.90,156.40 L224.15,156.78 L224.40,156.15 L224.65,157.14 L224.90,157.35 L225.15,156.49 L225.40,156.49 L225.65,155.52 L225.90,155.62 L226.15,155.32 L226.40,157.02 L226.65,155.91 L226.90,156.42 L227.15,155.45 L227.40,156.69 L227.65,154.00 L227.90,154.00 L228.15,154.00 L228.40,154.00 L228.65,156.58 L228.90,155.67 L229.15,155.30 L229.40,156.30 L229.65,156.60 L229.90,155.76 L230.15,157.38 L230.40,155.80 L230.65,155.45 L230.90,157.10 L231.15,156.99 L231.40,157.30 L231.65,156.44 L231.90,157.04 L232.15,155.87 L232.40,156.96 L232.65,156.02 L232.90,156.84 L233.15,157.02 L233.40,156.50 L233.65,157.00 L233.90,156.02 L234.15,155.25 L234.40,155.25 L234.65,155.25 L234.90,157.37 L235.15,156.48 L235.40,157.18 L235.65,156.21 L235.90,157.11 L236.15,155.39 L236.40,157.02 L236.65,156.68 L236.90,154.96 L237.15,156.68 L237.40,156.60 L237.65,152.70 L237.90,152.70 L238.15,152.70 L238.40,152.70 L238.65,156.68 L238.90,155.52 L239.15,156.28 L239.40,153.92 L239.65,155.54 L239.90,156.40 L240.15,156.32 L240.40,151.59 L240.65,151.59 L240.90,151.59 L241.15,151.59 L241.40,156.53 L241.65,154.23 L241.90,157.06 L242.15,155.78 L242.40,156.85 L242.65,156.36 L242.90,155.88 L243.15,156.22 L243.40,155.69 L243.65,157.06 L243.90,155.34 L244.15,155.73 L244.40,157.36 L244.65,155.28 L244.90,157.30 L245.15,157.14 L245.40,157.17 L245.65,156.33 L245.90,156.65 L246.15,156.32 L246.40,157.37 L246.65,157.39 L246.90,157.19 L247.15,155.39 L247.40,156.83 L247.65,157.23 L247.90,157.05 L248.15,156.16 L248.40,157.09 L248.65,154.00 L248.90,154.00 L249.15,154.00 L249.40,157.40 L249.65,156.14 L249.90,156.66 L250.15,156.92 L250.40,156.10 L250.65,155.38 L250.90,157.06 L251.15,155.82 L251.40,155.36 L251.65,156.17 L251.90,157.23 L252.15,156.72 L252.40,156.23 L252.65,155.60 L252.90,156.42 L253.15,155.74 L253.40,156.08 L253.65,156.46 L253.90,156.07 L254.15,155.95 L254.40,156.68 L254.65,156.72 L254.90,155.63 L255.15,156.53 L255.40,157.19 L255.65,155.74 L255.90,157.40 L256.15,156.84 L256.40,156.41 L256.65,155.98 L256.90,157.31 L257.15,156.83 L257.40,150.75 L257.65,150.75 L257.90,150.75 L258.15,157.27 L258.40,156.42 L258.65,157.25 L258.90,157.34 L259.15,155.94 L259.40,156.45 L259.65,156.91 L259.90,155.34 L260.15,157.12 L260.40,157.24 L260.65,155.72 L260.90,155.66 L261.15,157.09 L261.40,155.35 L261.65,156.43 L261.90,156.63 L262.15,156.24 L262.40,157.09 L262.65,151.59 L262.90,151.59 L263.15,151.59 L263.40,151.59 L263.65,155.30 L263.90,155.30 L264.15,155.30 L264.40,157.31 L264.65,157.25 L264.90,155.54 L265.15,157.39 L265.40,155.96 L265.65,155.77 L265.90,156.06 L266.15,156.73 L266.40,157.35 L266.65,157.37 L266.90,155.91 L267.15,157.09 L267.40,156.13 L267.65,155.73 L267.90,156.80 L268.15,156.48 L268.40,156.66 L268.65,156.26 L268.90,156.71 L269.15,157.22 L269.40,155.32 L269.65,157.01 L269.90,155.81 L270.15,157.40 L270.40,155.42 L270.65,156.79 L270.90,155.68 L271.15,156.34 L271.40,156.15 L271.65,157.06 L271.90,157.12 L272.15,155.53 L272.40,156.90 L272.65,156.48 L272.90,156.06 L273.15,157.28 L273.40,155.43 L273.65,156.35 L273.90,156.54 L274.15,154.65 L274.40,155.63 L274.65,154.26 L274.90,156.02 L275.15,153.79 L275.40,153.71 L275.65,156.79 L275.90,155.39 L276.15,150.30 L276.40,150.30 L276.65,150.30 L276.90,150.30 L277.15,155.81 L277.40,154.14 L277.65,155.71 L277.90,156.54 L278.15,155.37 L278.40,156.83 L278.65,154.68 L278.90,153.87 L279.15,156.38 L279.40,157.12 L279.65,156.87 L279.90,157.06 L280.15,157.39 L280.40,157.24 L280.65,157.49 L280.90,155.74 L281.15,156.72 L281.40,156.60 L281.65,156.70 L281.90,157.42 L282.15,157.37 L282.40,156.21 L282.65,156.32 L282.90,154.65 L283.15,154.65 L283.40,154.65 L283.65,154.65 L283.90,157.19 L284.15,156.89 L284.40,157.46 L284.65,157.19 L284.90,157.36 L285.15,156.73 L285.40,157.40 L285.65,156.42 L285.90,156.67 L286.15,156.55 L286.40,156.43 L286.65,156.82 L286.90,155.30 L287.15,155.30 L287.40,155.30 L287.65,155.30 L287.90,157.32 L288,157.9 Z" fill="#842e8c"/>
<path d="M31.4,189.6 L31.40,188.98 L31.65,187.84 L31.90,188.70 L32.15,187.63 L32.40,188.63 L32.65,188.44 L32.90,188.96 L33.15,187.18 L33.40,188.72 L33.65,187.89 L33.90,188.09 L34.15,188.89 L34.40,179.60 L34.65,179.60 L34.90,179.60 L35.15,179.60 L35.40,187.95 L35.65,187.75 L35.90,187.99 L36.15,188.86 L36.40,187.25 L36.65,188.84 L36.90,188.80 L37.15,188.21 L37.40,187.41 L37.65,184.41 L37.90,184.41 L38.15,184.41 L38.40,187.75 L38.65,188.31 L38.90,188.35 L39.15,189.00 L39.40,188.76 L39.65,187.07 L39.90,188.92 L40.15,184.61 L40.40,184.61 L40.65,184.61 L40.90,187.07 L41.15,188.64 L41.40,187.90 L41.65,188.73 L41.90,189.07 L42.15,186.95 L42.40,188.67 L42.65,188.52 L42.90,189.07 L43.15,188.83 L43.40,187.26 L43.65,188.74 L43.90,187.13 L44.15,187.56 L44.40,188.06 L44.65,187.06 L44.90,188.19 L45.15,188.50 L45.40,187.01 L45.65,187.52 L45.90,187.14 L46.15,188.74 L46.40,188.28 L46.65,188.71 L46.90,188.83 L47.15,188.93 L47.40,188.33 L47.65,188.47 L47.90,188.72 L48.15,188.38 L48.40,188.79 L48.65,187.65 L48.90,187.80 L49.15,187.85 L49.40,188.53 L49.65,187.83 L49.90,189.06 L50.15,188.71 L50.40,187.09 L50.65,189.04 L50.90,187.09 L51.15,188.99 L51.40,188.37 L51.65,187.25 L51.90,187.09 L52.15,187.47 L52.40,188.94 L52.65,185.79 L52.90,185.79 L53.15,185.79 L53.40,186.98 L53.65,187.76 L53.90,189.10 L54.15,188.76 L54.40,187.10 L54.65,187.30 L54.90,188.33 L55.15,186.53 L55.40,186.53 L55.65,186.53 L55.90,188.15 L56.15,188.34 L56.40,189.03 L56.65,188.02 L56.90,188.38 L57.15,186.99 L57.40,183.63 L57.65,183.63 L57.90,183.63 L58.15,188.79 L58.40,188.73 L58.65,188.74 L58.90,187.27 L59.15,189.08 L59.40,187.75 L59.65,187.52 L59.90,188.78 L60.15,187.91 L60.40,188.86 L60.65,187.74 L60.90,187.96 L61.15,187.57 L61.40,188.21 L61.65,188.62 L61.90,187.88 L62.15,187.30 L62.40,187.17 L62.65,188.91 L62.90,187.76 L63.15,187.88 L63.40,187.02 L63.65,185.57 L63.90,185.57 L64.15,185.57 L64.40,188.62 L64.65,188.26 L64.90,188.54 L65.15,187.31 L65.40,188.53 L65.65,186.90 L65.90,189.09 L66.15,187.19 L66.40,188.83 L66.65,188.97 L66.90,188.78 L67.15,187.98 L67.40,187.52 L67.65,187.53 L67.90,189.02 L68.15,187.40 L68.40,187.99 L68.65,188.12 L68.90,188.48 L69.15,188.94 L69.40,187.90 L69.65,189.02 L69.90,189.00 L70.15,188.77 L70.40,188.98 L70.65,188.27 L70.90,189.04 L71.15,186.98 L71.40,187.18 L71.65,188.69 L71.90,186.98 L72.15,185.79 L72.40,185.79 L72.65,185.79 L72.90,188.98 L73.15,187.50 L73.40,187.14 L73.65,188.87 L73.90,188.38 L74.15,187.39 L74.40,187.04 L74.65,187.05 L74.90,187.06 L75.15,187.73 L75.40,188.75 L75.65,188.88 L75.90,188.96 L76.15,187.88 L76.40,188.80 L76.65,184.41 L76.90,184.41 L77.15,184.41 L77.40,188.79 L77.65,188.77 L77.90,183.73 L78.15,183.73 L78.40,183.73 L78.65,188.75 L78.90,187.22 L79.15,187.69 L79.40,186.96 L79.65,187.08 L79.90,187.15 L80.15,188.95 L80.40,189.08 L80.65,188.59 L80.90,188.66 L81.15,188.12 L81.40,189.09 L81.65,188.74 L81.90,188.35 L82.15,187.08 L82.40,188.46 L82.65,188.76 L82.90,188.67 L83.15,188.04 L83.40,187.61 L83.65,187.04 L83.90,187.08 L84.15,188.31 L84.40,187.29 L84.65,187.59 L84.90,184.47 L85.15,184.47 L85.40,184.47 L85.65,187.06 L85.90,188.77 L86.15,189.05 L86.40,187.11 L86.65,187.98 L86.90,186.25 L87.15,186.18 L87.40,186.18 L87.65,186.18 L87.90,189.01 L88.15,189.09 L88.40,188.41 L88.65,188.57 L88.90,187.44 L89.15,185.43 L89.40,185.43 L89.65,185.43 L89.90,188.37 L90.15,189.09 L90.40,188.99 L90.65,189.06 L90.90,187.37 L91.15,188.60 L91.40,187.01 L91.65,186.99 L91.90,187.24 L92.15,187.49 L92.40,187.50 L92.65,188.69 L92.90,189.07 L93.15,188.57 L93.40,187.47 L93.65,188.61 L93.90,187.08 L94.15,186.09 L94.40,186.09 L94.65,186.60 L94.90,186.60 L95.15,186.60 L95.40,187.56 L95.65,188.47 L95.90,188.94 L96.15,188.96 L96.40,188.12 L96.65,187.31 L96.90,187.26 L97.15,187.90 L97.40,187.89 L97.65,186.91 L97.90,187.01 L98.15,187.11 L98.40,187.88 L98.65,187.22 L98.90,188.57 L99.15,189.01 L99.40,188.78 L99.65,188.80 L99.90,188.24 L100.15,187.30 L100.40,186.80 L100.65,186.30 L100.90,185.80 L101.15,185.02 L101.40,184.06 L101.65,183.10 L101.90,182.14 L102.15,181.18 L102.40,179.74 L102.65,177.60 L102.90,175.46 L103.15,172.80 L103.40,169.80 L103.65,168.60 L103.90,168.60 L104.15,168.60 L104.40,170.93 L104.65,173.85 L104.90,176.20 L105.15,177.70 L105.40,179.20 L105.65,180.70 L105.90,181.93 L106.15,182.77 L106.40,183.60 L106.65,184.43 L106.90,185.27 L107.15,185.90 L107.40,186.40 L107.65,186.90 L107.90,187.40 L108.15,189.07 L108.40,188.94 L108.65,188.79 L108.90,189.08 L109.15,188.02 L109.40,187.32 L109.65,187.11 L109.90,188.96 L110.15,187.72 L110.40,187.74 L110.65,188.26 L110.90,187.01 L111.15,187.72 L111.40,188.97 L111.65,188.78 L111.90,188.82 L112.15,188.56 L112.40,188.50 L112.65,187.13 L112.90,188.36 L113.15,188.76 L113.40,188.13 L113.65,189.02 L113.90,188.44 L114.15,185.37 L114.40,185.37 L114.65,185.37 L114.90,186.91 L115.15,187.06 L115.40,189.02 L115.65,188.13 L115.90,188.95 L116.15,188.66 L116.40,187.46 L116.65,189.06 L116.90,189.07 L117.15,189.07 L117.40,189.05 L117.65,188.28 L117.90,188.91 L118.15,188.98 L118.40,187.12 L118.65,189.02 L118.90,187.31 L119.15,185.52 L119.40,185.52 L119.65,185.52 L119.90,187.42 L120.15,187.64 L120.40,187.93 L120.65,187.97 L120.90,187.39 L121.15,189.03 L121.40,188.91 L121.65,189.04 L121.90,188.02 L122.15,187.06 L122.40,188.77 L122.65,188.77 L122.90,189.02 L123.15,188.79 L123.40,188.87 L123.65,187.05 L123.90,188.86 L124.15,187.70 L124.40,187.40 L124.65,188.69 L124.90,187.45 L125.15,188.61 L125.40,186.90 L125.65,183.87 L125.90,183.87 L126.15,183.87 L126.40,188.42 L126.65,187.52 L126.90,189.05 L127.15,188.99 L127.40,188.17 L127.65,188.60 L127.90,188.32 L128.15,183.60 L128.40,183.60 L128.65,183.60 L128.90,188.25 L129.15,189.03 L129.40,188.98 L129.65,189.10 L129.90,189.08 L130.15,187.99 L130.40,186.92 L130.65,189.10 L130.90,188.90 L131.15,188.78 L131.40,188.34 L131.65,188.12 L131.90,187.85 L132.15,187.42 L132.40,188.99 L132.65,188.60 L132.90,188.03 L133.15,188.16 L133.40,188.18 L133.65,188.00 L133.90,187.46 L134.15,184.37 L134.40,184.37 L134.65,184.37 L134.90,188.46 L135.15,188.99 L135.40,188.13 L135.65,188.20 L135.90,186.96 L136.15,189.09 L136.40,188.60 L136.65,188.51 L136.90,187.48 L137.15,187.29 L137.40,184.60 L137.65,184.60 L137.90,184.60 L138.15,184.60 L138.40,189.04 L138.65,187.66 L138.90,187.76 L139.15,188.27 L139.40,188.22 L139.65,188.47 L139.90,188.01 L140.15,188.77 L140.40,187.57 L140.65,187.64 L140.90,187.65 L141.15,188.01 L141.40,186.97 L141.65,186.92 L141.90,188.63 L142.15,187.06 L142.40,187.56 L142.65,187.58 L142.90,189.06 L143.15,188.80 L143.40,187.54 L143.65,188.95 L143.90,188.77 L144.15,187.45 L144.40,188.47 L144.65,188.88 L144.90,186.94 L145.15,188.97 L145.40,188.99 L145.65,188.43 L145.90,188.30 L146.15,187.81 L146.40,188.96 L146.65,187.42 L146.90,188.07 L147.15,187.72 L147.40,188.27 L147.65,188.18 L147.90,187.76 L148.15,188.81 L148.40,188.68 L148.65,186.59 L148.90,186.59 L149.15,186.59 L149.40,188.44 L149.65,188.80 L149.90,188.95 L150.15,187.03 L150.40,187.60 L150.65,187.79 L150.90,188.86 L151.15,188.70 L151.40,188.20 L151.65,184.60 L151.90,184.60 L152.15,184.60 L152.40,187.90 L152.65,188.86 L152.90,187.94 L153.15,188.70 L153.40,187.51 L153.65,188.77 L153.90,188.87 L154.15,186.96 L154.40,188.52 L154.65,186.94 L154.90,188.08 L155.15,187.71 L155.40,187.13 L155.65,188.30 L155.90,187.78 L156.15,188.99 L156.40,187.45 L156.65,189.09 L156.90,186.98 L157.15,188.56 L157.40,189.01 L157.65,188.08 L157.90,188.65 L158.15,188.53 L158.40,188.29 L158.65,188.33 L158.90,187.90 L159.15,188.59 L159.40,186.99 L159.65,187.75 L159.90,187.00 L160.15,187.92 L160.40,188.52 L160.65,187.82 L160.90,187.71 L161.15,188.68 L161.40,187.66 L161.65,188.72 L161.90,188.17 L162.15,187.27 L162.40,188.38 L162.65,187.24 L162.90,188.12 L163.15,188.84 L163.40,188.79 L163.65,186.96 L163.90,188.89 L164.15,187.13 L164.40,187.39 L164.65,188.55 L164.90,188.98 L165.15,187.78 L165.40,188.77 L165.65,187.47 L165.90,188.09 L166.15,189.00 L166.40,189.07 L166.65,188.95 L166.90,185.66 L167.15,183.17 L167.40,183.17 L167.65,183.17 L167.90,186.43 L168.15,186.43 L168.40,186.43 L168.65,187.77 L168.90,187.63 L169.15,188.75 L169.40,187.61 L169.65,187.44 L169.90,189.10 L170.15,189.03 L170.40,187.65 L170.65,185.77 L170.90,185.77 L171.15,185.77 L171.40,187.44 L171.65,188.33 L171.90,188.14 L172.15,187.05 L172.40,187.73 L172.65,187.90 L172.90,187.21 L173.15,188.20 L173.40,187.75 L173.65,186.60 L173.90,186.60 L174.15,186.60 L174.40,188.93 L174.65,188.93 L174.90,188.91 L175.15,189.05 L175.40,188.72 L175.65,188.71 L175.90,188.53 L176.15,186.93 L176.40,187.61 L176.65,188.61 L176.90,187.64 L177.15,188.22 L177.40,189.05 L177.65,187.87 L177.90,188.92 L178.15,187.44 L178.40,187.97 L178.65,187.59 L178.90,187.75 L179.15,188.70 L179.40,188.97 L179.65,186.59 L179.90,186.59 L180.15,186.59 L180.40,187.34 L180.65,188.08 L180.90,188.51 L181.15,189.09 L181.40,188.99 L181.65,187.50 L181.90,188.99 L182.15,188.91 L182.40,188.30 L182.65,188.56 L182.90,187.67 L183.15,188.88 L183.40,188.65 L183.65,188.91 L183.90,187.44 L184.15,187.83 L184.40,189.04 L184.65,186.90 L184.90,188.17 L185.15,187.59 L185.40,189.02 L185.65,188.97 L185.90,187.47 L186.15,188.00 L186.40,188.50 L186.65,188.58 L186.90,189.09 L187.15,187.38 L187.40,187.81 L187.65,188.88 L187.90,181.60 L188.15,181.60 L188.40,181.60 L188.65,181.60 L188.90,188.30 L189.15,187.49 L189.40,188.31 L189.65,187.54 L189.90,188.37 L190.15,188.35 L190.40,187.43 L190.65,186.58 L190.90,186.58 L191.15,186.58 L191.40,188.32 L191.65,187.79 L191.90,188.81 L192.15,187.32 L192.40,188.30 L192.65,188.41 L192.90,188.85 L193.15,189.03 L193.40,189.09 L193.65,188.37 L193.90,187.27 L194.15,188.74 L194.40,188.69 L194.65,188.99 L194.90,187.87 L195.15,188.52 L195.40,187.76 L195.65,187.30 L195.90,187.45 L196.15,188.62 L196.40,186.96 L196.65,188.73 L196.90,187.87 L197.15,187.31 L197.40,188.68 L197.65,187.51 L197.90,188.88 L198.15,188.96 L198.40,187.14 L198.65,188.74 L198.90,185.55 L199.15,185.55 L199.40,185.55 L199.65,189.05 L199.90,188.91 L200.15,188.99 L200.40,188.25 L200.65,188.88 L200.90,187.43 L201.15,188.66 L201.40,187.80 L201.65,187.14 L201.90,188.76 L202.15,188.17 L202.40,188.65 L202.65,187.66 L202.90,188.90 L203.15,187.93 L203.40,188.50 L203.65,189.07 L203.90,187.89 L204.15,187.88 L204.40,187.39 L204.65,188.21 L204.90,188.89 L205.15,187.19 L205.40,188.48 L205.65,188.02 L205.90,189.02 L206.15,189.05 L206.40,188.77 L206.65,187.77 L206.90,188.22 L207.15,187.78 L207.40,187.51 L207.65,187.22 L207.90,188.26 L208.15,187.48 L208.40,187.15 L208.65,187.80 L208.90,187.62 L209.15,189.02 L209.40,186.40 L209.65,186.40 L209.90,186.40 L210.15,187.94 L210.40,188.22 L210.65,188.06 L210.90,187.39 L211.15,188.51 L211.40,188.84 L211.65,187.13 L211.90,187.59 L212.15,188.09 L212.40,187.18 L212.65,187.52 L212.90,188.96 L213.15,188.30 L213.40,188.81 L213.65,187.01 L213.90,188.89 L214.15,188.65 L214.40,187.23 L214.65,187.26 L214.90,188.25 L215.15,185.85 L215.40,185.85 L215.65,185.85 L215.90,188.87 L216.15,188.85 L216.40,187.87 L216.65,188.37 L216.90,188.27 L217.15,187.85 L217.40,188.69 L217.65,187.80 L217.90,187.34 L218.15,186.92 L218.40,185.93 L218.65,185.93 L218.90,185.93 L219.15,183.69 L219.40,183.69 L219.65,183.69 L219.90,188.11 L220.15,187.93 L220.40,188.12 L220.65,189.09 L220.90,188.74 L221.15,187.14 L221.40,188.68 L221.65,184.60 L221.90,184.60 L222.15,184.60 L222.40,184.60 L222.65,188.90 L222.90,187.37 L223.15,187.01 L223.40,188.59 L223.65,188.91 L223.90,188.86 L224.15,187.87 L224.40,187.21 L224.65,188.01 L224.90,187.54 L225.15,186.28 L225.40,186.28 L225.65,184.88 L225.90,184.88 L226.15,184.88 L226.40,188.30 L226.65,187.33 L226.90,188.58 L227.15,188.94 L227.40,187.98 L227.65,188.61 L227.90,187.32 L228.15,188.42 L228.40,187.05 L228.65,188.84 L228.90,188.71 L229.15,188.07 L229.40,188.65 L229.65,188.80 L229.90,188.96 L230.15,187.28 L230.40,187.30 L230.65,188.61 L230.90,188.93 L231.15,188.70 L231.40,187.37 L231.65,188.47 L231.90,187.30 L232.15,188.32 L232.40,188.92 L232.65,187.99 L232.90,188.90 L233.15,187.08 L233.40,189.09 L233.65,189.07 L233.90,188.19 L234.15,188.82 L234.40,179.60 L234.65,179.60 L234.90,179.60 L235.15,179.60 L235.40,188.30 L235.65,188.51 L235.90,188.62 L236.15,188.93 L236.40,189.06 L236.65,189.03 L236.90,189.02 L237.15,187.99 L237.40,187.46 L237.65,187.47 L237.90,188.09 L238.15,183.90 L238.40,183.90 L238.65,183.90 L238.90,187.61 L239.15,186.99 L239.40,188.97 L239.65,187.87 L239.90,187.46 L240.15,187.08 L240.40,189.03 L240.65,187.91 L240.90,188.65 L241.15,187.93 L241.40,188.68 L241.65,187.83 L241.90,188.52 L242.15,187.93 L242.40,187.67 L242.65,187.32 L242.90,188.14 L243.15,186.92 L243.40,187.96 L243.65,188.67 L243.90,187.92 L244.15,187.35 L244.40,187.71 L244.65,187.44 L244.90,187.95 L245.15,187.65 L245.40,188.86 L245.65,188.67 L245.90,187.46 L246.15,187.08 L246.40,187.69 L246.65,182.81 L246.90,182.81 L247.15,182.81 L247.40,187.49 L247.65,187.64 L247.90,182.20 L248.15,182.20 L248.40,182.20 L248.65,188.80 L248.90,187.34 L249.15,188.41 L249.40,189.06 L249.65,189.04 L249.90,189.06 L250.15,189.07 L250.40,187.52 L250.65,188.68 L250.90,188.41 L251.15,188.96 L251.40,187.02 L251.65,188.32 L251.90,187.84 L252.15,187.09 L252.40,188.85 L252.65,189.02 L252.90,188.24 L253.15,188.92 L253.40,188.89 L253.65,189.02 L253.90,186.02 L254.15,186.02 L254.40,186.02 L254.65,187.22 L254.90,187.08 L255.15,189.08 L255.40,188.06 L255.65,184.86 L255.90,184.86 L256.15,184.86 L256.40,188.60 L256.65,187.07 L256.90,188.77 L257.15,188.47 L257.40,187.12 L257.65,188.40 L257.90,189.07 L258.15,187.66 L258.40,188.67 L258.65,187.05 L258.90,187.75 L259.15,186.99 L259.40,188.35 L259.65,187.25 L259.90,187.24 L260.15,188.60 L260.40,188.05 L260.65,188.31 L260.90,187.43 L261.15,188.87 L261.40,187.01 L261.65,188.87 L261.90,189.02 L262.15,187.22 L262.40,188.58 L262.65,187.16 L262.90,189.03 L263.15,187.53 L263.40,188.83 L263.65,187.49 L263.90,187.70 L264.15,188.80 L264.40,187.28 L264.65,188.88 L264.90,188.57 L265.15,187.37 L265.40,188.40 L265.65,188.90 L265.90,184.47 L266.15,184.47 L266.40,184.47 L266.65,185.60 L266.90,185.60 L267.15,185.60 L267.40,185.60 L267.65,188.56 L267.90,184.82 L268.15,184.82 L268.40,184.82 L268.65,189.09 L268.90,188.91 L269.15,188.20 L269.40,187.50 L269.65,188.53 L269.90,188.46 L270.15,187.87 L270.40,188.93 L270.65,188.35 L270.90,186.47 L271.15,186.47 L271.40,186.47 L271.65,188.57 L271.90,188.66 L272.15,188.44 L272.40,189.00 L272.65,187.46 L272.90,185.48 L273.15,185.48 L273.40,185.48 L273.65,187.01 L273.90,186.94 L274.15,187.03 L274.40,188.36 L274.65,187.92 L274.90,187.52 L275.15,189.05 L275.40,188.71 L275.65,187.68 L275.90,188.33 L276.15,187.99 L276.40,188.97 L276.65,186.55 L276.90,186.55 L277.15,186.55 L277.40,187.99 L277.65,188.00 L277.90,186.95 L278.15,180.20 L278.40,180.20 L278.65,180.20 L278.90,180.20 L279.15,187.07 L279.40,188.11 L279.65,188.36 L279.90,188.44 L280.15,188.89 L280.40,187.60 L280.65,187.42 L280.90,187.90 L281.15,188.94 L281.40,187.55 L281.65,188.56 L281.90,188.80 L282.15,184.60 L282.40,184.60 L282.65,184.60 L282.90,184.60 L283.15,187.14 L283.40,186.44 L283.65,186.44 L283.90,186.44 L284.15,187.40 L284.40,188.26 L284.65,188.42 L284.90,187.92 L285.15,188.23 L285.40,189.07 L285.65,188.65 L285.90,187.26 L286.15,187.89 L286.40,187.87 L286.65,183.52 L286.90,183.52 L287.15,183.52 L287.40,188.83 L287.65,187.09 L287.90,188.36 L288,189.6 Z" fill="#d3aad7"/>
<path d="M31.4,189.6 L31.40,189.26 L31.65,188.63 L31.90,189.10 L32.15,188.52 L32.40,189.07 L32.65,188.96 L32.90,189.25 L33.15,188.27 L33.40,189.11 L33.65,188.66 L33.90,188.77 L34.15,189.21 L34.40,184.10 L34.65,184.10 L34.90,184.10 L35.15,184.10 L35.40,188.69 L35.65,188.58 L35.90,188.72 L36.15,189.19 L36.40,188.31 L36.65,189.18 L36.90,189.16 L37.15,188.83 L37.40,188.39 L37.65,186.74 L37.90,186.74 L38.15,186.74 L38.40,188.58 L38.65,188.89 L38.90,188.91 L39.15,189.27 L39.40,189.14 L39.65,188.21 L39.90,189.23 L40.15,186.86 L40.40,186.86 L40.65,186.86 L40.90,188.21 L41.15,189.07 L41.40,188.66 L41.65,189.12 L41.90,189.31 L42.15,188.14 L42.40,189.09 L42.65,189.01 L42.90,189.31 L43.15,189.18 L43.40,188.31 L43.65,189.13 L43.90,188.24 L44.15,188.48 L44.40,188.75 L44.65,188.20 L44.90,188.82 L45.15,189.00 L45.40,188.18 L45.65,188.46 L45.90,188.25 L46.15,189.13 L46.40,188.87 L46.65,189.11 L46.90,189.18 L47.15,189.23 L47.40,188.90 L47.65,188.98 L47.90,189.12 L48.15,188.93 L48.40,189.15 L48.65,188.53 L48.90,188.61 L49.15,188.64 L49.40,189.01 L49.65,188.62 L49.90,189.30 L50.15,189.11 L50.40,188.22 L50.65,189.29 L50.90,188.22 L51.15,189.27 L51.40,188.93 L51.65,188.31 L51.90,188.22 L52.15,188.43 L52.40,189.24 L52.65,187.51 L52.90,187.51 L53.15,187.51 L53.40,188.16 L53.65,188.59 L53.90,189.32 L54.15,189.14 L54.40,188.23 L54.65,188.34 L54.90,188.90 L55.15,187.91 L55.40,187.91 L55.65,187.91 L55.90,188.80 L56.15,188.91 L56.40,189.29 L56.65,188.73 L56.90,188.93 L57.15,188.17 L57.40,186.32 L57.65,186.32 L57.90,186.32 L58.15,189.15 L58.40,189.12 L58.65,189.13 L58.90,188.32 L59.15,189.31 L59.40,188.58 L59.65,188.46 L59.90,189.15 L60.15,188.67 L60.40,189.19 L60.65,188.58 L60.90,188.70 L61.15,188.49 L61.40,188.84 L61.65,189.06 L61.90,188.65 L62.15,188.33 L62.40,188.26 L62.65,189.22 L62.90,188.59 L63.15,188.65 L63.40,188.18 L63.65,187.38 L63.90,187.38 L64.15,187.38 L64.40,189.06 L64.65,188.86 L64.90,189.02 L65.15,188.34 L65.40,189.01 L65.65,188.12 L65.90,189.32 L66.15,188.27 L66.40,189.18 L66.65,189.25 L66.90,189.15 L67.15,188.71 L67.40,188.46 L67.65,188.46 L67.90,189.28 L68.15,188.39 L68.40,188.71 L68.65,188.78 L68.90,188.98 L69.15,189.24 L69.40,188.67 L69.65,189.28 L69.90,189.27 L70.15,189.15 L70.40,189.26 L70.65,188.87 L70.90,189.29 L71.15,188.16 L71.40,188.27 L71.65,189.10 L71.90,188.16 L72.15,187.50 L72.40,187.50 L72.65,187.50 L72.90,189.26 L73.15,188.45 L73.40,188.25 L73.65,189.20 L73.90,188.93 L74.15,188.38 L74.40,188.19 L74.65,188.20 L74.90,188.20 L75.15,188.57 L75.40,189.13 L75.65,189.20 L75.90,189.25 L76.15,188.66 L76.40,189.16 L76.65,186.75 L76.90,186.75 L77.15,186.75 L77.40,189.16 L77.65,189.15 L77.90,186.37 L78.15,186.37 L78.40,186.37 L78.65,189.13 L78.90,188.29 L79.15,188.55 L79.40,188.15 L79.65,188.21 L79.90,188.25 L80.15,189.24 L80.40,189.31 L80.65,189.04 L80.90,189.08 L81.15,188.79 L81.40,189.32 L81.65,189.13 L81.90,188.91 L82.15,188.21 L82.40,188.98 L82.65,189.14 L82.90,189.09 L83.15,188.74 L83.40,188.51 L83.65,188.19 L83.90,188.21 L84.15,188.89 L84.40,188.33 L84.65,188.50 L84.90,186.78 L85.15,186.78 L85.40,186.78 L85.65,188.20 L85.90,189.14 L86.15,189.30 L86.40,188.23 L86.65,188.71 L86.90,187.76 L87.15,187.72 L87.40,187.72 L87.65,187.72 L87.90,189.28 L88.15,189.32 L88.40,188.95 L88.65,189.03 L88.90,188.41 L89.15,187.31 L89.40,187.31 L89.65,187.31 L89.90,188.92 L90.15,189.32 L90.40,189.26 L90.65,189.31 L90.90,188.37 L91.15,189.05 L91.40,188.17 L91.65,188.16 L91.90,188.30 L92.15,188.44 L92.40,188.44 L92.65,189.10 L92.90,189.31 L93.15,189.03 L93.40,188.43 L93.65,189.05 L93.90,188.21 L94.15,187.67 L94.40,187.67 L94.65,187.95 L94.90,187.95 L95.15,187.95 L95.40,188.48 L95.65,188.98 L95.90,189.24 L96.15,189.25 L96.40,188.78 L96.65,188.34 L96.90,188.31 L97.15,188.66 L97.40,188.66 L97.65,188.12 L97.90,188.18 L98.15,188.23 L98.40,188.65 L98.65,188.29 L98.90,189.04 L99.15,189.27 L99.40,189.15 L99.65,189.16 L99.90,188.85 L100.15,188.33 L100.40,188.06 L100.65,187.78 L100.90,187.51 L101.15,187.08 L101.40,186.55 L101.65,186.02 L101.90,185.50 L102.15,184.97 L102.40,184.18 L102.65,183.00 L102.90,181.82 L103.15,180.36 L103.40,178.71 L103.65,178.05 L103.90,178.05 L104.15,178.05 L104.40,179.33 L104.65,180.94 L104.90,182.23 L105.15,183.06 L105.40,183.88 L105.65,184.71 L105.90,185.38 L106.15,185.84 L106.40,186.30 L106.65,186.76 L106.90,187.22 L107.15,187.56 L107.40,187.84 L107.65,188.12 L107.90,188.39 L108.15,189.31 L108.40,189.24 L108.65,189.16 L108.90,189.32 L109.15,188.73 L109.40,188.34 L109.65,188.23 L109.90,189.25 L110.15,188.57 L110.40,188.58 L110.65,188.87 L110.90,188.17 L111.15,188.57 L111.40,189.25 L111.65,189.15 L111.90,189.17 L112.15,189.03 L112.40,188.99 L112.65,188.24 L112.90,188.92 L113.15,189.14 L113.40,188.79 L113.65,189.28 L113.90,188.96 L114.15,187.28 L114.40,187.28 L114.65,187.28 L114.90,188.12 L115.15,188.20 L115.40,189.28 L115.65,188.79 L115.90,189.24 L116.15,189.08 L116.40,188.42 L116.65,189.30 L116.90,189.31 L117.15,189.31 L117.40,189.30 L117.65,188.88 L117.90,189.22 L118.15,189.26 L118.40,188.23 L118.65,189.28 L118.90,188.34 L119.15,187.36 L119.40,187.36 L119.65,187.36 L119.90,188.40 L120.15,188.52 L120.40,188.68 L120.65,188.70 L120.90,188.38 L121.15,189.29 L121.40,189.22 L121.65,189.29 L121.90,188.73 L122.15,188.20 L122.40,189.14 L122.65,189.14 L122.90,189.28 L123.15,189.15 L123.40,189.20 L123.65,188.20 L123.90,189.19 L124.15,188.55 L124.40,188.39 L124.65,189.10 L124.90,188.42 L125.15,189.05 L125.40,188.12 L125.65,186.45 L125.90,186.45 L126.15,186.45 L126.40,188.95 L126.65,188.46 L126.90,189.29 L127.15,189.26 L127.40,188.81 L127.65,189.05 L127.90,188.89 L128.15,186.30 L128.40,186.30 L128.65,186.30 L128.90,188.86 L129.15,189.29 L129.40,189.26 L129.65,189.32 L129.90,189.31 L130.15,188.72 L130.40,188.12 L130.65,189.32 L130.90,189.21 L131.15,189.15 L131.40,188.91 L131.65,188.79 L131.90,188.64 L132.15,188.40 L132.40,189.27 L132.65,189.05 L132.90,188.74 L133.15,188.81 L133.40,188.82 L133.65,188.72 L133.90,188.42 L134.15,186.72 L134.40,186.72 L134.65,186.72 L134.90,188.97 L135.15,189.26 L135.40,188.79 L135.65,188.83 L135.90,188.15 L136.15,189.32 L136.40,189.05 L136.65,189.00 L136.90,188.43 L137.15,188.33 L137.40,186.85 L137.65,186.85 L137.90,186.85 L138.15,186.85 L138.40,189.29 L138.65,188.53 L138.90,188.59 L139.15,188.87 L139.40,188.84 L139.65,188.98 L139.90,188.72 L140.15,189.15 L140.40,188.49 L140.65,188.52 L140.90,188.53 L141.15,188.73 L141.40,188.15 L141.65,188.12 L141.90,189.07 L142.15,188.20 L142.40,188.48 L142.65,188.49 L142.90,189.30 L143.15,189.16 L143.40,188.47 L143.65,189.24 L143.90,189.14 L144.15,188.42 L144.40,188.98 L144.65,189.20 L144.90,188.14 L145.15,189.25 L145.40,189.27 L145.65,188.96 L145.90,188.88 L146.15,188.62 L146.40,189.25 L146.65,188.40 L146.90,188.76 L147.15,188.57 L147.40,188.87 L147.65,188.82 L147.90,188.59 L148.15,189.17 L148.40,189.10 L148.65,187.95 L148.90,187.95 L149.15,187.95 L149.40,188.96 L149.65,189.16 L149.90,189.24 L150.15,188.19 L150.40,188.50 L150.65,188.60 L150.90,189.19 L151.15,189.11 L151.40,188.83 L151.65,186.85 L151.90,186.85 L152.15,186.85 L152.40,188.66 L152.65,189.20 L152.90,188.69 L153.15,189.11 L153.40,188.45 L153.65,189.15 L153.90,189.20 L154.15,188.15 L154.40,189.01 L154.65,188.14 L154.90,188.77 L155.15,188.56 L155.40,188.24 L155.65,188.88 L155.90,188.60 L156.15,189.26 L156.40,188.42 L156.65,189.32 L156.90,188.16 L157.15,189.03 L157.40,189.28 L157.65,188.77 L157.90,189.08 L158.15,189.01 L158.40,188.88 L158.65,188.90 L158.90,188.67 L159.15,189.05 L159.40,188.17 L159.65,188.58 L159.90,188.17 L160.15,188.68 L160.40,189.01 L160.65,188.62 L160.90,188.56 L161.15,189.09 L161.40,188.53 L161.65,189.12 L161.90,188.81 L162.15,188.32 L162.40,188.93 L162.65,188.30 L162.90,188.79 L163.15,189.18 L163.40,189.15 L163.65,188.15 L163.90,189.21 L164.15,188.24 L164.40,188.38 L164.65,189.02 L164.90,189.26 L165.15,188.60 L165.40,189.14 L165.65,188.43 L165.90,188.77 L166.15,189.27 L166.40,189.31 L166.65,189.24 L166.90,187.43 L167.15,186.06 L167.40,186.06 L167.65,186.06 L167.90,187.85 L168.15,187.85 L168.40,187.85 L168.65,188.59 L168.90,188.52 L169.15,189.13 L169.40,188.50 L169.65,188.41 L169.90,189.32 L170.15,189.29 L170.40,188.53 L170.65,187.50 L170.90,187.50 L171.15,187.50 L171.40,188.41 L171.65,188.90 L171.90,188.79 L172.15,188.20 L172.40,188.57 L172.65,188.67 L172.90,188.29 L173.15,188.83 L173.40,188.58 L173.65,187.95 L173.90,187.95 L174.15,187.95 L174.40,189.23 L174.65,189.23 L174.90,189.22 L175.15,189.30 L175.40,189.12 L175.65,189.11 L175.90,189.01 L176.15,188.13 L176.40,188.51 L176.65,189.06 L176.90,188.52 L177.15,188.84 L177.40,189.30 L177.65,188.65 L177.90,189.23 L178.15,188.41 L178.40,188.70 L178.65,188.49 L178.90,188.58 L179.15,189.10 L179.40,189.26 L179.65,187.95 L179.90,187.95 L180.15,187.95 L180.40,188.36 L180.65,188.76 L180.90,189.00 L181.15,189.32 L181.40,189.27 L181.65,188.44 L181.90,189.26 L182.15,189.22 L182.40,188.89 L182.65,189.03 L182.90,188.54 L183.15,189.21 L183.40,189.08 L183.65,189.22 L183.90,188.41 L184.15,188.63 L184.40,189.29 L184.65,188.12 L184.90,188.81 L185.15,188.49 L185.40,189.28 L185.65,189.26 L185.90,188.43 L186.15,188.72 L186.40,189.00 L186.65,189.04 L186.90,189.32 L187.15,188.38 L187.40,188.62 L187.65,189.20 L187.90,185.20 L188.15,185.20 L188.40,185.20 L188.65,185.20 L188.90,188.89 L189.15,188.44 L189.40,188.89 L189.65,188.47 L189.90,188.92 L190.15,188.91 L190.40,188.41 L190.65,187.94 L190.90,187.94 L191.15,187.94 L191.40,188.90 L191.65,188.60 L191.90,189.17 L192.15,188.35 L192.40,188.88 L192.65,188.95 L192.90,189.19 L193.15,189.29 L193.40,189.32 L193.65,188.92 L193.90,188.32 L194.15,189.13 L194.40,189.10 L194.65,189.27 L194.90,188.65 L195.15,189.00 L195.40,188.59 L195.65,188.34 L195.90,188.42 L196.15,189.06 L196.40,188.15 L196.65,189.12 L196.90,188.65 L197.15,188.34 L197.40,189.09 L197.65,188.45 L197.90,189.20 L198.15,189.25 L198.40,188.24 L198.65,189.13 L198.90,187.37 L199.15,187.37 L199.40,187.37 L199.65,189.30 L199.90,189.22 L200.15,189.26 L200.40,188.86 L200.65,189.20 L200.90,188.41 L201.15,189.09 L201.40,188.61 L201.65,188.24 L201.90,189.14 L202.15,188.81 L202.40,189.08 L202.65,188.53 L202.90,189.22 L203.15,188.68 L203.40,189.00 L203.65,189.31 L203.90,188.66 L204.15,188.66 L204.40,188.38 L204.65,188.83 L204.90,189.21 L205.15,188.27 L205.40,188.99 L205.65,188.73 L205.90,189.28 L206.15,189.30 L206.40,189.15 L206.65,188.59 L206.90,188.84 L207.15,188.60 L207.40,188.45 L207.65,188.29 L207.90,188.86 L208.15,188.43 L208.40,188.25 L208.65,188.61 L208.90,188.51 L209.15,189.28 L209.40,187.84 L209.65,187.84 L209.90,187.84 L210.15,188.69 L210.40,188.84 L210.65,188.75 L210.90,188.39 L211.15,189.00 L211.40,189.18 L211.65,188.24 L211.90,188.49 L212.15,188.77 L212.40,188.27 L212.65,188.46 L212.90,189.25 L213.15,188.88 L213.40,189.16 L213.65,188.17 L213.90,189.21 L214.15,189.08 L214.40,188.30 L214.65,188.32 L214.90,188.85 L215.15,187.54 L215.40,187.54 L215.65,187.54 L215.90,189.20 L216.15,189.19 L216.40,188.65 L216.65,188.93 L216.90,188.87 L217.15,188.64 L217.40,189.10 L217.65,188.61 L217.90,188.36 L218.15,188.13 L218.40,187.58 L218.65,187.58 L218.90,187.58 L219.15,186.35 L219.40,186.35 L219.65,186.35 L219.90,188.78 L220.15,188.68 L220.40,188.79 L220.65,189.32 L220.90,189.13 L221.15,188.25 L221.40,189.10 L221.65,186.85 L221.90,186.85 L222.15,186.85 L222.40,186.85 L222.65,189.22 L222.90,188.38 L223.15,188.18 L223.40,189.04 L223.65,189.22 L223.90,189.20 L224.15,188.65 L224.40,188.29 L224.65,188.73 L224.90,188.47 L225.15,187.77 L225.40,187.77 L225.65,187.01 L225.90,187.01 L226.15,187.01 L226.40,188.89 L226.65,188.35 L226.90,189.04 L227.15,189.24 L227.40,188.71 L227.65,189.05 L227.90,188.35 L228.15,188.95 L228.40,188.20 L228.65,189.18 L228.90,189.11 L229.15,188.76 L229.40,189.08 L229.65,189.16 L229.90,189.25 L230.15,188.33 L230.40,188.33 L230.65,189.06 L230.90,189.23 L231.15,189.11 L231.40,188.37 L231.65,188.98 L231.90,188.33 L232.15,188.90 L232.40,189.22 L232.65,188.71 L232.90,189.22 L233.15,188.21 L233.40,189.32 L233.65,189.31 L233.90,188.82 L234.15,189.17 L234.40,184.10 L234.65,184.10 L234.90,184.10 L235.15,184.10 L235.40,188.88 L235.65,189.00 L235.90,189.06 L236.15,189.23 L236.40,189.30 L236.65,189.29 L236.90,189.28 L237.15,188.72 L237.40,188.42 L237.65,188.43 L237.90,188.77 L238.15,186.47 L238.40,186.47 L238.65,186.47 L238.90,188.51 L239.15,188.16 L239.40,189.25 L239.65,188.65 L239.90,188.42 L240.15,188.21 L240.40,189.29 L240.65,188.67 L240.90,189.08 L241.15,188.68 L241.40,189.09 L241.65,188.63 L241.90,189.01 L242.15,188.68 L242.40,188.54 L242.65,188.35 L242.90,188.80 L243.15,188.13 L243.40,188.70 L243.65,189.09 L243.90,188.67 L244.15,188.36 L244.40,188.56 L244.65,188.41 L244.90,188.70 L245.15,188.53 L245.40,189.19 L245.65,189.09 L245.90,188.43 L246.15,188.21 L246.40,188.55 L246.65,185.86 L246.90,185.86 L247.15,185.86 L247.40,188.44 L247.65,188.52 L247.90,185.53 L248.15,185.53 L248.40,185.53 L248.65,189.16 L248.90,188.36 L249.15,188.94 L249.40,189.30 L249.65,189.29 L249.90,189.30 L250.15,189.31 L250.40,188.46 L250.65,189.09 L250.90,188.94 L251.15,189.25 L251.40,188.18 L251.65,188.90 L251.90,188.63 L252.15,188.22 L252.40,189.19 L252.65,189.28 L252.90,188.85 L253.15,189.23 L253.40,189.21 L253.65,189.28 L253.90,187.63 L254.15,187.63 L254.40,187.63 L254.65,188.29 L254.90,188.22 L255.15,189.32 L255.40,188.75 L255.65,186.99 L255.90,186.99 L256.15,186.99 L256.40,189.05 L256.65,188.21 L256.90,189.14 L257.15,188.98 L257.40,188.23 L257.65,188.94 L257.90,189.31 L258.15,188.53 L258.40,189.09 L258.65,188.20 L258.90,188.58 L259.15,188.17 L259.40,188.91 L259.65,188.31 L259.90,188.30 L260.15,189.05 L260.40,188.75 L260.65,188.89 L260.90,188.41 L261.15,189.20 L261.40,188.18 L261.65,189.20 L261.90,189.28 L262.15,188.29 L262.40,189.04 L262.65,188.26 L262.90,189.29 L263.15,188.46 L263.40,189.17 L263.65,188.44 L263.90,188.56 L264.15,189.16 L264.40,188.32 L264.65,189.20 L264.90,189.03 L265.15,188.38 L265.40,188.94 L265.65,189.22 L265.90,186.78 L266.15,186.78 L266.40,186.78 L266.65,187.40 L266.90,187.40 L267.15,187.40 L267.40,187.40 L267.65,189.03 L267.90,186.97 L268.15,186.97 L268.40,186.97 L268.65,189.32 L268.90,189.22 L269.15,188.83 L269.40,188.45 L269.65,189.01 L269.90,188.98 L270.15,188.65 L270.40,189.23 L270.65,188.91 L270.90,187.88 L271.15,187.88 L271.40,187.88 L271.65,189.03 L271.90,189.08 L272.15,188.96 L272.40,189.27 L272.65,188.42 L272.90,187.33 L273.15,187.33 L273.40,187.33 L273.65,188.18 L273.90,188.14 L274.15,188.19 L274.40,188.92 L274.65,188.68 L274.90,188.46 L275.15,189.30 L275.40,189.11 L275.65,188.55 L275.90,188.90 L276.15,188.71 L276.40,189.25 L276.65,187.92 L276.90,187.92 L277.15,187.92 L277.40,188.72 L277.65,188.72 L277.90,188.14 L278.15,184.43 L278.40,184.43 L278.65,184.43 L278.90,184.43 L279.15,188.21 L279.40,188.78 L279.65,188.92 L279.90,188.96 L280.15,189.21 L280.40,188.50 L280.65,188.40 L280.90,188.66 L281.15,189.24 L281.40,188.47 L281.65,189.03 L281.90,189.16 L282.15,186.85 L282.40,186.85 L282.65,186.85 L282.90,186.85 L283.15,188.25 L283.40,187.86 L283.65,187.86 L283.90,187.86 L284.15,188.39 L284.40,188.86 L284.65,188.95 L284.90,188.68 L285.15,188.84 L285.40,189.31 L285.65,189.08 L285.90,188.31 L286.15,188.66 L286.40,188.65 L286.65,186.26 L286.90,186.26 L287.15,186.26 L287.40,189.17 L287.65,188.22 L287.90,188.92 L288,189.6 Z" fill="#74287c"/>
<path d="M31.4,220.9 L31.40,213.26 L31.65,214.65 L31.90,214.65 L32.15,214.90 L32.40,214.90 L32.65,220.29 L32.90,220.28 L33.15,220.04 L33.40,219.02 L33.65,219.16 L33.90,213.95 L34.15,217.78 L34.40,217.78 L34.65,219.91 L34.90,217.65 L35.15,218.46 L35.40,219.72 L35.65,220.47 L35.90,219.90 L36.15,220.06 L36.40,215.83 L36.65,218.99 L36.90,219.88 L37.15,219.20 L37.40,219.33 L37.65,220.03 L37.90,218.08 L38.15,216.59 L38.40,219.29 L38.65,220.35 L38.90,216.68 L39.15,220.13 L39.40,220.16 L39.65,219.36 L39.90,215.54 L40.15,220.90 L40.40,215.74 L40.65,216.38 L40.90,211.06 L41.15,218.81 L41.40,215.59 L41.65,209.21 L41.90,216.58 L42.15,216.95 L42.40,214.63 L42.65,208.20 L42.90,208.20 L43.15,208.20 L43.40,214.59 L43.65,218.56 L43.90,215.08 L44.15,218.43 L44.40,219.25 L44.65,212.90 L44.90,212.90 L45.15,212.90 L45.40,212.90 L45.65,217.47 L45.90,213.65 L46.15,212.85 L46.40,219.33 L46.65,214.55 L46.90,217.36 L47.15,218.76 L47.40,216.86 L47.65,209.08 L47.90,216.68 L48.15,215.38 L48.40,219.75 L48.65,218.72 L48.90,219.23 L49.15,218.67 L49.40,220.14 L49.65,218.48 L49.90,219.86 L50.15,218.94 L50.40,219.37 L50.65,217.89 L50.90,218.52 L51.15,219.62 L51.40,219.10 L51.65,218.88 L51.90,217.25 L52.15,218.63 L52.40,219.30 L52.65,219.58 L52.90,219.18 L53.15,220.24 L53.40,219.86 L53.65,215.40 L53.90,208.92 L54.15,217.33 L54.40,219.09 L54.65,219.03 L54.90,220.09 L55.15,216.52 L55.40,216.40 L55.65,217.05 L55.90,219.25 L56.15,217.71 L56.40,217.67 L56.65,218.00 L56.90,217.17 L57.15,218.83 L57.40,219.79 L57.65,219.51 L57.90,217.40 L58.15,217.10 L58.40,217.87 L58.65,218.36 L58.90,218.19 L59.15,218.38 L59.40,216.69 L59.65,219.91 L59.90,219.91 L60.15,219.90 L60.40,217.55 L60.65,219.09 L60.90,217.47 L61.15,209.50 L61.40,209.50 L61.65,209.50 L61.90,209.50 L62.15,215.21 L62.40,215.84 L62.65,219.71 L62.90,217.96 L63.15,214.09 L63.40,214.09 L63.65,213.72 L63.90,218.04 L64.15,207.50 L64.40,216.44 L64.65,216.44 L64.90,216.44 L65.15,219.78 L65.40,219.81 L65.65,220.29 L65.90,219.21 L66.15,212.27 L66.40,212.27 L66.65,212.27 L66.90,219.38 L67.15,220.40 L67.40,219.13 L67.65,219.19 L67.90,218.68 L68.15,219.11 L68.40,214.97 L68.65,217.83 L68.90,217.83 L69.15,219.41 L69.40,219.85 L69.65,219.08 L69.90,218.06 L70.15,219.19 L70.40,217.46 L70.65,220.36 L70.90,220.15 L71.15,220.49 L71.40,219.29 L71.65,218.23 L71.90,220.17 L72.15,220.28 L72.40,219.79 L72.65,219.64 L72.90,219.77 L73.15,219.10 L73.40,219.96 L73.65,220.47 L73.90,217.61 L74.15,217.03 L74.40,216.70 L74.65,215.16 L74.90,217.46 L75.15,219.13 L75.40,216.43 L75.65,216.63 L75.90,218.60 L76.15,215.50 L76.40,205.04 L76.65,215.50 L76.90,215.50 L77.15,219.14 L77.40,219.69 L77.65,216.03 L77.90,217.30 L78.15,215.96 L78.40,216.92 L78.65,207.13 L78.90,218.98 L79.15,217.63 L79.40,220.34 L79.65,217.04 L79.90,220.15 L80.15,218.61 L80.40,219.83 L80.65,215.63 L80.90,220.03 L81.15,218.02 L81.40,219.19 L81.65,219.65 L81.90,220.08 L82.15,219.97 L82.40,219.92 L82.65,219.73 L82.90,219.60 L83.15,215.09 L83.40,215.09 L83.65,215.09 L83.90,213.99 L84.15,213.99 L84.40,213.99 L84.65,216.90 L84.90,216.90 L85.15,220.06 L85.40,212.20 L85.65,219.95 L85.90,220.32 L86.15,218.18 L86.40,220.26 L86.65,220.15 L86.90,219.52 L87.15,219.37 L87.40,218.85 L87.65,219.89 L87.90,218.80 L88.15,217.91 L88.40,219.45 L88.65,220.23 L88.90,218.63 L89.15,219.81 L89.40,218.77 L89.65,215.92 L89.90,218.56 L90.15,218.55 L90.40,218.77 L90.65,220.25 L90.90,220.07 L91.15,220.31 L91.40,218.92 L91.65,219.99 L91.90,219.21 L92.15,220.02 L92.40,218.52 L92.65,218.69 L92.90,219.82 L93.15,218.64 L93.40,217.41 L93.65,220.32 L93.90,219.91 L94.15,220.20 L94.40,219.32 L94.65,219.01 L94.90,220.21 L95.15,220.30 L95.40,219.69 L95.65,220.36 L95.90,220.22 L96.15,217.94 L96.40,219.84 L96.65,219.65 L96.90,220.06 L97.15,219.37 L97.40,219.00 L97.65,218.65 L97.90,220.08 L98.15,214.90 L98.40,218.57 L98.65,218.75 L98.90,213.17 L99.15,212.04 L99.40,212.04 L99.65,217.87 L99.90,217.87 L100.15,215.96 L100.40,220.26 L100.65,218.54 L100.90,219.71 L101.15,218.90 L101.40,218.33 L101.65,219.09 L101.90,218.93 L102.15,219.49 L102.40,218.47 L102.65,219.39 L102.90,218.61 L103.15,215.55 L103.40,219.26 L103.65,219.68 L103.90,220.07 L104.15,219.27 L104.40,219.60 L104.65,219.99 L104.90,216.60 L105.15,218.46 L105.40,219.17 L105.65,218.84 L105.90,220.16 L106.15,219.04 L106.40,216.36 L106.65,219.27 L106.90,219.23 L107.15,219.81 L107.40,220.10 L107.65,219.76 L107.90,220.01 L108.15,218.60 L108.40,218.84 L108.65,219.61 L108.90,220.06 L109.15,214.91 L109.40,214.91 L109.65,216.98 L109.90,216.98 L110.15,216.98 L110.40,218.55 L110.65,219.36 L110.90,219.37 L111.15,212.13 L111.40,218.16 L111.65,217.96 L111.90,218.65 L112.15,218.50 L112.40,218.75 L112.65,214.48 L112.90,214.48 L113.15,214.48 L113.40,220.28 L113.65,220.34 L113.90,211.98 L114.15,211.98 L114.40,211.98 L114.65,218.32 L114.90,219.32 L115.15,219.91 L115.40,219.13 L115.65,219.67 L115.90,217.81 L116.15,217.81 L116.40,217.81 L116.65,218.98 L116.90,220.18 L117.15,219.71 L117.40,219.96 L117.65,219.11 L117.90,217.89 L118.15,220.13 L118.40,220.29 L118.65,220.22 L118.90,219.53 L119.15,219.75 L119.40,219.78 L119.65,219.53 L119.90,219.91 L120.15,219.86 L120.40,219.63 L120.65,219.92 L120.90,217.56 L121.15,217.56 L121.40,217.56 L121.65,217.46 L121.90,220.15 L122.15,217.75 L122.40,219.76 L122.65,220.21 L122.90,212.19 L123.15,220.12 L123.40,220.09 L123.65,219.52 L123.90,219.54 L124.15,218.29 L124.40,219.93 L124.65,219.93 L124.90,220.03 L125.15,220.17 L125.40,219.65 L125.65,219.95 L125.90,214.97 L126.15,220.29 L126.40,218.52 L126.65,219.47 L126.90,219.74 L127.15,220.30 L127.40,213.01 L127.65,218.35 L127.90,220.07 L128.15,220.35 L128.40,218.23 L128.65,218.27 L128.90,219.46 L129.15,219.53 L129.40,218.58 L129.65,218.40 L129.90,220.13 L130.15,218.70 L130.40,219.66 L130.65,213.82 L130.90,219.32 L131.15,220.39 L131.40,217.90 L131.65,217.90 L131.90,217.90 L132.15,219.05 L132.40,217.33 L132.65,218.22 L132.90,219.08 L133.15,219.30 L133.40,218.87 L133.65,216.26 L133.90,219.90 L134.15,220.00 L134.40,219.63 L134.65,219.32 L134.90,219.70 L135.15,218.76 L135.40,220.00 L135.65,220.10 L135.90,219.60 L136.15,218.37 L136.40,220.14 L136.65,212.66 L136.90,212.66 L137.15,212.66 L137.40,220.29 L137.65,219.09 L137.90,219.48 L138.15,218.29 L138.40,213.98 L138.65,218.91 L138.90,217.49 L139.15,218.75 L139.40,218.81 L139.65,220.20 L139.90,218.51 L140.15,216.82 L140.40,220.37 L140.65,218.33 L140.90,217.66 L141.15,219.35 L141.40,219.88 L141.65,220.05 L141.90,217.18 L142.15,218.14 L142.40,219.86 L142.65,218.82 L142.90,218.96 L143.15,216.52 L143.40,219.14 L143.65,220.14 L143.90,218.93 L144.15,220.11 L144.40,219.82 L144.65,219.79 L144.90,218.62 L145.15,219.73 L145.40,219.95 L145.65,220.24 L145.90,218.23 L146.15,218.72 L146.40,218.80 L146.65,218.61 L146.90,215.92 L147.15,220.09 L147.40,219.06 L147.65,219.95 L147.90,219.67 L148.15,219.32 L148.40,217.88 L148.65,218.66 L148.90,220.24 L149.15,219.75 L149.40,216.01 L149.65,216.01 L149.90,216.01 L150.15,220.32 L150.40,217.80 L150.65,219.03 L150.90,219.71 L151.15,218.63 L151.40,218.30 L151.65,218.16 L151.90,219.69 L152.15,211.85 L152.40,218.63 L152.65,219.30 L152.90,219.23 L153.15,219.27 L153.40,216.90 L153.65,216.06 L153.90,216.90 L154.15,216.70 L154.40,218.69 L154.65,218.90 L154.90,218.53 L155.15,220.06 L155.40,219.40 L155.65,219.48 L155.90,217.37 L156.15,217.37 L156.40,217.37 L156.65,218.93 L156.90,218.50 L157.15,219.75 L157.40,218.32 L157.65,215.70 L157.90,219.93 L158.15,216.77 L158.40,219.10 L158.65,218.97 L158.90,219.77 L159.15,217.70 L159.40,218.25 L159.65,219.01 L159.90,220.36 L160.15,218.66 L160.40,220.07 L160.65,218.39 L160.90,213.43 L161.15,220.30 L161.40,220.11 L161.65,218.60 L161.90,219.03 L162.15,214.83 L162.40,220.11 L162.65,218.87 L162.90,218.45 L163.15,215.89 L163.40,215.89 L163.65,215.89 L163.90,219.52 L164.15,218.37 L164.40,219.53 L164.65,215.88 L164.90,220.09 L165.15,219.26 L165.40,218.51 L165.65,219.93 L165.90,217.92 L166.15,219.06 L166.40,219.63 L166.65,219.68 L166.90,220.05 L167.15,219.29 L167.40,219.88 L167.65,217.03 L167.90,218.40 L168.15,220.19 L168.40,212.47 L168.65,219.74 L168.90,219.83 L169.15,220.16 L169.40,219.46 L169.65,220.36 L169.90,219.15 L170.15,219.82 L170.40,219.24 L170.65,220.23 L170.90,219.90 L171.15,219.62 L171.40,218.45 L171.65,219.85 L171.90,219.60 L172.15,218.97 L172.40,213.69 L172.65,213.69 L172.90,213.69 L173.15,219.64 L173.40,218.51 L173.65,219.44 L173.90,219.81 L174.15,217.53 L174.40,217.53 L174.65,217.53 L174.90,220.37 L175.15,219.36 L175.40,219.49 L175.65,219.03 L175.90,218.85 L176.15,219.48 L176.40,219.21 L176.65,215.95 L176.90,216.59 L177.15,216.59 L177.40,219.86 L177.65,218.94 L177.90,219.54 L178.15,219.11 L178.40,218.39 L178.65,216.90 L178.90,220.02 L179.15,220.25 L179.40,220.06 L179.65,217.50 L179.90,219.93 L180.15,218.36 L180.40,215.87 L180.65,215.87 L180.90,215.87 L181.15,216.44 L181.40,218.99 L181.65,218.68 L181.90,219.46 L182.15,215.36 L182.40,219.82 L182.65,219.12 L182.90,218.87 L183.15,220.10 L183.40,218.63 L183.65,219.73 L183.90,219.74 L184.15,218.54 L184.40,219.26 L184.65,217.57 L184.90,217.57 L185.15,215.19 L185.40,219.59 L185.65,219.83 L185.90,219.75 L186.15,215.23 L186.40,219.75 L186.65,218.88 L186.90,219.69 L187.15,220.30 L187.40,220.29 L187.65,220.31 L187.90,219.93 L188.15,220.39 L188.40,220.30 L188.65,218.47 L188.90,218.50 L189.15,219.65 L189.40,219.56 L189.65,218.93 L189.90,219.74 L190.15,218.71 L190.40,219.87 L190.65,218.94 L190.90,220.07 L191.15,219.16 L191.40,217.48 L191.65,217.48 L191.90,215.13 L192.15,215.73 L192.40,218.56 L192.65,217.50 L192.90,217.50 L193.15,217.50 L193.40,218.62 L193.65,212.26 L193.90,218.28 L194.15,219.67 L194.40,219.42 L194.65,212.42 L194.90,219.63 L195.15,219.75 L195.40,220.00 L195.65,218.15 L195.90,219.17 L196.15,214.36 L196.40,220.37 L196.65,216.71 L196.90,217.33 L197.15,219.45 L197.40,219.27 L197.65,219.21 L197.90,220.08 L198.15,218.24 L198.40,217.82 L198.65,217.82 L198.90,217.82 L199.15,219.75 L199.40,220.00 L199.65,218.79 L199.90,220.33 L200.15,218.92 L200.40,218.03 L200.65,218.25 L200.90,218.94 L201.15,218.98 L201.40,213.00 L201.65,216.56 L201.90,215.83 L202.15,219.90 L202.40,219.68 L202.65,219.79 L202.90,217.80 L203.15,219.87 L203.40,215.44 L203.65,220.02 L203.90,219.70 L204.15,220.20 L204.40,218.95 L204.65,218.29 L204.90,220.32 L205.15,218.52 L205.40,216.04 L205.65,212.99 L205.90,212.99 L206.15,212.99 L206.40,219.10 L206.65,218.41 L206.90,219.05 L207.15,219.53 L207.40,218.58 L207.65,219.58 L207.90,218.31 L208.15,220.14 L208.40,218.24 L208.65,219.12 L208.90,219.04 L209.15,219.09 L209.40,218.70 L209.65,220.08 L209.90,220.38 L210.15,219.33 L210.40,218.69 L210.65,219.01 L210.90,220.33 L211.15,217.79 L211.40,217.79 L211.65,217.79 L211.90,219.22 L212.15,217.75 L212.40,220.26 L212.65,217.11 L212.90,220.05 L213.15,217.57 L213.40,219.96 L213.65,218.21 L213.90,215.02 L214.15,218.75 L214.40,219.49 L214.65,219.60 L214.90,219.28 L215.15,218.93 L215.40,220.21 L215.65,219.18 L215.90,217.86 L216.15,218.79 L216.40,216.44 L216.65,219.91 L216.90,219.77 L217.15,216.52 L217.40,218.55 L217.65,218.77 L217.90,219.60 L218.15,210.47 L218.40,218.91 L218.65,218.50 L218.90,220.21 L219.15,220.26 L219.40,218.48 L219.65,219.24 L219.90,220.01 L220.15,219.47 L220.40,218.54 L220.65,219.02 L220.90,220.11 L221.15,218.96 L221.40,218.65 L221.65,219.81 L221.90,219.38 L222.15,219.90 L222.40,219.18 L222.65,213.38 L222.90,213.38 L223.15,213.38 L223.40,220.15 L223.65,220.35 L223.90,219.53 L224.15,219.89 L224.40,220.11 L224.65,219.90 L224.90,220.37 L225.15,218.82 L225.40,212.80 L225.65,212.80 L225.90,215.57 L226.15,215.57 L226.40,215.57 L226.65,214.45 L226.90,214.45 L227.15,214.45 L227.40,217.63 L227.65,215.03 L227.90,216.90 L228.15,220.09 L228.40,216.20 L228.65,219.34 L228.90,219.13 L229.15,218.80 L229.40,218.98 L229.65,217.61 L229.90,218.66 L230.15,213.48 L230.40,213.48 L230.65,213.48 L230.90,219.44 L231.15,218.87 L231.40,219.93 L231.65,220.09 L231.90,219.44 L232.15,218.22 L232.40,218.93 L232.65,218.46 L232.90,218.27 L233.15,219.28 L233.40,219.09 L233.65,220.19 L233.90,218.98 L234.15,219.31 L234.40,219.73 L234.65,220.31 L234.90,219.68 L235.15,219.97 L235.40,220.39 L235.65,219.90 L235.90,218.62 L236.15,220.21 L236.40,219.34 L236.65,220.32 L236.90,218.97 L237.15,219.59 L237.40,219.71 L237.65,219.83 L237.90,220.21 L238.15,220.03 L238.40,217.82 L238.65,219.16 L238.90,219.08 L239.15,214.13 L239.40,218.63 L239.65,219.12 L239.90,220.08 L240.15,218.40 L240.40,220.18 L240.65,219.73 L240.90,216.98 L241.15,219.29 L241.40,218.79 L241.65,217.07 L241.90,218.91 L242.15,218.52 L242.40,215.66 L242.65,217.65 L242.90,217.65 L243.15,219.99 L243.40,215.36 L243.65,218.61 L243.90,220.05 L244.15,219.62 L244.40,218.68 L244.65,219.76 L244.90,218.93 L245.15,220.06 L245.40,219.21 L245.65,220.37 L245.90,220.28 L246.15,216.22 L246.40,214.46 L246.65,219.10 L246.90,220.28 L247.15,220.40 L247.40,218.67 L247.65,219.95 L247.90,218.95 L248.15,218.30 L248.40,220.35 L248.65,218.77 L248.90,220.26 L249.15,219.98 L249.40,217.59 L249.65,217.59 L249.90,217.59 L250.15,219.82 L250.40,218.28 L250.65,220.39 L250.90,216.53 L251.15,219.59 L251.40,214.47 L251.65,219.46 L251.90,215.68 L252.15,215.68 L252.40,215.68 L252.65,218.56 L252.90,219.47 L253.15,218.44 L253.40,219.84 L253.65,220.14 L253.90,219.26 L254.15,220.28 L254.40,219.82 L254.65,219.39 L254.90,220.19 L255.15,218.25 L255.40,218.51 L255.65,220.33 L255.90,219.70 L256.15,217.86 L256.40,220.18 L256.65,218.56 L256.90,218.11 L257.15,220.19 L257.40,219.69 L257.65,220.36 L257.90,218.20 L258.15,220.26 L258.40,219.99 L258.65,219.82 L258.90,218.59 L259.15,220.15 L259.40,220.34 L259.65,218.61 L259.90,220.33 L260.15,219.85 L260.40,219.19 L260.65,219.57 L260.90,220.09 L261.15,217.23 L261.40,218.39 L261.65,220.36 L261.90,219.50 L262.15,219.29 L262.40,217.51 L262.65,215.04 L262.90,219.90 L263.15,218.46 L263.40,215.36 L263.65,214.91 L263.90,219.81 L264.15,219.29 L264.40,219.03 L264.65,218.93 L264.90,219.59 L265.15,218.88 L265.40,217.38 L265.65,219.82 L265.90,220.22 L266.15,216.27 L266.40,220.38 L266.65,220.32 L266.90,220.27 L267.15,218.25 L267.40,219.79 L267.65,218.93 L267.90,219.88 L268.15,215.33 L268.40,215.33 L268.65,215.33 L268.90,219.54 L269.15,219.52 L269.40,218.68 L269.65,213.57 L269.90,220.26 L270.15,219.83 L270.40,219.08 L270.65,219.46 L270.90,219.95 L271.15,218.91 L271.40,219.63 L271.65,219.88 L271.90,219.97 L272.15,219.34 L272.40,219.29 L272.65,218.43 L272.90,218.67 L273.15,219.35 L273.40,219.78 L273.65,220.39 L273.90,218.53 L274.15,219.41 L274.40,214.55 L274.65,219.45 L274.90,219.78 L275.15,213.78 L275.40,218.66 L275.65,218.76 L275.90,219.03 L276.15,218.40 L276.40,220.40 L276.65,218.88 L276.90,219.87 L277.15,217.85 L277.40,217.85 L277.65,217.85 L277.90,218.55 L278.15,219.66 L278.40,218.81 L278.65,218.92 L278.90,218.62 L279.15,220.04 L279.40,220.05 L279.65,219.77 L279.90,219.18 L280.15,213.09 L280.40,219.38 L280.65,218.50 L280.90,218.27 L281.15,218.45 L281.40,220.38 L281.65,219.42 L281.90,217.86 L282.15,219.58 L282.40,218.14 L282.65,219.58 L282.90,219.52 L283.15,216.44 L283.40,216.55 L283.65,212.59 L283.90,212.59 L284.15,212.59 L284.40,217.03 L284.65,218.60 L284.90,220.19 L285.15,218.49 L285.40,218.01 L285.65,219.08 L285.90,220.37 L286.15,218.41 L286.40,216.83 L286.65,220.10 L286.90,219.67 L287.15,218.52 L287.40,220.15 L287.65,219.93 L287.90,218.46 L288,220.9 Z" fill="#fcefc4"/>
<path d="M31.4,220.9 L31.40,214.65 L31.65,214.65 L31.90,214.65 L32.15,214.90 L32.40,214.90 L32.65,220.29 L32.90,220.28 L33.15,220.46 L33.40,219.02 L33.65,219.16 L33.90,217.78 L34.15,217.78 L34.40,217.78 L34.65,219.91 L34.90,220.02 L35.15,220.10 L35.40,220.15 L35.65,220.47 L35.90,219.90 L36.15,220.06 L36.40,219.41 L36.65,218.99 L36.90,219.89 L37.15,219.20 L37.40,219.33 L37.65,220.24 L37.90,219.59 L38.15,219.48 L38.40,219.29 L38.65,220.52 L38.90,219.82 L39.15,220.13 L39.40,220.16 L39.65,219.48 L39.90,219.17 L40.15,220.90 L40.40,218.94 L40.65,216.38 L40.90,217.43 L41.15,218.81 L41.40,215.59 L41.65,214.85 L41.90,216.58 L42.15,216.95 L42.40,214.63 L42.65,208.20 L42.90,208.20 L43.15,208.20 L43.40,214.59 L43.65,218.56 L43.90,215.08 L44.15,218.43 L44.40,219.25 L44.65,212.90 L44.90,212.90 L45.15,212.90 L45.40,212.90 L45.65,218.33 L45.90,213.65 L46.15,212.85 L46.40,219.33 L46.65,214.55 L46.90,217.36 L47.15,218.76 L47.40,216.86 L47.65,216.58 L47.90,216.68 L48.15,215.38 L48.40,219.75 L48.65,218.72 L48.90,219.23 L49.15,218.67 L49.40,220.14 L49.65,218.48 L49.90,219.86 L50.15,218.94 L50.40,219.37 L50.65,218.80 L50.90,218.52 L51.15,220.36 L51.40,220.16 L51.65,219.20 L51.90,219.66 L52.15,218.63 L52.40,219.30 L52.65,219.58 L52.90,219.18 L53.15,220.42 L53.40,219.86 L53.65,218.50 L53.90,217.14 L54.15,217.33 L54.40,219.09 L54.65,219.03 L54.90,220.09 L55.15,217.67 L55.40,217.60 L55.65,217.05 L55.90,220.09 L56.15,217.71 L56.40,218.15 L56.65,218.00 L56.90,217.17 L57.15,218.83 L57.40,219.79 L57.65,219.51 L57.90,217.63 L58.15,217.10 L58.40,217.87 L58.65,218.36 L58.90,218.19 L59.15,218.38 L59.40,217.09 L59.65,219.91 L59.90,219.91 L60.15,219.90 L60.40,217.55 L60.65,219.23 L60.90,217.47 L61.15,209.50 L61.40,209.50 L61.65,209.50 L61.90,209.50 L62.15,219.25 L62.40,219.63 L62.65,219.72 L62.90,217.96 L63.15,214.09 L63.40,214.09 L63.65,214.09 L63.90,218.04 L64.15,217.05 L64.40,216.44 L64.65,216.44 L64.90,216.44 L65.15,219.78 L65.40,219.81 L65.65,220.29 L65.90,219.21 L66.15,212.27 L66.40,212.27 L66.65,212.27 L66.90,219.38 L67.15,220.40 L67.40,219.13 L67.65,219.19 L67.90,219.67 L68.15,219.11 L68.40,217.83 L68.65,217.83 L68.90,217.83 L69.15,219.41 L69.40,219.85 L69.65,220.23 L69.90,219.79 L70.15,220.04 L70.40,219.19 L70.65,220.36 L70.90,220.15 L71.15,220.49 L71.40,219.29 L71.65,219.57 L71.90,220.27 L72.15,220.40 L72.40,219.79 L72.65,220.08 L72.90,219.77 L73.15,219.56 L73.40,219.96 L73.65,220.47 L73.90,217.61 L74.15,218.29 L74.40,216.70 L74.65,216.12 L74.90,217.46 L75.15,219.39 L75.40,216.43 L75.65,216.63 L75.90,218.60 L76.15,215.50 L76.40,215.50 L76.65,215.50 L76.90,215.50 L77.15,219.14 L77.40,219.76 L77.65,216.03 L77.90,217.30 L78.15,215.98 L78.40,216.92 L78.65,217.24 L78.90,218.99 L79.15,217.63 L79.40,220.34 L79.65,218.47 L79.90,220.15 L80.15,218.61 L80.40,219.83 L80.65,218.53 L80.90,220.03 L81.15,218.96 L81.40,219.48 L81.65,219.65 L81.90,220.12 L82.15,219.97 L82.40,219.92 L82.65,219.73 L82.90,219.60 L83.15,215.09 L83.40,215.09 L83.65,215.09 L83.90,213.99 L84.15,213.99 L84.40,213.99 L84.65,216.90 L84.90,216.90 L85.15,220.06 L85.40,218.34 L85.65,219.95 L85.90,220.32 L86.15,219.39 L86.40,220.26 L86.65,220.15 L86.90,219.52 L87.15,219.37 L87.40,218.85 L87.65,219.89 L87.90,218.80 L88.15,218.80 L88.40,219.45 L88.65,220.39 L88.90,218.63 L89.15,220.28 L89.40,218.77 L89.65,218.92 L89.90,218.56 L90.15,218.55 L90.40,218.77 L90.65,220.25 L90.90,220.07 L91.15,220.31 L91.40,218.92 L91.65,219.99 L91.90,219.21 L92.15,220.02 L92.40,218.52 L92.65,218.97 L92.90,219.82 L93.15,218.64 L93.40,218.28 L93.65,220.32 L93.90,219.91 L94.15,220.40 L94.40,220.24 L94.65,220.24 L94.90,220.21 L95.15,220.30 L95.40,219.69 L95.65,220.36 L95.90,220.22 L96.15,219.18 L96.40,219.84 L96.65,219.65 L96.90,220.11 L97.15,219.37 L97.40,219.00 L97.65,218.65 L97.90,220.08 L98.15,218.88 L98.40,220.11 L98.65,218.88 L98.90,218.72 L99.15,212.04 L99.40,212.04 L99.65,217.87 L99.90,217.87 L100.15,217.87 L100.40,220.29 L100.65,219.66 L100.90,220.35 L101.15,218.90 L101.40,220.16 L101.65,219.09 L101.90,218.93 L102.15,219.49 L102.40,218.47 L102.65,219.39 L102.90,218.61 L103.15,218.20 L103.40,219.26 L103.65,219.68 L103.90,220.07 L104.15,219.27 L104.40,219.60 L104.65,219.99 L104.90,219.01 L105.15,218.46 L105.40,219.95 L105.65,218.84 L105.90,220.16 L106.15,219.04 L106.40,219.46 L106.65,219.27 L106.90,219.23 L107.15,219.83 L107.40,220.33 L107.65,219.76 L107.90,220.01 L108.15,218.60 L108.40,220.10 L108.65,219.92 L108.90,220.12 L109.15,214.91 L109.40,214.91 L109.65,216.98 L109.90,216.98 L110.15,216.98 L110.40,218.55 L110.65,219.36 L110.90,219.37 L111.15,218.55 L111.40,218.49 L111.65,218.51 L111.90,218.65 L112.15,218.50 L112.40,218.75 L112.65,214.48 L112.90,214.48 L113.15,214.48 L113.40,220.28 L113.65,220.34 L113.90,211.98 L114.15,211.98 L114.40,211.98 L114.65,220.25 L114.90,219.32 L115.15,220.39 L115.40,219.13 L115.65,219.67 L115.90,217.81 L116.15,217.81 L116.40,217.81 L116.65,218.98 L116.90,220.18 L117.15,220.06 L117.40,219.96 L117.65,219.11 L117.90,218.36 L118.15,220.13 L118.40,220.29 L118.65,220.35 L118.90,219.62 L119.15,219.75 L119.40,219.78 L119.65,219.53 L119.90,219.91 L120.15,220.28 L120.40,219.71 L120.65,220.30 L120.90,217.56 L121.15,217.56 L121.40,217.56 L121.65,219.78 L121.90,220.15 L122.15,218.22 L122.40,219.76 L122.65,220.22 L122.90,218.49 L123.15,220.17 L123.40,220.09 L123.65,219.52 L123.90,219.54 L124.15,218.29 L124.40,219.93 L124.65,219.93 L124.90,220.29 L125.15,220.17 L125.40,219.65 L125.65,219.95 L125.90,218.28 L126.15,220.33 L126.40,218.52 L126.65,220.40 L126.90,219.74 L127.15,220.30 L127.40,218.73 L127.65,218.35 L127.90,220.07 L128.15,220.35 L128.40,218.23 L128.65,218.27 L128.90,219.46 L129.15,219.53 L129.40,218.58 L129.65,218.61 L129.90,220.13 L130.15,218.70 L130.40,219.66 L130.65,219.02 L130.90,219.32 L131.15,220.39 L131.40,217.90 L131.65,217.90 L131.90,217.90 L132.15,219.79 L132.40,219.17 L132.65,218.22 L132.90,219.08 L133.15,219.30 L133.40,218.87 L133.65,218.56 L133.90,219.90 L134.15,220.00 L134.40,219.63 L134.65,219.37 L134.90,219.91 L135.15,218.76 L135.40,220.00 L135.65,220.10 L135.90,219.60 L136.15,219.44 L136.40,220.14 L136.65,212.66 L136.90,212.66 L137.15,212.66 L137.40,220.29 L137.65,219.52 L137.90,219.48 L138.15,218.29 L138.40,219.13 L138.65,218.91 L138.90,219.48 L139.15,218.85 L139.40,218.81 L139.65,220.20 L139.90,218.51 L140.15,218.97 L140.40,220.37 L140.65,219.09 L140.90,218.26 L141.15,219.35 L141.40,219.98 L141.65,220.05 L141.90,219.70 L142.15,218.35 L142.40,219.87 L142.65,218.82 L142.90,218.96 L143.15,218.55 L143.40,219.14 L143.65,220.14 L143.90,219.50 L144.15,220.11 L144.40,219.82 L144.65,220.01 L144.90,218.62 L145.15,219.73 L145.40,219.99 L145.65,220.24 L145.90,218.23 L146.15,218.72 L146.40,218.80 L146.65,219.25 L146.90,219.63 L147.15,220.16 L147.40,219.06 L147.65,219.95 L147.90,219.67 L148.15,219.32 L148.40,218.51 L148.65,218.66 L148.90,220.24 L149.15,219.75 L149.40,216.01 L149.65,216.01 L149.90,216.01 L150.15,220.32 L150.40,219.45 L150.65,219.03 L150.90,219.72 L151.15,218.63 L151.40,218.30 L151.65,219.07 L151.90,220.23 L152.15,218.60 L152.40,218.63 L152.65,219.30 L152.90,220.27 L153.15,219.27 L153.40,216.90 L153.65,216.90 L153.90,216.90 L154.15,218.82 L154.40,219.65 L154.65,218.90 L154.90,220.11 L155.15,220.06 L155.40,219.40 L155.65,220.24 L155.90,217.37 L156.15,217.37 L156.40,217.37 L156.65,218.93 L156.90,218.50 L157.15,219.75 L157.40,218.32 L157.65,218.59 L157.90,219.93 L158.15,219.85 L158.40,219.89 L158.65,218.97 L158.90,219.77 L159.15,219.55 L159.40,218.25 L159.65,219.41 L159.90,220.36 L160.15,218.66 L160.40,220.07 L160.65,219.27 L160.90,219.03 L161.15,220.37 L161.40,220.11 L161.65,218.60 L161.90,219.50 L162.15,218.25 L162.40,220.11 L162.65,218.87 L162.90,218.86 L163.15,215.89 L163.40,215.89 L163.65,215.89 L163.90,219.72 L164.15,218.42 L164.40,219.74 L164.65,219.49 L164.90,220.09 L165.15,219.26 L165.40,218.51 L165.65,219.93 L165.90,220.13 L166.15,219.06 L166.40,220.03 L166.65,219.68 L166.90,220.35 L167.15,219.29 L167.40,219.88 L167.65,219.53 L167.90,218.40 L168.15,220.22 L168.40,218.38 L168.65,219.74 L168.90,219.83 L169.15,220.16 L169.40,219.46 L169.65,220.36 L169.90,219.75 L170.15,219.83 L170.40,219.25 L170.65,220.32 L170.90,219.90 L171.15,219.62 L171.40,218.45 L171.65,219.85 L171.90,219.60 L172.15,218.97 L172.40,213.69 L172.65,213.69 L172.90,213.69 L173.15,219.64 L173.40,220.20 L173.65,219.44 L173.90,220.34 L174.15,217.53 L174.40,217.53 L174.65,217.53 L174.90,220.37 L175.15,219.36 L175.40,219.49 L175.65,219.03 L175.90,218.85 L176.15,219.48 L176.40,219.21 L176.65,216.59 L176.90,216.59 L177.15,216.59 L177.40,219.86 L177.65,218.97 L177.90,219.54 L178.15,219.42 L178.40,218.79 L178.65,218.22 L178.90,220.02 L179.15,220.30 L179.40,220.06 L179.65,218.51 L179.90,219.93 L180.15,218.36 L180.40,215.87 L180.65,215.87 L180.90,215.87 L181.15,219.12 L181.40,218.99 L181.65,218.68 L181.90,220.30 L182.15,219.02 L182.40,219.82 L182.65,219.12 L182.90,218.87 L183.15,220.10 L183.40,218.63 L183.65,219.73 L183.90,219.80 L184.15,218.54 L184.40,219.26 L184.65,217.57 L184.90,217.57 L185.15,217.57 L185.40,219.59 L185.65,219.83 L185.90,219.75 L186.15,218.24 L186.40,219.75 L186.65,218.88 L186.90,219.69 L187.15,220.32 L187.40,220.29 L187.65,220.31 L187.90,219.93 L188.15,220.39 L188.40,220.30 L188.65,218.68 L188.90,218.53 L189.15,219.65 L189.40,219.83 L189.65,218.93 L189.90,219.74 L190.15,220.21 L190.40,219.87 L190.65,218.94 L190.90,220.07 L191.15,219.16 L191.40,217.48 L191.65,217.48 L191.90,217.48 L192.15,219.21 L192.40,218.56 L192.65,217.50 L192.90,217.50 L193.15,217.50 L193.40,220.17 L193.65,218.51 L193.90,218.28 L194.15,219.67 L194.40,219.42 L194.65,218.44 L194.90,219.63 L195.15,219.75 L195.40,220.00 L195.65,218.97 L195.90,219.18 L196.15,219.12 L196.40,220.38 L196.65,218.32 L196.90,219.23 L197.15,219.45 L197.40,219.27 L197.65,219.21 L197.90,220.08 L198.15,218.51 L198.40,217.82 L198.65,217.82 L198.90,217.82 L199.15,219.75 L199.40,220.00 L199.65,218.79 L199.90,220.33 L200.15,219.03 L200.40,218.67 L200.65,218.25 L200.90,218.98 L201.15,218.98 L201.40,216.56 L201.65,216.56 L201.90,216.56 L202.15,219.90 L202.40,219.68 L202.65,219.79 L202.90,218.26 L203.15,219.88 L203.40,218.23 L203.65,220.32 L203.90,219.70 L204.15,220.20 L204.40,218.95 L204.65,218.29 L204.90,220.32 L205.15,219.98 L205.40,219.68 L205.65,212.99 L205.90,212.99 L206.15,212.99 L206.40,220.08 L206.65,218.41 L206.90,219.05 L207.15,220.27 L207.40,219.01 L207.65,219.58 L207.90,218.31 L208.15,220.14 L208.40,218.24 L208.65,219.12 L208.90,219.04 L209.15,219.09 L209.40,219.19 L209.65,220.08 L209.90,220.38 L210.15,219.33 L210.40,218.69 L210.65,219.01 L210.90,220.33 L211.15,217.79 L211.40,217.79 L211.65,217.79 L211.90,219.22 L212.15,218.88 L212.40,220.26 L212.65,219.59 L212.90,220.05 L213.15,218.89 L213.40,219.96 L213.65,218.21 L213.90,219.35 L214.15,218.75 L214.40,219.49 L214.65,219.60 L214.90,219.28 L215.15,218.93 L215.40,220.21 L215.65,219.18 L215.90,218.50 L216.15,220.07 L216.40,218.76 L216.65,219.91 L216.90,219.77 L217.15,219.62 L217.40,218.55 L217.65,220.21 L217.90,219.60 L218.15,218.28 L218.40,218.91 L218.65,218.59 L218.90,220.21 L219.15,220.26 L219.40,218.48 L219.65,219.24 L219.90,220.01 L220.15,219.98 L220.40,218.54 L220.65,219.02 L220.90,220.40 L221.15,218.96 L221.40,218.65 L221.65,220.15 L221.90,219.89 L222.15,219.90 L222.40,220.38 L222.65,213.38 L222.90,213.38 L223.15,213.38 L223.40,220.22 L223.65,220.35 L223.90,219.53 L224.15,220.26 L224.40,220.11 L224.65,219.90 L224.90,220.37 L225.15,218.82 L225.40,212.80 L225.65,212.80 L225.90,215.57 L226.15,215.57 L226.40,215.57 L226.65,214.45 L226.90,214.45 L227.15,214.45 L227.40,218.92 L227.65,218.84 L227.90,218.31 L228.15,220.09 L228.40,218.61 L228.65,220.04 L228.90,219.75 L229.15,220.37 L229.40,220.37 L229.65,219.43 L229.90,220.04 L230.15,213.48 L230.40,213.48 L230.65,213.48 L230.90,219.89 L231.15,218.87 L231.40,220.32 L231.65,220.09 L231.90,219.44 L232.15,218.22 L232.40,219.29 L232.65,218.46 L232.90,218.27 L233.15,219.28 L233.40,219.27 L233.65,220.19 L233.90,218.98 L234.15,220.24 L234.40,220.19 L234.65,220.34 L234.90,219.68 L235.15,219.98 L235.40,220.39 L235.65,219.90 L235.90,218.62 L236.15,220.24 L236.40,219.34 L236.65,220.32 L236.90,218.97 L237.15,219.59 L237.40,219.71 L237.65,219.83 L237.90,220.21 L238.15,220.03 L238.40,218.40 L238.65,219.16 L238.90,219.95 L239.15,218.77 L239.40,218.63 L239.65,219.12 L239.90,220.08 L240.15,218.40 L240.40,220.20 L240.65,219.73 L240.90,219.89 L241.15,219.29 L241.40,218.81 L241.65,219.24 L241.90,219.79 L242.15,218.52 L242.40,217.65 L242.65,217.65 L242.90,217.65 L243.15,219.99 L243.40,219.29 L243.65,219.65 L243.90,220.05 L244.15,219.72 L244.40,218.68 L244.65,219.76 L244.90,218.93 L245.15,220.06 L245.40,219.21 L245.65,220.37 L245.90,220.28 L246.15,219.49 L246.40,219.03 L246.65,219.10 L246.90,220.29 L247.15,220.40 L247.40,218.67 L247.65,219.95 L247.90,219.98 L248.15,219.28 L248.40,220.38 L248.65,218.77 L248.90,220.32 L249.15,220.38 L249.40,217.59 L249.65,217.59 L249.90,217.59 L250.15,219.82 L250.40,218.28 L250.65,220.39 L250.90,219.46 L251.15,219.91 L251.40,219.21 L251.65,219.46 L251.90,215.68 L252.15,215.68 L252.40,215.68 L252.65,218.56 L252.90,220.24 L253.15,218.44 L253.40,219.91 L253.65,220.14 L253.90,219.26 L254.15,220.36 L254.40,219.82 L254.65,219.96 L254.90,220.19 L255.15,218.25 L255.40,218.51 L255.65,220.34 L255.90,219.70 L256.15,219.76 L256.40,220.18 L256.65,218.71 L256.90,220.02 L257.15,220.19 L257.40,220.04 L257.65,220.36 L257.90,218.20 L258.15,220.26 L258.40,219.99 L258.65,219.82 L258.90,220.32 L259.15,220.15 L259.40,220.34 L259.65,219.66 L259.90,220.33 L260.15,220.21 L260.40,219.94 L260.65,219.57 L260.90,220.09 L261.15,219.82 L261.40,218.85 L261.65,220.37 L261.90,219.50 L262.15,219.29 L262.40,219.10 L262.65,219.00 L262.90,219.90 L263.15,218.46 L263.40,219.37 L263.65,219.14 L263.90,219.81 L264.15,219.29 L264.40,219.03 L264.65,218.93 L264.90,219.59 L265.15,219.05 L265.40,219.84 L265.65,219.82 L265.90,220.22 L266.15,219.72 L266.40,220.38 L266.65,220.32 L266.90,220.27 L267.15,218.25 L267.40,219.79 L267.65,219.65 L267.90,219.88 L268.15,215.33 L268.40,215.33 L268.65,215.33 L268.90,219.54 L269.15,219.52 L269.40,218.68 L269.65,218.50 L269.90,220.30 L270.15,219.83 L270.40,219.08 L270.65,219.46 L270.90,220.09 L271.15,218.91 L271.40,219.63 L271.65,219.88 L271.90,219.97 L272.15,219.90 L272.40,219.81 L272.65,218.43 L272.90,218.67 L273.15,219.91 L273.40,220.36 L273.65,220.39 L273.90,218.55 L274.15,219.41 L274.40,218.90 L274.65,219.45 L274.90,220.30 L275.15,218.79 L275.40,218.72 L275.65,219.41 L275.90,219.03 L276.15,218.40 L276.40,220.40 L276.65,218.88 L276.90,219.87 L277.15,217.85 L277.40,217.85 L277.65,217.85 L277.90,218.55 L278.15,219.66 L278.40,218.81 L278.65,218.92 L278.90,218.62 L279.15,220.04 L279.40,220.05 L279.65,219.77 L279.90,219.18 L280.15,218.74 L280.40,220.38 L280.65,218.50 L280.90,218.27 L281.15,218.45 L281.40,220.38 L281.65,219.70 L281.90,218.47 L282.15,219.58 L282.40,218.51 L282.65,219.58 L282.90,220.25 L283.15,216.55 L283.40,216.55 L283.65,212.59 L283.90,212.59 L284.15,212.59 L284.40,218.65 L284.65,218.99 L284.90,220.37 L285.15,218.49 L285.40,219.05 L285.65,219.08 L285.90,220.37 L286.15,218.41 L286.40,219.88 L286.65,220.12 L286.90,219.67 L287.15,218.52 L287.40,220.15 L287.65,219.93 L287.90,219.01 L288,220.9 Z" fill="#f6d670"/>
<path d="M31.4,220.9 L31.40,217.46 L31.65,217.46 L31.90,217.46 L32.15,217.60 L32.40,217.60 L32.65,220.56 L32.90,220.56 L33.15,220.66 L33.40,219.87 L33.65,219.94 L33.90,219.19 L34.15,219.19 L34.40,219.19 L34.65,220.35 L34.90,220.42 L35.15,220.46 L35.40,220.49 L35.65,220.66 L35.90,220.35 L36.15,220.44 L36.40,220.08 L36.65,219.85 L36.90,220.34 L37.15,219.97 L37.40,220.04 L37.65,220.54 L37.90,220.18 L38.15,220.12 L38.40,220.01 L38.65,220.69 L38.90,220.31 L39.15,220.48 L39.40,220.49 L39.65,220.12 L39.90,219.95 L40.15,220.90 L40.40,219.82 L40.65,218.42 L40.90,218.99 L41.15,219.75 L41.40,217.98 L41.65,217.57 L41.90,218.52 L42.15,218.73 L42.40,217.45 L42.65,213.91 L42.90,213.91 L43.15,213.91 L43.40,217.43 L43.65,219.61 L43.90,217.70 L44.15,219.54 L44.40,219.99 L44.65,216.50 L44.90,216.50 L45.15,216.50 L45.40,216.50 L45.65,219.49 L45.90,216.91 L46.15,216.47 L46.40,220.04 L46.65,217.41 L46.90,218.95 L47.15,219.72 L47.40,218.68 L47.65,218.52 L47.90,218.58 L48.15,217.87 L48.40,220.27 L48.65,219.70 L48.90,219.98 L49.15,219.67 L49.40,220.48 L49.65,219.57 L49.90,220.33 L50.15,219.82 L50.40,220.06 L50.65,219.75 L50.90,219.59 L51.15,220.60 L51.40,220.49 L51.65,219.96 L51.90,220.22 L52.15,219.65 L52.40,220.02 L52.65,220.17 L52.90,219.95 L53.15,220.63 L53.40,220.33 L53.65,219.58 L53.90,218.83 L54.15,218.93 L54.40,219.90 L54.65,219.87 L54.90,220.46 L55.15,219.12 L55.40,219.08 L55.65,218.78 L55.90,220.45 L56.15,219.14 L56.40,219.39 L56.65,219.30 L56.90,218.85 L57.15,219.76 L57.40,220.29 L57.65,220.14 L57.90,219.10 L58.15,218.81 L58.40,219.23 L58.65,219.50 L58.90,219.41 L59.15,219.51 L59.40,218.81 L59.65,220.36 L59.90,220.36 L60.15,220.35 L60.40,219.06 L60.65,219.98 L60.90,219.01 L61.15,214.63 L61.40,214.63 L61.65,214.63 L61.90,214.63 L62.15,219.99 L62.40,220.20 L62.65,220.25 L62.90,219.28 L63.15,217.16 L63.40,217.16 L63.65,217.16 L63.90,219.33 L64.15,218.78 L64.40,218.45 L64.65,218.45 L64.90,218.45 L65.15,220.28 L65.40,220.30 L65.65,220.57 L65.90,219.97 L66.15,216.15 L66.40,216.15 L66.65,216.15 L66.90,220.07 L67.15,220.63 L67.40,219.93 L67.65,219.96 L67.90,220.22 L68.15,219.92 L68.40,219.21 L68.65,219.21 L68.90,219.21 L69.15,220.08 L69.40,220.32 L69.65,220.53 L69.90,220.29 L70.15,220.43 L70.40,219.96 L70.65,220.60 L70.90,220.49 L71.15,220.67 L71.40,220.02 L71.65,220.17 L71.90,220.55 L72.15,220.62 L72.40,220.29 L72.65,220.45 L72.90,220.28 L73.15,220.16 L73.40,220.38 L73.65,220.66 L73.90,219.09 L74.15,219.46 L74.40,218.59 L74.65,218.27 L74.90,219.01 L75.15,220.07 L75.40,218.44 L75.65,218.55 L75.90,219.64 L76.15,217.93 L76.40,217.93 L76.65,217.93 L76.90,217.93 L77.15,219.93 L77.40,220.27 L77.65,218.22 L77.90,218.92 L78.15,218.19 L78.40,218.71 L78.65,218.89 L78.90,219.85 L79.15,219.10 L79.40,220.59 L79.65,219.56 L79.90,220.49 L80.15,219.64 L80.40,220.31 L80.65,219.60 L80.90,220.42 L81.15,219.83 L81.40,220.12 L81.65,220.21 L81.90,220.47 L82.15,220.39 L82.40,220.36 L82.65,220.26 L82.90,220.19 L83.15,217.70 L83.40,217.70 L83.65,217.70 L83.90,217.10 L84.15,217.10 L84.40,217.10 L84.65,218.70 L84.90,218.70 L85.15,220.44 L85.40,219.49 L85.65,220.38 L85.90,220.58 L86.15,220.07 L86.40,220.55 L86.65,220.49 L86.90,220.14 L87.15,220.06 L87.40,219.77 L87.65,220.34 L87.90,219.74 L88.15,219.75 L88.40,220.10 L88.65,220.62 L88.90,219.65 L89.15,220.56 L89.40,219.73 L89.65,219.81 L89.90,219.61 L90.15,219.61 L90.40,219.73 L90.65,220.54 L90.90,220.45 L91.15,220.57 L91.40,219.81 L91.65,220.40 L91.90,219.97 L92.15,220.41 L92.40,219.59 L92.65,219.84 L92.90,220.31 L93.15,219.65 L93.40,219.46 L93.65,220.58 L93.90,220.36 L94.15,220.62 L94.40,220.53 L94.65,220.53 L94.90,220.52 L95.15,220.57 L95.40,220.23 L95.65,220.60 L95.90,220.53 L96.15,219.96 L96.40,220.32 L96.65,220.21 L96.90,220.47 L97.15,220.06 L97.40,219.86 L97.65,219.66 L97.90,220.45 L98.15,219.79 L98.40,220.46 L98.65,219.79 L98.90,219.70 L99.15,216.03 L99.40,216.03 L99.65,219.23 L99.90,219.23 L100.15,219.23 L100.40,220.56 L100.65,220.22 L100.90,220.60 L101.15,219.80 L101.40,220.49 L101.65,219.90 L101.90,219.82 L102.15,220.13 L102.40,219.56 L102.65,220.07 L102.90,219.64 L103.15,219.42 L103.40,220.00 L103.65,220.23 L103.90,220.44 L104.15,220.00 L104.40,220.18 L104.65,220.40 L104.90,219.86 L105.15,219.56 L105.40,220.38 L105.65,219.77 L105.90,220.49 L106.15,219.88 L106.40,220.11 L106.65,220.00 L106.90,219.98 L107.15,220.31 L107.40,220.59 L107.65,220.27 L107.90,220.41 L108.15,219.64 L108.40,220.46 L108.65,220.36 L108.90,220.47 L109.15,217.61 L109.40,217.61 L109.65,218.74 L109.90,218.74 L110.15,218.74 L110.40,219.61 L110.65,220.05 L110.90,220.06 L111.15,219.61 L111.40,219.57 L111.65,219.59 L111.90,219.66 L112.15,219.58 L112.40,219.72 L112.65,217.37 L112.90,217.37 L113.15,217.37 L113.40,220.56 L113.65,220.59 L113.90,215.99 L114.15,215.99 L114.40,215.99 L114.65,220.54 L114.90,220.03 L115.15,220.62 L115.40,219.93 L115.65,220.22 L115.90,219.20 L116.15,219.20 L116.40,219.20 L116.65,219.84 L116.90,220.50 L117.15,220.44 L117.40,220.38 L117.65,219.92 L117.90,219.50 L118.15,220.47 L118.40,220.56 L118.65,220.60 L118.90,220.20 L119.15,220.26 L119.40,220.29 L119.65,220.15 L119.90,220.35 L120.15,220.56 L120.40,220.24 L120.65,220.57 L120.90,219.06 L121.15,219.06 L121.40,219.06 L121.65,220.28 L121.90,220.49 L122.15,219.43 L122.40,220.27 L122.65,220.53 L122.90,219.58 L123.15,220.50 L123.40,220.45 L123.65,220.14 L123.90,220.15 L124.15,219.47 L124.40,220.36 L124.65,220.37 L124.90,220.56 L125.15,220.50 L125.40,220.21 L125.65,220.38 L125.90,219.46 L126.15,220.59 L126.40,219.59 L126.65,220.62 L126.90,220.26 L127.15,220.57 L127.40,219.71 L127.65,219.50 L127.90,220.44 L128.15,220.60 L128.40,219.43 L128.65,219.46 L128.90,220.11 L129.15,220.15 L129.40,219.62 L129.65,219.64 L129.90,220.47 L130.15,219.69 L130.40,220.22 L130.65,219.87 L130.90,220.03 L131.15,220.62 L131.40,219.25 L131.65,219.25 L131.90,219.25 L132.15,220.29 L132.40,219.95 L132.65,219.43 L132.90,219.90 L133.15,220.02 L133.40,219.79 L133.65,219.61 L133.90,220.35 L134.15,220.41 L134.40,220.20 L134.65,220.06 L134.90,220.35 L135.15,219.72 L135.40,220.41 L135.65,220.46 L135.90,220.18 L136.15,220.10 L136.40,220.48 L136.65,216.37 L136.90,216.37 L137.15,216.37 L137.40,220.56 L137.65,220.14 L137.90,220.12 L138.15,219.46 L138.40,219.93 L138.65,219.80 L138.90,220.12 L139.15,219.77 L139.40,219.75 L139.65,220.51 L139.90,219.58 L140.15,219.84 L140.40,220.61 L140.65,219.91 L140.90,219.45 L141.15,220.05 L141.40,220.40 L141.65,220.43 L141.90,220.24 L142.15,219.50 L142.40,220.33 L142.65,219.76 L142.90,219.83 L143.15,219.60 L143.40,219.93 L143.65,220.48 L143.90,220.13 L144.15,220.47 L144.40,220.30 L144.65,220.41 L144.90,219.65 L145.15,220.26 L145.40,220.40 L145.65,220.54 L145.90,219.43 L146.15,219.70 L146.40,219.74 L146.65,219.99 L146.90,220.20 L147.15,220.49 L147.40,219.89 L147.65,220.38 L147.90,220.22 L148.15,220.03 L148.40,219.59 L148.65,219.67 L148.90,220.53 L149.15,220.27 L149.40,218.21 L149.65,218.21 L149.90,218.21 L150.15,220.58 L150.40,220.10 L150.65,219.87 L150.90,220.25 L151.15,219.65 L151.40,219.47 L151.65,219.89 L151.90,220.53 L152.15,219.63 L152.40,219.65 L152.65,220.02 L152.90,220.55 L153.15,220.00 L153.40,218.70 L153.65,218.70 L153.90,218.70 L154.15,219.76 L154.40,220.21 L154.65,219.80 L154.90,220.46 L155.15,220.44 L155.40,220.08 L155.65,220.54 L155.90,218.96 L156.15,218.96 L156.40,218.96 L156.65,219.82 L156.90,219.58 L157.15,220.27 L157.40,219.48 L157.65,219.63 L157.90,220.37 L158.15,220.32 L158.40,220.34 L158.65,219.84 L158.90,220.28 L159.15,220.16 L159.40,219.44 L159.65,220.08 L159.90,220.60 L160.15,219.67 L160.40,220.44 L160.65,220.00 L160.90,219.87 L161.15,220.61 L161.40,220.46 L161.65,219.63 L161.90,220.13 L162.15,219.44 L162.40,220.46 L162.65,219.78 L162.90,219.78 L163.15,218.14 L163.40,218.14 L163.65,218.14 L163.90,220.25 L164.15,219.54 L164.40,220.26 L164.65,220.12 L164.90,220.46 L165.15,220.00 L165.40,219.58 L165.65,220.36 L165.90,220.48 L166.15,219.89 L166.40,220.42 L166.65,220.23 L166.90,220.60 L167.15,220.01 L167.40,220.34 L167.65,220.15 L167.90,219.53 L168.15,220.53 L168.40,219.51 L168.65,220.26 L168.90,220.31 L169.15,220.49 L169.40,220.11 L169.65,220.60 L169.90,220.27 L170.15,220.31 L170.40,219.99 L170.65,220.58 L170.90,220.35 L171.15,220.20 L171.40,219.55 L171.65,220.32 L171.90,220.19 L172.15,219.84 L172.40,216.93 L172.65,216.93 L172.90,216.93 L173.15,220.21 L173.40,220.51 L173.65,220.10 L173.90,220.59 L174.15,219.05 L174.40,219.05 L174.65,219.05 L174.90,220.61 L175.15,220.05 L175.40,220.12 L175.65,219.87 L175.90,219.77 L176.15,220.12 L176.40,219.97 L176.65,218.53 L176.90,218.53 L177.15,218.53 L177.40,220.33 L177.65,219.84 L177.90,220.15 L178.15,220.09 L178.40,219.74 L178.65,219.43 L178.90,220.41 L179.15,220.57 L179.40,220.44 L179.65,219.58 L179.90,220.37 L180.15,219.50 L180.40,218.13 L180.65,218.13 L180.90,218.13 L181.15,219.92 L181.40,219.85 L181.65,219.68 L181.90,220.57 L182.15,219.87 L182.40,220.31 L182.65,219.92 L182.90,219.78 L183.15,220.46 L183.40,219.65 L183.65,220.26 L183.90,220.30 L184.15,219.60 L184.40,220.00 L184.65,219.07 L184.90,219.07 L185.15,219.07 L185.40,220.18 L185.65,220.31 L185.90,220.27 L186.15,219.44 L186.40,220.27 L186.65,219.79 L186.90,220.23 L187.15,220.58 L187.40,220.56 L187.65,220.58 L187.90,220.37 L188.15,220.62 L188.40,220.57 L188.65,219.68 L188.90,219.59 L189.15,220.21 L189.40,220.31 L189.65,219.82 L189.90,220.26 L190.15,220.52 L190.40,220.34 L190.65,219.82 L190.90,220.45 L191.15,219.94 L191.40,219.02 L191.65,219.02 L191.90,219.02 L192.15,219.97 L192.40,219.61 L192.65,219.03 L192.90,219.03 L193.15,219.03 L193.40,220.50 L193.65,219.58 L193.90,219.46 L194.15,220.22 L194.40,220.08 L194.65,219.55 L194.90,220.20 L195.15,220.27 L195.40,220.40 L195.65,219.84 L195.90,219.95 L196.15,219.92 L196.40,220.61 L196.65,219.48 L196.90,219.98 L197.15,220.10 L197.40,220.00 L197.65,219.97 L197.90,220.45 L198.15,219.59 L198.40,219.21 L198.65,219.21 L198.90,219.21 L199.15,220.27 L199.40,220.41 L199.65,219.74 L199.90,220.59 L200.15,219.87 L200.40,219.67 L200.65,219.44 L200.90,219.84 L201.15,219.84 L201.40,218.51 L201.65,218.51 L201.90,218.51 L202.15,220.35 L202.40,220.23 L202.65,220.29 L202.90,219.45 L203.15,220.34 L203.40,219.43 L203.65,220.58 L203.90,220.24 L204.15,220.52 L204.40,219.83 L204.65,219.47 L204.90,220.58 L205.15,220.39 L205.40,220.23 L205.65,216.55 L205.90,216.55 L206.15,216.55 L206.40,220.45 L206.65,219.53 L206.90,219.88 L207.15,220.55 L207.40,219.86 L207.65,220.18 L207.90,219.47 L208.15,220.48 L208.40,219.44 L208.65,219.92 L208.90,219.87 L209.15,219.91 L209.40,219.96 L209.65,220.45 L209.90,220.61 L210.15,220.03 L210.40,219.69 L210.65,219.86 L210.90,220.58 L211.15,219.19 L211.40,219.19 L211.65,219.19 L211.90,219.98 L212.15,219.79 L212.40,220.55 L212.65,220.18 L212.90,220.43 L213.15,219.79 L213.40,220.38 L213.65,219.42 L213.90,220.05 L214.15,219.72 L214.40,220.12 L214.65,220.19 L214.90,220.01 L215.15,219.82 L215.40,220.52 L215.65,219.96 L215.90,219.58 L216.15,220.44 L216.40,219.72 L216.65,220.35 L216.90,220.28 L217.15,220.20 L217.40,219.61 L217.65,220.52 L217.90,220.18 L218.15,219.46 L218.40,219.80 L218.65,219.63 L218.90,220.52 L219.15,220.55 L219.40,219.57 L219.65,219.99 L219.90,220.41 L220.15,220.40 L220.40,219.60 L220.65,219.87 L220.90,220.62 L221.15,219.84 L221.40,219.66 L221.65,220.49 L221.90,220.34 L222.15,220.35 L222.40,220.62 L222.65,216.77 L222.90,216.77 L223.15,216.77 L223.40,220.52 L223.65,220.60 L223.90,220.15 L224.15,220.55 L224.40,220.47 L224.65,220.35 L224.90,220.61 L225.15,219.76 L225.40,216.44 L225.65,216.44 L225.90,217.97 L226.15,217.97 L226.40,217.97 L226.65,217.35 L226.90,217.35 L227.15,217.35 L227.40,219.81 L227.65,219.77 L227.90,219.48 L228.15,220.46 L228.40,219.64 L228.65,220.43 L228.90,220.27 L229.15,220.61 L229.40,220.61 L229.65,220.09 L229.90,220.42 L230.15,216.82 L230.40,216.82 L230.65,216.82 L230.90,220.34 L231.15,219.78 L231.40,220.58 L231.65,220.45 L231.90,220.10 L232.15,219.43 L232.40,220.02 L232.65,219.56 L232.90,219.46 L233.15,220.01 L233.40,220.01 L233.65,220.51 L233.90,219.85 L234.15,220.54 L234.40,220.51 L234.65,220.59 L234.90,220.23 L235.15,220.39 L235.40,220.62 L235.65,220.35 L235.90,219.65 L236.15,220.53 L236.40,220.04 L236.65,220.58 L236.90,219.84 L237.15,220.18 L237.40,220.25 L237.65,220.31 L237.90,220.52 L238.15,220.42 L238.40,219.53 L238.65,219.94 L238.90,220.38 L239.15,219.73 L239.40,219.65 L239.65,219.92 L239.90,220.45 L240.15,219.52 L240.40,220.51 L240.65,220.26 L240.90,220.34 L241.15,220.02 L241.40,219.75 L241.65,219.99 L241.90,220.29 L242.15,219.59 L242.40,219.11 L242.65,219.11 L242.90,219.11 L243.15,220.40 L243.40,220.01 L243.65,220.21 L243.90,220.43 L244.15,220.25 L244.40,219.68 L244.65,220.27 L244.90,219.82 L245.15,220.44 L245.40,219.97 L245.65,220.61 L245.90,220.56 L246.15,220.12 L246.40,219.87 L246.65,219.91 L246.90,220.57 L247.15,220.62 L247.40,219.68 L247.65,220.38 L247.90,220.39 L248.15,220.01 L248.40,220.61 L248.65,219.73 L248.90,220.58 L249.15,220.62 L249.40,219.08 L249.65,219.08 L249.90,219.08 L250.15,220.31 L250.40,219.46 L250.65,220.62 L250.90,220.11 L251.15,220.36 L251.40,219.97 L251.65,220.11 L251.90,218.03 L252.15,218.03 L252.40,218.03 L252.65,219.61 L252.90,220.54 L253.15,219.55 L253.40,220.35 L253.65,220.48 L253.90,220.00 L254.15,220.60 L254.40,220.31 L254.65,220.38 L254.90,220.51 L255.15,219.44 L255.40,219.59 L255.65,220.59 L255.90,220.24 L256.15,220.27 L256.40,220.50 L256.65,219.69 L256.90,220.42 L257.15,220.51 L257.40,220.43 L257.65,220.60 L257.90,219.42 L258.15,220.55 L258.40,220.40 L258.65,220.31 L258.90,220.58 L259.15,220.49 L259.40,220.59 L259.65,220.22 L259.90,220.58 L260.15,220.52 L260.40,220.37 L260.65,220.17 L260.90,220.46 L261.15,220.31 L261.40,219.77 L261.65,220.61 L261.90,220.13 L262.15,220.01 L262.40,219.91 L262.65,219.86 L262.90,220.35 L263.15,219.56 L263.40,220.06 L263.65,219.93 L263.90,220.30 L264.15,220.01 L264.40,219.87 L264.65,219.82 L264.90,220.18 L265.15,219.88 L265.40,220.32 L265.65,220.30 L265.90,220.52 L266.15,220.25 L266.40,220.61 L266.65,220.58 L266.90,220.55 L267.15,219.44 L267.40,220.29 L267.65,220.21 L267.90,220.34 L268.15,217.83 L268.40,217.83 L268.65,217.83 L268.90,220.15 L269.15,220.14 L269.40,219.68 L269.65,219.58 L269.90,220.57 L270.15,220.31 L270.40,219.90 L270.65,220.11 L270.90,220.45 L271.15,219.81 L271.40,220.20 L271.65,220.34 L271.90,220.39 L272.15,220.35 L272.40,220.30 L272.65,219.54 L272.90,219.67 L273.15,220.35 L273.40,220.60 L273.65,220.62 L273.90,219.61 L274.15,220.08 L274.40,219.80 L274.65,220.10 L274.90,220.57 L275.15,219.74 L275.40,219.70 L275.65,220.08 L275.90,219.87 L276.15,219.52 L276.40,220.62 L276.65,219.79 L276.90,220.33 L277.15,219.22 L277.40,219.22 L277.65,219.22 L277.90,219.61 L278.15,220.22 L278.40,219.75 L278.65,219.81 L278.90,219.64 L279.15,220.43 L279.40,220.43 L279.65,220.28 L279.90,219.96 L280.15,219.71 L280.40,220.61 L280.65,219.58 L280.90,219.46 L281.15,219.55 L281.40,220.61 L281.65,220.24 L281.90,219.56 L282.15,220.18 L282.40,219.59 L282.65,220.17 L282.90,220.54 L283.15,218.51 L283.40,218.51 L283.65,216.33 L283.90,216.33 L284.15,216.33 L284.40,219.66 L284.65,219.85 L284.90,220.61 L285.15,219.57 L285.40,219.88 L285.65,219.90 L285.90,220.61 L286.15,219.53 L286.40,220.34 L286.65,220.47 L286.90,220.23 L287.15,219.59 L287.40,220.49 L287.65,220.37 L287.90,219.86 L288,220.9 Z" fill="#e2a416"/>
<path d="M31.4,252.5 L31.40,250.87 L31.65,250.69 L31.90,250.72 L32.15,251.18 L32.40,251.55 L32.65,251.49 L32.90,251.03 L33.15,241.85 L33.40,249.25 L33.65,251.72 L33.90,249.67 L34.15,249.02 L34.40,250.91 L34.65,249.89 L34.90,248.12 L35.15,249.15 L35.40,250.21 L35.65,251.05 L35.90,251.65 L36.15,244.99 L36.40,250.44 L36.65,250.50 L36.90,250.57 L37.15,250.32 L37.40,251.26 L37.65,250.85 L37.90,249.83 L38.15,251.00 L38.40,248.65 L38.65,249.84 L38.90,251.24 L39.15,250.71 L39.40,244.95 L39.65,248.70 L39.90,251.46 L40.15,251.19 L40.40,250.32 L40.65,251.27 L40.90,251.70 L41.15,249.56 L41.40,251.63 L41.65,249.80 L41.90,250.18 L42.15,250.64 L42.40,250.64 L42.65,251.24 L42.90,248.97 L43.15,250.08 L43.40,249.18 L43.65,251.32 L43.90,251.58 L44.15,249.43 L44.40,251.05 L44.65,250.29 L44.90,250.09 L45.15,248.63 L45.40,249.79 L45.65,251.02 L45.90,249.26 L46.15,251.63 L46.40,249.63 L46.65,249.99 L46.90,249.60 L47.15,250.25 L47.40,251.67 L47.65,251.73 L47.90,251.48 L48.15,248.15 L48.40,249.10 L48.65,249.82 L48.90,249.51 L49.15,250.36 L49.40,249.29 L49.65,251.29 L49.90,250.91 L50.15,249.49 L50.40,249.78 L50.65,249.56 L50.90,249.23 L51.15,250.59 L51.40,243.41 L51.65,250.74 L51.90,251.37 L52.15,250.91 L52.40,249.36 L52.65,250.69 L52.90,251.55 L53.15,250.14 L53.40,251.36 L53.65,250.69 L53.90,251.63 L54.15,250.71 L54.40,250.08 L54.65,249.55 L54.90,251.69 L55.15,250.91 L55.40,250.69 L55.65,251.42 L55.90,250.75 L56.15,250.59 L56.40,251.49 L56.65,251.43 L56.90,251.36 L57.15,250.00 L57.40,250.71 L57.65,251.68 L57.90,248.19 L58.15,238.16 L58.40,247.47 L58.65,245.77 L58.90,245.21 L59.15,245.05 L59.40,243.85 L59.65,248.70 L59.90,250.77 L60.15,243.81 L60.40,247.23 L60.65,242.80 L60.90,242.80 L61.15,242.80 L61.40,232.02 L61.65,248.15 L61.90,250.74 L62.15,244.76 L62.40,245.01 L62.65,244.50 L62.90,244.50 L63.15,244.50 L63.40,244.50 L63.65,249.68 L63.90,247.94 L64.15,250.90 L64.40,249.11 L64.65,248.33 L64.90,249.24 L65.15,249.89 L65.40,250.59 L65.65,248.43 L65.90,249.29 L66.15,248.61 L66.40,243.75 L66.65,248.91 L66.90,248.94 L67.15,249.42 L67.40,248.22 L67.65,250.69 L67.90,247.89 L68.15,250.22 L68.40,249.63 L68.65,250.43 L68.90,249.69 L69.15,249.21 L69.40,251.47 L69.65,250.60 L69.90,246.34 L70.15,250.77 L70.40,249.50 L70.65,251.01 L70.90,251.62 L71.15,248.38 L71.40,251.14 L71.65,250.12 L71.90,248.40 L72.15,247.50 L72.40,247.79 L72.65,246.05 L72.90,248.18 L73.15,250.54 L73.40,251.57 L73.65,249.51 L73.90,251.37 L74.15,249.03 L74.40,249.98 L74.65,246.71 L74.90,250.74 L75.15,250.69 L75.40,250.80 L75.65,248.70 L75.90,249.59 L76.15,249.34 L76.40,248.02 L76.65,249.03 L76.90,248.06 L77.15,251.09 L77.40,249.66 L77.65,251.14 L77.90,244.06 L78.15,246.07 L78.40,249.16 L78.65,232.88 L78.90,245.84 L79.15,250.73 L79.40,250.40 L79.65,246.14 L79.90,250.29 L80.15,236.98 L80.40,247.66 L80.65,247.14 L80.90,248.11 L81.15,247.85 L81.40,245.03 L81.65,248.75 L81.90,243.81 L82.15,250.81 L82.40,245.46 L82.65,249.95 L82.90,244.50 L83.15,250.80 L83.40,247.96 L83.65,245.50 L83.90,245.50 L84.15,245.37 L84.40,245.50 L84.65,249.78 L84.90,238.69 L85.15,246.41 L85.40,243.98 L85.65,248.24 L85.90,246.10 L86.15,249.91 L86.40,243.73 L86.65,250.40 L86.90,247.09 L87.15,245.92 L87.40,249.36 L87.65,246.50 L87.90,246.50 L88.15,245.30 L88.40,234.57 L88.65,239.77 L88.90,244.89 L89.15,245.14 L89.40,238.77 L89.65,245.08 L89.90,249.19 L90.15,230.03 L90.40,249.77 L90.65,250.99 L90.90,248.89 L91.15,245.37 L91.40,251.08 L91.65,251.04 L91.90,246.71 L92.15,244.32 L92.40,249.86 L92.65,245.83 L92.90,244.41 L93.15,246.21 L93.40,248.66 L93.65,249.92 L93.90,245.03 L94.15,241.40 L94.40,249.80 L94.65,247.63 L94.90,249.83 L95.15,250.16 L95.40,248.27 L95.65,250.60 L95.90,248.74 L96.15,241.24 L96.40,250.72 L96.65,246.16 L96.90,246.22 L97.15,245.24 L97.40,246.04 L97.65,250.28 L97.90,249.94 L98.15,247.99 L98.40,250.75 L98.65,250.80 L98.90,250.58 L99.15,246.75 L99.40,251.11 L99.65,235.17 L99.90,251.08 L100.15,248.34 L100.40,250.29 L100.65,246.33 L100.90,245.63 L101.15,250.02 L101.40,249.98 L101.65,242.77 L101.90,250.33 L102.15,247.60 L102.40,250.17 L102.65,245.24 L102.90,247.55 L103.15,244.64 L103.40,244.06 L103.65,249.75 L103.90,244.50 L104.15,244.50 L104.40,244.50 L104.65,248.73 L104.90,248.69 L105.15,250.53 L105.40,245.41 L105.65,246.93 L105.90,248.14 L106.15,245.98 L106.40,250.99 L106.65,250.27 L106.90,244.99 L107.15,246.11 L107.40,246.61 L107.65,239.30 L107.90,245.89 L108.15,249.61 L108.40,249.95 L108.65,250.30 L108.90,241.32 L109.15,243.74 L109.40,238.02 L109.65,249.87 L109.90,248.36 L110.15,238.30 L110.40,250.77 L110.65,250.90 L110.90,247.79 L111.15,247.52 L111.40,245.49 L111.65,248.26 L111.90,249.05 L112.15,250.14 L112.40,248.62 L112.65,244.50 L112.90,244.50 L113.15,244.50 L113.40,247.95 L113.65,250.72 L113.90,246.53 L114.15,246.09 L114.40,243.96 L114.65,247.64 L114.90,247.87 L115.15,242.87 L115.40,248.79 L115.65,249.92 L115.90,250.60 L116.15,245.77 L116.40,250.95 L116.65,245.34 L116.90,248.64 L117.15,245.16 L117.40,248.20 L117.65,244.58 L117.90,248.64 L118.15,244.51 L118.40,250.83 L118.65,249.17 L118.90,244.73 L119.15,249.72 L119.40,247.81 L119.65,246.72 L119.90,246.47 L120.15,248.22 L120.40,248.73 L120.65,250.43 L120.90,236.58 L121.15,247.26 L121.40,245.64 L121.65,246.98 L121.90,246.50 L122.15,246.50 L122.40,245.22 L122.65,244.07 L122.90,245.30 L123.15,248.42 L123.40,239.98 L123.65,248.33 L123.90,239.20 L124.15,245.71 L124.40,248.12 L124.65,247.79 L124.90,247.70 L125.15,249.05 L125.40,245.45 L125.65,250.77 L125.90,249.86 L126.15,248.51 L126.40,249.83 L126.65,250.47 L126.90,245.56 L127.15,245.73 L127.40,250.88 L127.65,250.55 L127.90,235.20 L128.15,250.67 L128.40,251.07 L128.65,249.09 L128.90,246.93 L129.15,245.47 L129.40,248.34 L129.65,246.45 L129.90,251.05 L130.15,245.08 L130.40,247.65 L130.65,250.98 L130.90,248.34 L131.15,250.12 L131.40,247.68 L131.65,246.52 L131.90,248.02 L132.15,247.36 L132.40,250.92 L132.65,245.12 L132.90,244.76 L133.15,242.77 L133.40,238.53 L133.65,250.32 L133.90,250.16 L134.15,250.97 L134.40,242.03 L134.65,249.73 L134.90,248.37 L135.15,246.65 L135.40,246.16 L135.65,250.12 L135.90,249.13 L136.15,244.55 L136.40,247.55 L136.65,246.67 L136.90,251.03 L137.15,249.54 L137.40,247.65 L137.65,248.88 L137.90,250.57 L138.15,251.03 L138.40,245.95 L138.65,243.65 L138.90,248.18 L139.15,245.97 L139.40,250.68 L139.65,245.68 L139.90,250.19 L140.15,250.94 L140.40,249.63 L140.65,247.21 L140.90,243.23 L141.15,245.54 L141.40,250.96 L141.65,248.55 L141.90,245.33 L142.15,247.86 L142.40,245.76 L142.65,246.02 L142.90,249.42 L143.15,250.44 L143.40,248.20 L143.65,246.69 L143.90,246.91 L144.15,249.40 L144.40,250.34 L144.65,251.07 L144.90,245.60 L145.15,249.89 L145.40,245.12 L145.65,249.34 L145.90,244.42 L146.15,248.04 L146.40,249.94 L146.65,246.00 L146.90,250.84 L147.15,249.16 L147.40,247.75 L147.65,247.42 L147.90,246.78 L148.15,249.32 L148.40,245.12 L148.65,239.70 L148.90,245.67 L149.15,249.56 L149.40,245.59 L149.65,247.07 L149.90,245.21 L150.15,250.75 L150.40,251.08 L150.65,247.11 L150.90,247.92 L151.15,248.61 L151.40,245.86 L151.65,245.23 L151.90,246.46 L152.15,247.00 L152.40,248.89 L152.65,249.46 L152.90,243.64 L153.15,244.14 L153.40,246.84 L153.65,242.14 L153.90,250.60 L154.15,248.69 L154.40,248.66 L154.65,248.93 L154.90,247.73 L155.15,249.15 L155.40,246.74 L155.65,246.08 L155.90,232.11 L156.15,249.81 L156.40,250.74 L156.65,250.33 L156.90,249.52 L157.15,249.40 L157.40,245.50 L157.65,248.12 L157.90,250.53 L158.15,249.41 L158.40,251.09 L158.65,248.89 L158.90,250.46 L159.15,249.60 L159.40,251.42 L159.65,249.11 L159.90,248.93 L160.15,250.76 L160.40,250.14 L160.65,249.54 L160.90,251.45 L161.15,250.55 L161.40,251.76 L161.65,250.07 L161.90,250.01 L162.15,249.78 L162.40,250.09 L162.65,248.73 L162.90,251.70 L163.15,251.38 L163.40,249.22 L163.65,251.71 L163.90,249.05 L164.15,251.58 L164.40,247.92 L164.65,246.50 L164.90,246.50 L165.15,246.50 L165.40,246.50 L165.65,250.43 L165.90,245.14 L166.15,249.74 L166.40,251.04 L166.65,250.29 L166.90,251.38 L167.15,249.79 L167.40,251.77 L167.65,250.49 L167.90,249.52 L168.15,248.51 L168.40,250.00 L168.65,251.67 L168.90,249.52 L169.15,251.45 L169.40,246.01 L169.65,249.46 L169.90,250.69 L170.15,249.47 L170.40,245.14 L170.65,251.47 L170.90,244.10 L171.15,249.10 L171.40,249.06 L171.65,248.59 L171.90,248.87 L172.15,249.19 L172.40,249.18 L172.65,247.48 L172.90,249.02 L173.15,251.68 L173.40,249.92 L173.65,251.34 L173.90,250.39 L174.15,249.21 L174.40,241.93 L174.65,247.50 L174.90,247.50 L175.15,247.50 L175.40,247.50 L175.65,251.45 L175.90,244.16 L176.15,248.73 L176.40,251.42 L176.65,251.78 L176.90,251.25 L177.15,248.54 L177.40,250.91 L177.65,249.87 L177.90,249.71 L178.15,251.75 L178.40,251.42 L178.65,246.72 L178.90,250.09 L179.15,248.60 L179.40,249.36 L179.65,243.29 L179.90,249.09 L180.15,249.00 L180.40,249.86 L180.65,249.48 L180.90,245.90 L181.15,250.04 L181.40,248.99 L181.65,250.65 L181.90,249.39 L182.15,250.95 L182.40,251.67 L182.65,250.58 L182.90,250.25 L183.15,246.94 L183.40,250.10 L183.65,250.42 L183.90,250.27 L184.15,247.73 L184.40,242.84 L184.65,245.41 L184.90,251.54 L185.15,250.23 L185.40,250.21 L185.65,249.25 L185.90,249.07 L186.15,250.88 L186.40,251.79 L186.65,250.71 L186.90,249.94 L187.15,248.93 L187.40,235.35 L187.65,247.36 L187.90,250.41 L188.15,249.05 L188.40,248.09 L188.65,245.22 L188.90,249.28 L189.15,250.09 L189.40,250.00 L189.65,240.87 L189.90,249.93 L190.15,240.54 L190.40,248.37 L190.65,246.35 L190.90,246.34 L191.15,249.99 L191.40,250.16 L191.65,246.26 L191.90,246.09 L192.15,245.76 L192.40,247.92 L192.65,250.33 L192.90,249.84 L193.15,247.21 L193.40,246.00 L193.65,244.33 L193.90,250.87 L194.15,245.61 L194.40,245.33 L194.65,240.01 L194.90,245.76 L195.15,238.07 L195.40,247.83 L195.65,250.53 L195.90,249.91 L196.15,237.60 L196.40,235.71 L196.65,249.93 L196.90,241.37 L197.15,245.63 L197.40,249.25 L197.65,245.33 L197.90,244.48 L198.15,248.16 L198.40,249.20 L198.65,245.23 L198.90,249.93 L199.15,248.20 L199.40,246.61 L199.65,235.65 L199.90,245.22 L200.15,243.87 L200.40,245.94 L200.65,249.43 L200.90,242.87 L201.15,238.55 L201.40,247.47 L201.65,250.71 L201.90,251.53 L202.15,248.46 L202.40,248.66 L202.65,250.05 L202.90,249.40 L203.15,250.30 L203.40,250.28 L203.65,251.59 L203.90,249.82 L204.15,250.32 L204.40,249.94 L204.65,244.15 L204.90,240.28 L205.15,224.50 L205.40,249.19 L205.65,250.21 L205.90,241.81 L206.15,247.60 L206.40,243.38 L206.65,245.91 L206.90,246.26 L207.15,244.45 L207.40,240.42 L207.65,241.50 L207.90,241.50 L208.15,241.50 L208.40,229.62 L208.65,245.46 L208.90,247.20 L209.15,247.10 L209.40,242.68 L209.65,243.50 L209.90,243.12 L210.15,243.50 L210.40,243.50 L210.65,233.47 L210.90,248.20 L211.15,244.45 L211.40,240.77 L211.65,249.82 L211.90,224.50 L212.15,248.73 L212.40,248.74 L212.65,246.54 L212.90,249.99 L213.15,249.79 L213.40,249.79 L213.65,249.46 L213.90,251.27 L214.15,249.97 L214.40,249.82 L214.65,248.88 L214.90,250.29 L215.15,249.68 L215.40,250.91 L215.65,249.22 L215.90,248.59 L216.15,249.41 L216.40,251.09 L216.65,250.95 L216.90,248.96 L217.15,249.87 L217.40,251.53 L217.65,251.09 L217.90,247.38 L218.15,248.81 L218.40,247.32 L218.65,251.64 L218.90,251.45 L219.15,249.24 L219.40,251.05 L219.65,251.61 L219.90,250.52 L220.15,249.92 L220.40,250.05 L220.65,251.29 L220.90,251.68 L221.15,249.27 L221.40,248.84 L221.65,251.40 L221.90,250.17 L222.15,250.56 L222.40,251.50 L222.65,248.81 L222.90,250.17 L223.15,244.58 L223.40,250.17 L223.65,250.19 L223.90,250.02 L224.15,247.66 L224.40,249.25 L224.65,248.90 L224.90,251.18 L225.15,251.73 L225.40,243.65 L225.65,245.61 L225.90,248.75 L226.15,249.62 L226.40,247.34 L226.65,250.04 L226.90,248.50 L227.15,251.17 L227.40,249.93 L227.65,250.32 L227.90,251.39 L228.15,247.85 L228.40,246.85 L228.65,249.15 L228.90,250.06 L229.15,250.06 L229.40,251.54 L229.65,250.76 L229.90,250.96 L230.15,249.45 L230.40,250.63 L230.65,249.92 L230.90,251.35 L231.15,250.93 L231.40,249.27 L231.65,250.65 L231.90,250.03 L232.15,250.44 L232.40,250.67 L232.65,251.29 L232.90,251.71 L233.15,249.57 L233.40,249.78 L233.65,250.12 L233.90,251.14 L234.15,251.08 L234.40,251.33 L234.65,246.72 L234.90,249.49 L235.15,250.82 L235.40,249.53 L235.65,249.05 L235.90,250.82 L236.15,251.44 L236.40,245.73 L236.65,249.03 L236.90,251.62 L237.15,251.59 L237.40,251.30 L237.65,250.42 L237.90,250.78 L238.15,250.53 L238.40,250.35 L238.65,251.40 L238.90,249.80 L239.15,250.08 L239.40,251.75 L239.65,250.23 L239.90,249.19 L240.15,244.78 L240.40,248.57 L240.65,251.46 L240.90,248.42 L241.15,249.50 L241.40,251.65 L241.65,251.68 L241.90,250.56 L242.15,251.05 L242.40,249.88 L242.65,250.32 L242.90,248.91 L243.15,251.48 L243.40,249.48 L243.65,249.83 L243.90,250.64 L244.15,251.50 L244.40,249.19 L244.65,249.72 L244.90,250.88 L245.15,251.34 L245.40,249.76 L245.65,251.56 L245.90,250.97 L246.15,249.11 L246.40,250.49 L246.65,249.13 L246.90,248.38 L247.15,248.29 L247.40,247.92 L247.65,251.28 L247.90,246.38 L248.15,248.39 L248.40,249.56 L248.65,248.12 L248.90,246.41 L249.15,246.91 L249.40,245.07 L249.65,250.36 L249.90,247.91 L250.15,239.08 L250.40,251.04 L250.65,249.59 L250.90,249.26 L251.15,250.61 L251.40,248.77 L251.65,236.48 L251.90,246.84 L252.15,250.86 L252.40,248.75 L252.65,250.84 L252.90,250.64 L253.15,246.39 L253.40,250.00 L253.65,250.68 L253.90,246.55 L254.15,250.12 L254.40,248.40 L254.65,248.15 L254.90,238.75 L255.15,247.75 L255.40,241.19 L255.65,248.21 L255.90,246.24 L256.15,248.76 L256.40,243.93 L256.65,243.31 L256.90,251.33 L257.15,250.52 L257.40,249.34 L257.65,243.86 L257.90,248.46 L258.15,246.49 L258.40,247.90 L258.65,248.82 L258.90,250.15 L259.15,248.43 L259.40,250.74 L259.65,247.69 L259.90,244.50 L260.15,244.50 L260.40,244.50 L260.65,244.50 L260.90,246.38 L261.15,250.87 L261.40,246.60 L261.65,243.90 L261.90,246.89 L262.15,250.86 L262.40,247.94 L262.65,245.50 L262.90,245.50 L263.15,245.50 L263.40,243.85 L263.65,246.85 L263.90,250.29 L264.15,250.46 L264.40,249.60 L264.65,243.81 L264.90,247.85 L265.15,246.91 L265.40,249.12 L265.65,250.30 L265.90,251.67 L266.15,248.61 L266.40,250.65 L266.65,251.76 L266.90,250.83 L267.15,250.84 L267.40,251.92 L267.65,249.79 L267.90,251.59 L268.15,247.50 L268.40,250.02 L268.65,250.03 L268.90,251.78 L269.15,250.34 L269.40,251.14 L269.65,250.45 L269.90,249.87 L270.15,249.29 L270.40,250.22 L270.65,250.50 L270.90,251.13 L271.15,248.53 L271.40,251.25 L271.65,251.94 L271.90,250.59 L272.15,251.56 L272.40,249.96 L272.65,249.75 L272.90,251.16 L273.15,250.37 L273.40,250.06 L273.65,251.52 L273.90,250.57 L274.15,250.35 L274.40,251.85 L274.65,250.86 L274.90,248.67 L275.15,250.14 L275.40,252.17 L275.65,251.19 L275.90,251.13 L276.15,251.07 L276.40,252.03 L276.65,251.14 L276.90,251.67 L277.15,251.52 L277.40,250.72 L277.65,251.68 L277.90,251.45 L278.15,250.88 L278.40,251.11 L278.65,250.65 L278.90,252.19 L279.15,252.00 L279.40,249.69 L279.65,252.15 L279.90,251.45 L280.15,252.06 L280.40,250.97 L280.65,251.83 L280.90,249.21 L281.15,251.22 L281.40,252.19 L281.65,251.75 L281.90,252.11 L282.15,251.70 L282.40,250.20 L282.65,252.15 L282.90,251.03 L283.15,252.18 L283.40,251.55 L283.65,251.79 L283.90,251.95 L284.15,251.51 L284.40,252.10 L284.65,250.81 L284.90,251.97 L285.15,250.62 L285.40,252.09 L285.65,252.06 L285.90,252.12 L286.15,251.06 L286.40,251.22 L286.65,251.13 L286.90,251.32 L287.15,249.65 L287.40,251.24 L287.65,251.28 L287.90,251.56 L288,252.5 Z" fill="#ffecb0"/>
<path d="M31.4,252.5 L31.40,250.87 L31.65,250.69 L31.90,250.72 L32.15,251.18 L32.40,251.74 L32.65,251.49 L32.90,251.03 L33.15,248.64 L33.40,249.25 L33.65,251.72 L33.90,249.95 L34.15,251.03 L34.40,250.91 L34.65,249.89 L34.90,251.08 L35.15,249.15 L35.40,250.33 L35.65,251.05 L35.90,251.65 L36.15,249.57 L36.40,250.44 L36.65,250.50 L36.90,250.57 L37.15,250.41 L37.40,251.26 L37.65,250.85 L37.90,249.83 L38.15,251.00 L38.40,248.65 L38.65,249.84 L38.90,251.27 L39.15,251.54 L39.40,248.79 L39.65,248.70 L39.90,251.46 L40.15,251.19 L40.40,250.32 L40.65,251.58 L40.90,251.70 L41.15,249.56 L41.40,251.70 L41.65,249.80 L41.90,250.40 L42.15,250.69 L42.40,250.64 L42.65,251.24 L42.90,248.97 L43.15,251.28 L43.40,249.18 L43.65,251.32 L43.90,251.73 L44.15,251.53 L44.40,251.05 L44.65,250.29 L44.90,250.09 L45.15,250.44 L45.40,249.79 L45.65,251.02 L45.90,249.26 L46.15,251.68 L46.40,249.63 L46.65,250.78 L46.90,249.60 L47.15,251.28 L47.40,251.67 L47.65,251.73 L47.90,251.48 L48.15,249.71 L48.40,249.10 L48.65,249.82 L48.90,249.51 L49.15,250.36 L49.40,249.29 L49.65,251.29 L49.90,250.91 L50.15,249.49 L50.40,251.57 L50.65,249.56 L50.90,249.23 L51.15,251.46 L51.40,249.45 L51.65,251.26 L51.90,251.39 L52.15,251.71 L52.40,249.36 L52.65,250.69 L52.90,251.55 L53.15,250.71 L53.40,251.36 L53.65,250.83 L53.90,251.63 L54.15,250.71 L54.40,250.08 L54.65,249.55 L54.90,251.69 L55.15,250.91 L55.40,250.69 L55.65,251.43 L55.90,250.75 L56.15,250.59 L56.40,251.49 L56.65,251.43 L56.90,251.36 L57.15,250.00 L57.40,250.71 L57.65,251.68 L57.90,248.19 L58.15,244.66 L58.40,247.70 L58.65,248.80 L58.90,248.94 L59.15,245.05 L59.40,249.63 L59.65,248.70 L59.90,250.77 L60.15,245.30 L60.40,247.23 L60.65,242.80 L60.90,242.80 L61.15,242.80 L61.40,242.80 L61.65,248.50 L61.90,250.74 L62.15,244.76 L62.40,245.01 L62.65,244.50 L62.90,244.50 L63.15,244.50 L63.40,244.50 L63.65,249.68 L63.90,250.40 L64.15,250.90 L64.40,250.96 L64.65,249.80 L64.90,249.27 L65.15,249.89 L65.40,250.59 L65.65,248.43 L65.90,249.60 L66.15,251.20 L66.40,247.93 L66.65,248.91 L66.90,248.94 L67.15,251.45 L67.40,248.22 L67.65,250.69 L67.90,248.80 L68.15,250.22 L68.40,251.60 L68.65,250.43 L68.90,249.69 L69.15,249.21 L69.40,251.60 L69.65,250.60 L69.90,250.07 L70.15,250.77 L70.40,249.50 L70.65,251.01 L70.90,251.62 L71.15,248.38 L71.40,251.14 L71.65,250.33 L71.90,248.40 L72.15,249.66 L72.40,248.30 L72.65,248.10 L72.90,248.18 L73.15,250.78 L73.40,251.57 L73.65,251.31 L73.90,251.38 L74.15,249.50 L74.40,249.98 L74.65,247.92 L74.90,251.61 L75.15,250.69 L75.40,250.80 L75.65,248.70 L75.90,249.59 L76.15,249.45 L76.40,248.02 L76.65,249.03 L76.90,248.29 L77.15,251.09 L77.40,249.66 L77.65,251.14 L77.90,249.69 L78.15,246.07 L78.40,249.16 L78.65,245.98 L78.90,246.00 L79.15,250.73 L79.40,250.41 L79.65,248.75 L79.90,250.29 L80.15,247.41 L80.40,247.66 L80.65,249.98 L80.90,249.33 L81.15,248.39 L81.40,245.03 L81.65,248.75 L81.90,247.27 L82.15,250.81 L82.40,248.06 L82.65,249.95 L82.90,244.50 L83.15,250.80 L83.40,247.96 L83.65,245.50 L83.90,245.50 L84.15,245.37 L84.40,245.50 L84.65,249.78 L84.90,247.00 L85.15,248.62 L85.40,245.52 L85.65,248.24 L85.90,246.10 L86.15,249.91 L86.40,247.05 L86.65,250.40 L86.90,247.09 L87.15,245.92 L87.40,249.36 L87.65,246.50 L87.90,246.50 L88.15,245.82 L88.40,246.07 L88.65,244.98 L88.90,244.89 L89.15,247.30 L89.40,246.00 L89.65,249.57 L89.90,249.19 L90.15,245.10 L90.40,249.77 L90.65,250.99 L90.90,248.89 L91.15,245.37 L91.40,251.08 L91.65,251.04 L91.90,246.71 L92.15,247.73 L92.40,249.86 L92.65,246.74 L92.90,249.68 L93.15,246.35 L93.40,248.66 L93.65,249.92 L93.90,249.44 L94.15,247.19 L94.40,249.80 L94.65,247.63 L94.90,249.83 L95.15,250.16 L95.40,248.27 L95.65,250.97 L95.90,250.42 L96.15,246.81 L96.40,250.72 L96.65,246.16 L96.90,249.59 L97.15,246.20 L97.40,246.04 L97.65,250.29 L97.90,249.94 L98.15,248.22 L98.40,250.82 L98.65,250.80 L98.90,250.59 L99.15,246.75 L99.40,251.11 L99.65,246.15 L99.90,251.12 L100.15,248.34 L100.40,250.29 L100.65,246.70 L100.90,246.75 L101.15,250.02 L101.40,251.10 L101.65,247.19 L101.90,250.33 L102.15,247.60 L102.40,250.17 L102.65,245.24 L102.90,247.55 L103.15,249.96 L103.40,247.29 L103.65,249.75 L103.90,244.50 L104.15,244.50 L104.40,244.50 L104.65,249.18 L104.90,250.55 L105.15,250.53 L105.40,245.41 L105.65,246.93 L105.90,248.14 L106.15,245.98 L106.40,250.99 L106.65,250.27 L106.90,245.92 L107.15,246.11 L107.40,248.72 L107.65,245.63 L107.90,245.89 L108.15,249.61 L108.40,249.95 L108.65,250.30 L108.90,248.50 L109.15,245.51 L109.40,245.90 L109.65,249.87 L109.90,249.82 L110.15,245.72 L110.40,250.77 L110.65,251.09 L110.90,247.79 L111.15,247.52 L111.40,246.15 L111.65,248.26 L111.90,249.05 L112.15,250.14 L112.40,248.62 L112.65,244.50 L112.90,244.50 L113.15,244.50 L113.40,247.95 L113.65,250.72 L113.90,246.53 L114.15,248.86 L114.40,245.84 L114.65,247.64 L114.90,247.87 L115.15,248.99 L115.40,248.79 L115.65,249.92 L115.90,250.60 L116.15,245.77 L116.40,250.95 L116.65,245.34 L116.90,250.17 L117.15,247.67 L117.40,250.99 L117.65,247.92 L117.90,250.64 L118.15,249.82 L118.40,250.83 L118.65,249.17 L118.90,247.05 L119.15,249.72 L119.40,247.81 L119.65,246.72 L119.90,247.43 L120.15,248.22 L120.40,248.73 L120.65,250.43 L120.90,245.27 L121.15,247.26 L121.40,249.37 L121.65,246.98 L121.90,246.50 L122.15,246.50 L122.40,245.22 L122.65,246.42 L122.90,247.62 L123.15,250.99 L123.40,245.18 L123.65,248.55 L123.90,247.56 L124.15,245.72 L124.40,250.91 L124.65,247.79 L124.90,247.70 L125.15,249.05 L125.40,245.55 L125.65,251.05 L125.90,249.86 L126.15,248.51 L126.40,249.83 L126.65,250.47 L126.90,247.30 L127.15,245.73 L127.40,250.88 L127.65,250.55 L127.90,246.97 L128.15,250.91 L128.40,251.07 L128.65,249.09 L128.90,248.14 L129.15,245.47 L129.40,248.34 L129.65,246.45 L129.90,251.05 L130.15,245.08 L130.40,247.65 L130.65,250.98 L130.90,248.50 L131.15,250.35 L131.40,247.68 L131.65,246.52 L131.90,248.02 L132.15,247.36 L132.40,250.92 L132.65,245.12 L132.90,249.88 L133.15,246.46 L133.40,247.91 L133.65,250.32 L133.90,250.38 L134.15,250.97 L134.40,248.13 L134.65,250.05 L134.90,248.37 L135.15,246.65 L135.40,246.16 L135.65,250.12 L135.90,249.13 L136.15,249.50 L136.40,247.55 L136.65,248.69 L136.90,251.03 L137.15,249.54 L137.40,247.78 L137.65,250.67 L137.90,250.57 L138.15,251.03 L138.40,245.95 L138.65,246.33 L138.90,249.96 L139.15,245.97 L139.40,250.68 L139.65,245.68 L139.90,250.19 L140.15,250.94 L140.40,249.63 L140.65,247.26 L140.90,248.34 L141.15,248.22 L141.40,250.96 L141.65,248.55 L141.90,245.33 L142.15,251.02 L142.40,245.76 L142.65,247.50 L142.90,249.42 L143.15,250.44 L143.40,248.20 L143.65,246.69 L143.90,246.91 L144.15,249.40 L144.40,250.34 L144.65,251.07 L144.90,245.60 L145.15,250.16 L145.40,245.12 L145.65,249.34 L145.90,248.30 L146.15,248.04 L146.40,249.94 L146.65,246.83 L146.90,250.84 L147.15,249.16 L147.40,247.90 L147.65,247.50 L147.90,246.78 L148.15,249.32 L148.40,245.12 L148.65,248.28 L148.90,245.67 L149.15,249.56 L149.40,245.59 L149.65,249.68 L149.90,245.21 L150.15,250.75 L150.40,251.08 L150.65,247.11 L150.90,247.92 L151.15,248.61 L151.40,245.86 L151.65,245.23 L151.90,246.46 L152.15,247.00 L152.40,248.89 L152.65,249.46 L152.90,245.39 L153.15,245.22 L153.40,246.84 L153.65,248.04 L153.90,250.60 L154.15,248.69 L154.40,249.69 L154.65,248.93 L154.90,247.73 L155.15,249.15 L155.40,249.23 L155.65,249.38 L155.90,245.47 L156.15,249.81 L156.40,250.74 L156.65,250.33 L156.90,249.52 L157.15,249.40 L157.40,250.06 L157.65,249.24 L157.90,251.79 L158.15,249.41 L158.40,251.09 L158.65,250.38 L158.90,250.46 L159.15,250.40 L159.40,251.42 L159.65,251.38 L159.90,248.93 L160.15,250.76 L160.40,250.14 L160.65,249.54 L160.90,251.45 L161.15,250.87 L161.40,251.76 L161.65,250.07 L161.90,250.04 L162.15,249.78 L162.40,250.09 L162.65,248.82 L162.90,251.72 L163.15,251.38 L163.40,249.22 L163.65,251.71 L163.90,249.05 L164.15,251.75 L164.40,250.50 L164.65,246.50 L164.90,246.50 L165.15,246.50 L165.40,246.50 L165.65,250.43 L165.90,249.52 L166.15,249.74 L166.40,251.04 L166.65,250.29 L166.90,251.38 L167.15,251.63 L167.40,251.77 L167.65,250.49 L167.90,249.52 L168.15,249.24 L168.40,250.00 L168.65,251.67 L168.90,249.53 L169.15,251.45 L169.40,249.86 L169.65,249.46 L169.90,250.69 L170.15,249.47 L170.40,249.67 L170.65,251.47 L170.90,249.34 L171.15,249.10 L171.40,249.06 L171.65,248.76 L171.90,249.85 L172.15,249.19 L172.40,251.32 L172.65,249.43 L172.90,249.02 L173.15,251.68 L173.40,249.92 L173.65,251.34 L173.90,250.40 L174.15,249.21 L174.40,248.92 L174.65,247.50 L174.90,247.50 L175.15,247.50 L175.40,247.50 L175.65,251.46 L175.90,248.95 L176.15,248.73 L176.40,251.64 L176.65,251.78 L176.90,251.25 L177.15,249.19 L177.40,251.31 L177.65,249.87 L177.90,249.71 L178.15,251.75 L178.40,251.42 L178.65,249.60 L178.90,250.09 L179.15,249.19 L179.40,250.91 L179.65,248.95 L179.90,249.09 L180.15,249.01 L180.40,249.86 L180.65,250.08 L180.90,250.42 L181.15,250.04 L181.40,248.99 L181.65,250.65 L181.90,249.39 L182.15,250.95 L182.40,251.67 L182.65,250.58 L182.90,250.25 L183.15,250.57 L183.40,250.10 L183.65,251.09 L183.90,250.27 L184.15,250.64 L184.40,249.30 L184.65,250.18 L184.90,251.54 L185.15,250.23 L185.40,250.21 L185.65,249.25 L185.90,249.07 L186.15,250.88 L186.40,251.79 L186.65,250.89 L186.90,249.94 L187.15,248.95 L187.40,244.67 L187.65,247.36 L187.90,250.41 L188.15,250.81 L188.40,248.15 L188.65,245.22 L188.90,249.28 L189.15,250.09 L189.40,250.06 L189.65,248.22 L189.90,249.93 L190.15,248.55 L190.40,250.29 L190.65,246.35 L190.90,246.34 L191.15,249.99 L191.40,250.16 L191.65,246.26 L191.90,246.09 L192.15,245.76 L192.40,247.92 L192.65,250.83 L192.90,249.86 L193.15,247.21 L193.40,250.17 L193.65,244.33 L193.90,250.87 L194.15,246.12 L194.40,245.33 L194.65,246.48 L194.90,248.31 L195.15,245.25 L195.40,249.28 L195.65,250.63 L195.90,249.91 L196.15,246.12 L196.40,243.96 L196.65,249.95 L196.90,244.51 L197.15,245.63 L197.40,249.25 L197.65,245.33 L197.90,244.48 L198.15,248.16 L198.40,250.52 L198.65,245.23 L198.90,249.93 L199.15,248.20 L199.40,250.28 L199.65,245.29 L199.90,250.03 L200.15,243.87 L200.40,245.99 L200.65,249.43 L200.90,247.02 L201.15,246.94 L201.40,247.47 L201.65,250.71 L201.90,251.61 L202.15,248.46 L202.40,248.66 L202.65,251.58 L202.90,249.66 L203.15,250.30 L203.40,250.28 L203.65,251.61 L203.90,249.82 L204.15,250.32 L204.40,251.26 L204.65,244.15 L204.90,240.46 L205.15,240.67 L205.40,249.19 L205.65,250.21 L205.90,241.81 L206.15,247.60 L206.40,243.38 L206.65,245.91 L206.90,248.63 L207.15,244.45 L207.40,240.42 L207.65,241.50 L207.90,241.50 L208.15,241.50 L208.40,242.67 L208.65,245.46 L208.90,249.70 L209.15,248.55 L209.40,242.68 L209.65,243.50 L209.90,243.32 L210.15,243.50 L210.40,243.50 L210.65,246.19 L210.90,248.20 L211.15,244.45 L211.40,240.77 L211.65,249.82 L211.90,241.83 L212.15,248.73 L212.40,249.72 L212.65,249.50 L212.90,249.99 L213.15,250.14 L213.40,249.79 L213.65,250.09 L213.90,251.27 L214.15,249.97 L214.40,249.82 L214.65,248.88 L214.90,250.29 L215.15,250.08 L215.40,250.91 L215.65,249.22 L215.90,249.12 L216.15,249.41 L216.40,251.09 L216.65,251.20 L216.90,248.96 L217.15,251.06 L217.40,251.53 L217.65,251.71 L217.90,249.65 L218.15,250.31 L218.40,250.22 L218.65,251.67 L218.90,251.54 L219.15,249.24 L219.40,251.05 L219.65,251.61 L219.90,250.63 L220.15,251.19 L220.40,250.05 L220.65,251.29 L220.90,251.68 L221.15,249.27 L221.40,248.84 L221.65,251.52 L221.90,250.17 L222.15,250.56 L222.40,251.50 L222.65,249.41 L222.90,251.57 L223.15,249.08 L223.40,250.17 L223.65,250.19 L223.90,250.02 L224.15,249.64 L224.40,249.25 L224.65,248.90 L224.90,251.18 L225.15,251.73 L225.40,249.40 L225.65,248.82 L225.90,248.75 L226.15,249.62 L226.40,250.53 L226.65,251.11 L226.90,250.35 L227.15,251.17 L227.40,249.93 L227.65,250.97 L227.90,251.39 L228.15,248.78 L228.40,248.78 L228.65,249.84 L228.90,250.08 L229.15,250.06 L229.40,251.54 L229.65,250.76 L229.90,250.96 L230.15,249.45 L230.40,250.63 L230.65,249.92 L230.90,251.35 L231.15,250.93 L231.40,249.27 L231.65,250.65 L231.90,250.03 L232.15,250.44 L232.40,250.67 L232.65,251.29 L232.90,251.71 L233.15,249.57 L233.40,249.78 L233.65,250.12 L233.90,251.14 L234.15,251.68 L234.40,251.49 L234.65,249.33 L234.90,249.61 L235.15,250.82 L235.40,249.53 L235.65,249.05 L235.90,250.82 L236.15,251.44 L236.40,249.70 L236.65,249.03 L236.90,251.62 L237.15,251.59 L237.40,251.30 L237.65,250.82 L237.90,250.78 L238.15,251.80 L238.40,250.35 L238.65,251.40 L238.90,249.80 L239.15,251.12 L239.40,251.75 L239.65,250.23 L239.90,250.89 L240.15,248.96 L240.40,249.92 L240.65,251.77 L240.90,248.73 L241.15,251.29 L241.40,251.65 L241.65,251.68 L241.90,250.56 L242.15,251.07 L242.40,251.18 L242.65,250.85 L242.90,250.48 L243.15,251.48 L243.40,251.26 L243.65,249.92 L243.90,250.64 L244.15,251.50 L244.40,249.19 L244.65,249.72 L244.90,250.89 L245.15,251.34 L245.40,249.76 L245.65,251.56 L245.90,251.07 L246.15,249.11 L246.40,250.49 L246.65,249.13 L246.90,249.10 L247.15,248.29 L247.40,247.92 L247.65,251.28 L247.90,246.38 L248.15,248.69 L248.40,249.56 L248.65,248.12 L248.90,246.41 L249.15,249.24 L249.40,247.54 L249.65,250.36 L249.90,247.91 L250.15,248.06 L250.40,251.04 L250.65,249.59 L250.90,249.26 L251.15,250.61 L251.40,248.77 L251.65,246.34 L251.90,246.84 L252.15,250.86 L252.40,248.75 L252.65,250.84 L252.90,250.64 L253.15,246.39 L253.40,250.00 L253.65,250.68 L253.90,249.07 L254.15,250.12 L254.40,248.40 L254.65,248.15 L254.90,248.09 L255.15,247.75 L255.40,248.90 L255.65,248.21 L255.90,247.81 L256.15,248.76 L256.40,249.43 L256.65,249.09 L256.90,251.33 L257.15,251.22 L257.40,251.35 L257.65,246.80 L257.90,248.46 L258.15,246.59 L258.40,247.90 L258.65,250.11 L258.90,250.15 L259.15,248.94 L259.40,250.74 L259.65,248.11 L259.90,244.50 L260.15,244.50 L260.40,244.50 L260.65,244.50 L260.90,247.02 L261.15,250.87 L261.40,246.60 L261.65,246.43 L261.90,247.08 L262.15,250.86 L262.40,247.94 L262.65,245.50 L262.90,245.50 L263.15,245.50 L263.40,245.50 L263.65,246.85 L263.90,250.29 L264.15,251.35 L264.40,250.51 L264.65,248.07 L264.90,247.85 L265.15,247.18 L265.40,249.12 L265.65,250.30 L265.90,251.67 L266.15,250.88 L266.40,250.65 L266.65,251.76 L266.90,251.20 L267.15,250.84 L267.40,251.92 L267.65,249.79 L267.90,251.59 L268.15,250.93 L268.40,251.60 L268.65,250.03 L268.90,251.87 L269.15,250.34 L269.40,251.18 L269.65,251.77 L269.90,249.87 L270.15,250.23 L270.40,250.56 L270.65,250.57 L270.90,251.13 L271.15,251.14 L271.40,251.25 L271.65,251.94 L271.90,250.59 L272.15,251.56 L272.40,250.92 L272.65,249.76 L272.90,251.16 L273.15,251.55 L273.40,250.06 L273.65,251.52 L273.90,251.62 L274.15,250.35 L274.40,251.85 L274.65,250.86 L274.90,249.88 L275.15,251.37 L275.40,252.17 L275.65,251.62 L275.90,251.13 L276.15,251.07 L276.40,252.04 L276.65,251.14 L276.90,251.67 L277.15,251.52 L277.40,251.82 L277.65,251.68 L277.90,251.45 L278.15,251.26 L278.40,251.11 L278.65,251.76 L278.90,252.19 L279.15,252.00 L279.40,251.25 L279.65,252.15 L279.90,251.45 L280.15,252.06 L280.40,251.43 L280.65,251.83 L280.90,251.18 L281.15,251.22 L281.40,252.20 L281.65,252.00 L281.90,252.11 L282.15,251.70 L282.40,251.39 L282.65,252.19 L282.90,251.03 L283.15,252.18 L283.40,251.55 L283.65,251.79 L283.90,251.97 L284.15,251.51 L284.40,252.12 L284.65,251.49 L284.90,252.16 L285.15,251.80 L285.40,252.09 L285.65,252.06 L285.90,252.13 L286.15,251.06 L286.40,251.24 L286.65,252.05 L286.90,251.35 L287.15,251.46 L287.40,251.24 L287.65,251.47 L287.90,251.56 L288,252.5 Z" fill="#fbd468"/>
<path d="M31.4,252.5 L31.40,251.39 L31.65,251.27 L31.90,251.29 L32.15,251.60 L32.40,251.98 L32.65,251.81 L32.90,251.50 L33.15,249.87 L33.40,250.29 L33.65,251.97 L33.90,250.77 L34.15,251.50 L34.40,251.42 L34.65,250.73 L34.90,251.54 L35.15,250.22 L35.40,251.02 L35.65,251.51 L35.90,251.92 L36.15,250.51 L36.40,251.10 L36.65,251.14 L36.90,251.19 L37.15,251.08 L37.40,251.65 L37.65,251.38 L37.90,250.68 L38.15,251.48 L38.40,249.88 L38.65,250.69 L38.90,251.66 L39.15,251.85 L39.40,249.98 L39.65,249.92 L39.90,251.79 L40.15,251.61 L40.40,251.02 L40.65,251.87 L40.90,251.96 L41.15,250.50 L41.40,251.96 L41.65,250.66 L41.90,251.07 L42.15,251.27 L42.40,251.23 L42.65,251.64 L42.90,250.10 L43.15,251.67 L43.40,250.24 L43.65,251.70 L43.90,251.97 L44.15,251.84 L44.40,251.51 L44.65,251.00 L44.90,250.86 L45.15,251.10 L45.40,250.66 L45.65,251.49 L45.90,250.29 L46.15,251.94 L46.40,250.55 L46.65,251.33 L46.90,250.53 L47.15,251.67 L47.40,251.94 L47.65,251.97 L47.90,251.80 L48.15,250.60 L48.40,250.19 L48.65,250.68 L48.90,250.47 L49.15,251.05 L49.40,250.32 L49.65,251.68 L49.90,251.42 L50.15,250.45 L50.40,251.86 L50.65,250.50 L50.90,250.27 L51.15,251.79 L51.40,250.42 L51.65,251.66 L51.90,251.74 L52.15,251.96 L52.40,250.37 L52.65,251.27 L52.90,251.85 L53.15,251.29 L53.40,251.72 L53.65,251.36 L53.90,251.91 L54.15,251.28 L54.40,250.85 L54.65,250.49 L54.90,251.95 L55.15,251.42 L55.40,251.27 L55.65,251.77 L55.90,251.31 L56.15,251.20 L56.40,251.81 L56.65,251.77 L56.90,251.72 L57.15,250.80 L57.40,251.28 L57.65,251.94 L57.90,249.57 L58.15,247.17 L58.40,249.24 L58.65,249.99 L58.90,250.08 L59.15,247.43 L59.40,250.55 L59.65,249.92 L59.90,251.33 L60.15,247.60 L60.40,248.92 L60.65,245.90 L60.90,245.90 L61.15,245.90 L61.40,245.90 L61.65,249.78 L61.90,251.31 L62.15,247.24 L62.40,247.41 L62.65,247.06 L62.90,247.06 L63.15,247.06 L63.40,247.06 L63.65,250.58 L63.90,251.07 L64.15,251.41 L64.40,251.45 L64.65,250.67 L64.90,250.30 L65.15,250.72 L65.40,251.20 L65.65,249.73 L65.90,250.53 L66.15,251.62 L66.40,249.39 L66.65,250.06 L66.90,250.08 L67.15,251.79 L67.40,249.59 L67.65,251.27 L67.90,249.98 L68.15,250.95 L68.40,251.89 L68.65,251.09 L68.90,250.59 L69.15,250.27 L69.40,251.89 L69.65,251.21 L69.90,250.85 L70.15,251.32 L70.40,250.46 L70.65,251.49 L70.90,251.90 L71.15,249.70 L71.40,251.57 L71.65,251.03 L71.90,249.71 L72.15,250.57 L72.40,249.64 L72.65,249.51 L72.90,249.56 L73.15,251.33 L73.40,251.86 L73.65,251.69 L73.90,251.74 L74.15,250.46 L74.40,250.78 L74.65,249.39 L74.90,251.89 L75.15,251.27 L75.40,251.34 L75.65,249.91 L75.90,250.52 L76.15,250.43 L76.40,249.45 L76.65,250.14 L76.90,249.64 L77.15,251.54 L77.40,250.57 L77.65,251.57 L77.90,250.59 L78.15,248.12 L78.40,250.23 L78.65,248.07 L78.90,248.08 L79.15,251.29 L79.40,251.08 L79.65,249.95 L79.90,251.00 L80.15,249.04 L80.40,249.21 L80.65,250.79 L80.90,250.35 L81.15,249.70 L81.40,247.42 L81.65,249.95 L81.90,248.95 L82.15,251.35 L82.40,249.48 L82.65,250.76 L82.90,247.06 L83.15,251.35 L83.40,249.41 L83.65,247.74 L83.90,247.74 L84.15,247.65 L84.40,247.74 L84.65,250.65 L84.90,248.76 L85.15,249.86 L85.40,247.75 L85.65,249.60 L85.90,248.15 L86.15,250.74 L86.40,248.80 L86.65,251.07 L86.90,248.82 L87.15,248.03 L87.40,250.36 L87.65,248.42 L87.90,248.42 L88.15,247.96 L88.40,248.13 L88.65,247.39 L88.90,247.33 L89.15,248.97 L89.40,248.08 L89.65,250.51 L89.90,250.25 L90.15,247.47 L90.40,250.65 L90.65,251.47 L90.90,250.04 L91.15,247.65 L91.40,251.53 L91.65,251.51 L91.90,248.56 L92.15,249.26 L92.40,250.70 L92.65,248.59 L92.90,250.58 L93.15,248.32 L93.40,249.89 L93.65,250.74 L93.90,250.42 L94.15,248.89 L94.40,250.67 L94.65,249.19 L94.90,250.68 L95.15,250.91 L95.40,249.62 L95.65,251.46 L95.90,251.09 L96.15,248.63 L96.40,251.29 L96.65,248.19 L96.90,250.52 L97.15,248.22 L97.40,248.11 L97.65,251.00 L97.90,250.76 L98.15,249.59 L98.40,251.35 L98.65,251.34 L98.90,251.20 L99.15,248.59 L99.40,251.56 L99.65,248.18 L99.90,251.56 L100.15,249.67 L100.40,251.00 L100.65,248.55 L100.90,248.59 L101.15,250.81 L101.40,251.55 L101.65,248.89 L101.90,251.02 L102.15,249.17 L102.40,250.92 L102.65,247.57 L102.90,249.13 L103.15,250.77 L103.40,248.96 L103.65,250.63 L103.90,247.06 L104.15,247.06 L104.40,247.06 L104.65,250.24 L104.90,251.17 L105.15,251.16 L105.40,247.68 L105.65,248.72 L105.90,249.54 L106.15,248.07 L106.40,251.48 L106.65,250.98 L106.90,248.03 L107.15,248.16 L107.40,249.93 L107.65,247.83 L107.90,248.00 L108.15,250.53 L108.40,250.77 L108.65,251.00 L108.90,249.78 L109.15,247.75 L109.40,248.02 L109.65,250.71 L109.90,250.68 L110.15,247.89 L110.40,251.33 L110.65,251.54 L110.90,249.30 L111.15,249.11 L111.40,248.18 L111.65,249.62 L111.90,250.15 L112.15,250.89 L112.40,249.86 L112.65,247.06 L112.90,247.06 L113.15,247.06 L113.40,249.40 L113.65,251.29 L113.90,248.44 L114.15,250.03 L114.40,247.97 L114.65,249.19 L114.90,249.35 L115.15,250.11 L115.40,249.98 L115.65,250.75 L115.90,251.21 L116.15,247.92 L116.40,251.45 L116.65,247.63 L116.90,250.91 L117.15,249.22 L117.40,251.47 L117.65,249.38 L117.90,251.24 L118.15,250.68 L118.40,251.36 L118.65,250.24 L118.90,248.80 L119.15,250.61 L119.40,249.31 L119.65,248.57 L119.90,249.05 L120.15,249.59 L120.40,249.93 L120.65,251.10 L120.90,247.58 L121.15,248.93 L121.40,250.37 L121.65,248.75 L121.90,248.42 L122.15,248.42 L122.40,247.55 L122.65,248.37 L122.90,249.18 L123.15,251.47 L123.40,247.52 L123.65,249.81 L123.90,249.14 L124.15,247.89 L124.40,251.42 L124.65,249.30 L124.90,249.23 L125.15,250.15 L125.40,247.78 L125.65,251.52 L125.90,250.71 L126.15,249.79 L126.40,250.68 L126.65,251.12 L126.90,248.96 L127.15,247.90 L127.40,251.40 L127.65,251.18 L127.90,248.74 L128.15,251.42 L128.40,251.53 L128.65,250.18 L128.90,249.54 L129.15,247.72 L129.40,249.67 L129.65,248.39 L129.90,251.52 L130.15,247.46 L130.40,249.20 L130.65,251.46 L130.90,249.78 L131.15,251.04 L131.40,249.22 L131.65,248.43 L131.90,249.46 L132.15,249.01 L132.40,251.42 L132.65,247.48 L132.90,250.72 L133.15,248.39 L133.40,249.38 L133.65,251.02 L133.90,251.06 L134.15,251.46 L134.40,249.53 L134.65,250.83 L134.90,249.69 L135.15,248.52 L135.40,248.19 L135.65,250.88 L135.90,250.21 L136.15,250.46 L136.40,249.13 L136.65,249.91 L136.90,251.50 L137.15,250.49 L137.40,249.29 L137.65,251.26 L137.90,251.19 L138.15,251.50 L138.40,248.05 L138.65,248.31 L138.90,250.77 L139.15,248.06 L139.40,251.26 L139.65,247.87 L139.90,250.93 L140.15,251.44 L140.40,250.55 L140.65,248.93 L140.90,249.67 L141.15,249.59 L141.40,251.45 L141.65,249.82 L141.90,247.62 L142.15,251.50 L142.40,247.92 L142.65,249.10 L142.90,250.41 L143.15,251.10 L143.40,249.57 L143.65,248.55 L143.90,248.70 L144.15,250.39 L144.40,251.03 L144.65,251.52 L144.90,247.81 L145.15,250.91 L145.40,247.48 L145.65,250.35 L145.90,249.64 L146.15,249.47 L146.40,250.76 L146.65,248.65 L146.90,251.37 L147.15,250.23 L147.40,249.38 L147.65,249.10 L147.90,248.61 L148.15,250.34 L148.40,247.48 L148.65,249.63 L148.90,247.86 L149.15,250.50 L149.40,247.80 L149.65,250.58 L149.90,247.54 L150.15,251.31 L150.40,251.53 L150.65,248.84 L150.90,249.39 L151.15,249.86 L151.40,247.98 L151.65,247.56 L151.90,248.39 L152.15,248.76 L152.40,250.05 L152.65,250.43 L152.90,247.67 L153.15,247.55 L153.40,248.65 L153.65,249.47 L153.90,251.21 L154.15,249.91 L154.40,250.59 L154.65,250.07 L154.90,249.26 L155.15,250.22 L155.40,250.28 L155.65,250.38 L155.90,247.72 L156.15,250.67 L156.40,251.30 L156.65,251.03 L156.90,250.47 L157.15,250.39 L157.40,250.84 L157.65,250.28 L157.90,252.02 L158.15,250.40 L158.40,251.54 L158.65,251.06 L158.90,251.11 L159.15,251.07 L159.40,251.76 L159.65,251.74 L159.90,250.07 L160.15,251.32 L160.40,250.90 L160.65,250.49 L160.90,251.79 L161.15,251.39 L161.40,252.00 L161.65,250.84 L161.90,250.83 L162.15,250.65 L162.40,250.86 L162.65,250.00 L162.90,251.97 L163.15,251.74 L163.40,250.27 L163.65,251.96 L163.90,250.16 L164.15,251.99 L164.40,251.14 L164.65,248.42 L164.90,248.42 L165.15,248.42 L165.40,248.42 L165.65,251.09 L165.90,250.48 L166.15,250.63 L166.40,251.51 L166.65,251.00 L166.90,251.74 L167.15,251.91 L167.40,252.01 L167.65,251.14 L167.90,250.47 L168.15,250.28 L168.40,250.80 L168.65,251.93 L168.90,250.48 L169.15,251.79 L169.40,250.70 L169.65,250.44 L169.90,251.27 L170.15,250.44 L170.40,250.57 L170.65,251.80 L170.90,250.35 L171.15,250.19 L171.40,250.16 L171.65,249.96 L171.90,250.70 L172.15,250.25 L172.40,251.70 L172.65,250.41 L172.90,250.13 L173.15,251.94 L173.40,250.75 L173.65,251.71 L173.90,251.07 L174.15,250.26 L174.40,250.06 L174.65,249.10 L174.90,249.10 L175.15,249.10 L175.40,249.10 L175.65,251.80 L175.90,250.08 L176.15,249.94 L176.40,251.91 L176.65,252.01 L176.90,251.65 L177.15,250.25 L177.40,251.69 L177.65,250.71 L177.90,250.60 L178.15,251.99 L178.40,251.77 L178.65,250.53 L178.90,250.86 L179.15,250.25 L179.40,251.42 L179.65,250.09 L179.90,250.18 L180.15,250.13 L180.40,250.71 L180.65,250.85 L180.90,251.09 L181.15,250.82 L181.40,250.12 L181.65,251.24 L181.90,250.39 L182.15,251.45 L182.40,251.94 L182.65,251.19 L182.90,250.97 L183.15,251.19 L183.40,250.87 L183.65,251.54 L183.90,250.98 L184.15,251.24 L184.40,250.32 L184.65,250.92 L184.90,251.85 L185.15,250.95 L185.40,250.94 L185.65,250.29 L185.90,250.17 L186.15,251.40 L186.40,252.02 L186.65,251.40 L186.90,250.76 L187.15,250.09 L187.40,247.17 L187.65,249.01 L187.90,251.08 L188.15,251.35 L188.40,249.54 L188.65,247.55 L188.90,250.31 L189.15,250.86 L189.40,250.84 L189.65,249.59 L189.90,250.75 L190.15,249.82 L190.40,250.99 L190.65,248.32 L190.90,248.31 L191.15,250.79 L191.40,250.91 L191.65,248.26 L191.90,248.14 L192.15,247.91 L192.40,249.39 L192.65,251.36 L192.90,250.71 L193.15,248.91 L193.40,250.92 L193.65,246.95 L193.90,251.39 L194.15,248.16 L194.40,247.62 L194.65,248.41 L194.90,249.65 L195.15,247.57 L195.40,250.31 L195.65,251.23 L195.90,250.74 L196.15,248.16 L196.40,246.70 L196.65,250.77 L196.90,247.07 L197.15,247.83 L197.40,250.29 L197.65,247.62 L197.90,247.04 L198.15,249.55 L198.40,251.15 L198.65,247.55 L198.90,250.75 L199.15,249.57 L199.40,250.99 L199.65,247.60 L199.90,250.82 L200.15,246.63 L200.40,248.07 L200.65,250.41 L200.90,248.77 L201.15,248.72 L201.40,249.08 L201.65,251.28 L201.90,251.89 L202.15,249.75 L202.40,249.89 L202.65,251.87 L202.90,250.57 L203.15,251.00 L203.40,250.99 L203.65,251.89 L203.90,250.68 L204.15,251.02 L204.40,251.65 L204.65,246.82 L204.90,244.31 L205.15,244.46 L205.40,250.25 L205.65,250.94 L205.90,245.23 L206.15,249.17 L206.40,246.30 L206.65,248.02 L206.90,249.87 L207.15,247.03 L207.40,244.29 L207.65,245.02 L207.90,245.02 L208.15,245.02 L208.40,245.81 L208.65,247.71 L208.90,250.59 L209.15,249.82 L209.40,245.82 L209.65,246.38 L209.90,246.26 L210.15,246.38 L210.40,246.38 L210.65,248.21 L210.90,249.57 L211.15,247.02 L211.40,244.53 L211.65,250.68 L211.90,245.24 L212.15,249.93 L212.40,250.61 L212.65,250.46 L212.90,250.79 L213.15,250.89 L213.40,250.66 L213.65,250.86 L213.90,251.66 L214.15,250.78 L214.40,250.68 L214.65,250.04 L214.90,251.00 L215.15,250.85 L215.40,251.42 L215.65,250.27 L215.90,250.20 L216.15,250.40 L216.40,251.54 L216.65,251.62 L216.90,250.09 L217.15,251.52 L217.40,251.84 L217.65,251.96 L217.90,250.56 L218.15,251.01 L218.40,250.95 L218.65,251.93 L218.90,251.85 L219.15,250.29 L219.40,251.51 L219.65,251.89 L219.90,251.23 L220.15,251.61 L220.40,250.83 L220.65,251.68 L220.90,251.94 L221.15,250.31 L221.40,250.01 L221.65,251.84 L221.90,250.91 L222.15,251.18 L222.40,251.82 L222.65,250.40 L222.90,251.87 L223.15,250.17 L223.40,250.92 L223.65,250.93 L223.90,250.82 L224.15,250.56 L224.40,250.29 L224.65,250.05 L224.90,251.61 L225.15,251.98 L225.40,250.39 L225.65,250.00 L225.90,249.95 L226.15,250.54 L226.40,251.16 L226.65,251.56 L226.90,251.03 L227.15,251.60 L227.40,250.75 L227.65,251.46 L227.90,251.75 L228.15,249.97 L228.40,249.97 L228.65,250.69 L228.90,250.86 L229.15,250.84 L229.40,251.85 L229.65,251.32 L229.90,251.45 L230.15,250.42 L230.40,251.23 L230.65,250.75 L230.90,251.72 L231.15,251.44 L231.40,250.30 L231.65,251.24 L231.90,250.82 L232.15,251.10 L232.40,251.26 L232.65,251.68 L232.90,251.96 L233.15,250.51 L233.40,250.65 L233.65,250.88 L233.90,251.58 L234.15,251.94 L234.40,251.81 L234.65,250.35 L234.90,250.54 L235.15,251.36 L235.40,250.48 L235.65,250.16 L235.90,251.36 L236.15,251.78 L236.40,250.60 L236.65,250.14 L236.90,251.90 L237.15,251.88 L237.40,251.68 L237.65,251.36 L237.90,251.33 L238.15,252.02 L238.40,251.04 L238.65,251.75 L238.90,250.66 L239.15,251.56 L239.40,251.99 L239.65,250.95 L239.90,251.41 L240.15,250.09 L240.40,250.75 L240.65,252.01 L240.90,249.93 L241.15,251.68 L241.40,251.92 L241.65,251.94 L241.90,251.18 L242.15,251.53 L242.40,251.61 L242.65,251.38 L242.90,251.12 L243.15,251.80 L243.40,251.65 L243.65,250.75 L243.90,251.23 L244.15,251.82 L244.40,250.25 L244.65,250.61 L244.90,251.40 L245.15,251.71 L245.40,250.63 L245.65,251.86 L245.90,251.53 L246.15,250.20 L246.40,251.13 L246.65,250.21 L246.90,250.19 L247.15,249.64 L247.40,249.39 L247.65,251.67 L247.90,248.34 L248.15,249.91 L248.40,250.50 L248.65,249.52 L248.90,248.36 L249.15,250.28 L249.40,249.13 L249.65,251.05 L249.90,249.38 L250.15,249.48 L250.40,251.51 L250.65,250.52 L250.90,250.30 L251.15,251.21 L251.40,249.96 L251.65,248.31 L251.90,248.65 L252.15,251.39 L252.40,249.95 L252.65,251.37 L252.90,251.23 L253.15,248.35 L253.40,250.80 L253.65,251.26 L253.90,250.16 L254.15,250.88 L254.40,249.71 L254.65,249.54 L254.90,249.50 L255.15,249.27 L255.40,250.05 L255.65,249.59 L255.90,249.31 L256.15,249.96 L256.40,250.41 L256.65,250.18 L256.90,251.70 L257.15,251.63 L257.40,251.72 L257.65,248.63 L257.90,249.75 L258.15,248.48 L258.40,249.37 L258.65,250.87 L258.90,250.90 L259.15,250.08 L259.40,251.30 L259.65,249.51 L259.90,247.06 L260.15,247.06 L260.40,247.06 L260.65,247.06 L260.90,248.77 L261.15,251.39 L261.40,248.48 L261.65,248.37 L261.90,248.81 L262.15,251.38 L262.40,249.40 L262.65,247.74 L262.90,247.74 L263.15,247.74 L263.40,247.74 L263.65,248.66 L263.90,251.00 L264.15,251.72 L264.40,251.15 L264.65,249.49 L264.90,249.34 L265.15,248.88 L265.40,250.20 L265.65,251.00 L265.90,251.94 L266.15,251.40 L266.40,251.24 L266.65,252.00 L266.90,251.62 L267.15,251.37 L267.40,252.11 L267.65,250.66 L267.90,251.88 L268.15,251.43 L268.40,251.89 L268.65,250.82 L268.90,252.07 L269.15,251.03 L269.40,251.60 L269.65,252.00 L269.90,250.71 L270.15,250.96 L270.40,251.18 L270.65,251.19 L270.90,251.57 L271.15,251.57 L271.40,251.65 L271.65,252.12 L271.90,251.20 L272.15,251.86 L272.40,251.43 L272.65,250.64 L272.90,251.59 L273.15,251.86 L273.40,250.84 L273.65,251.83 L273.90,251.90 L274.15,251.04 L274.40,252.06 L274.65,251.38 L274.90,250.72 L275.15,251.73 L275.40,252.27 L275.65,251.90 L275.90,251.57 L276.15,251.53 L276.40,252.19 L276.65,251.57 L276.90,251.94 L277.15,251.83 L277.40,252.04 L277.65,251.94 L277.90,251.78 L278.15,251.66 L278.40,251.56 L278.65,252.00 L278.90,252.29 L279.15,252.16 L279.40,251.65 L279.65,252.27 L279.90,251.78 L280.15,252.20 L280.40,251.77 L280.65,252.04 L280.90,251.60 L281.15,251.63 L281.40,252.30 L281.65,252.16 L281.90,252.24 L282.15,251.96 L282.40,251.75 L282.65,252.29 L282.90,251.50 L283.15,252.28 L283.40,251.86 L283.65,252.02 L283.90,252.14 L284.15,251.82 L284.40,252.24 L284.65,251.82 L284.90,252.27 L285.15,252.02 L285.40,252.22 L285.65,252.20 L285.90,252.25 L286.15,251.52 L286.40,251.64 L286.65,252.19 L286.90,251.72 L287.15,251.79 L287.40,251.64 L287.65,251.80 L287.90,251.86 L288,252.5 Z" fill="#f3a60c"/>
<line x1="18" y1="95.8" x2="296.7" y2="95.8" stroke="#222" stroke-width="0.9"/>
<text x="14.5" y="72.3" font-size="2.6" text-anchor="start" fill="#999" stroke="#999" stroke-width="0.14">50.0</text>
<text x="16.5" y="96.6" font-size="2.6" text-anchor="start" fill="#999" stroke="#999" stroke-width="0.14">0</text>
<text x="257.5" y="74.9" font-size="5.7" text-anchor="start" fill="#222" stroke="#222" stroke-width="0.14">H3K9/14Ac</text>
<line x1="18" y1="126.3" x2="296.7" y2="126.3" stroke="#222" stroke-width="0.9"/>
<text x="14.5" y="102.8" font-size="2.6" text-anchor="start" fill="#999" stroke="#999" stroke-width="0.14">50.0</text>
<text x="16.5" y="127.1" font-size="2.6" text-anchor="start" fill="#999" stroke="#999" stroke-width="0.14">0</text>
<text x="257.5" y="105.4" font-size="5.7" text-anchor="start" fill="#222" stroke="#222" stroke-width="0.14">H3K27Me3</text>
<line x1="18" y1="157.9" x2="296.7" y2="157.9" stroke="#222" stroke-width="0.9"/>
<text x="14.5" y="134.4" font-size="2.6" text-anchor="start" fill="#999" stroke="#999" stroke-width="0.14">50.0</text>
<text x="16.5" y="158.70000000000002" font-size="2.6" text-anchor="start" fill="#999" stroke="#999" stroke-width="0.14">0</text>
<text x="257.5" y="137.0" font-size="5.7" text-anchor="start" fill="#222" stroke="#222" stroke-width="0.14">H3K9/14Ac</text>
<line x1="18" y1="189.6" x2="296.7" y2="189.6" stroke="#222" stroke-width="0.9"/>
<text x="14.5" y="166.1" font-size="2.6" text-anchor="start" fill="#999" stroke="#999" stroke-width="0.14">50.0</text>
<text x="16.5" y="190.4" font-size="2.6" text-anchor="start" fill="#999" stroke="#999" stroke-width="0.14">0</text>
<text x="257.5" y="168.7" font-size="5.7" text-anchor="start" fill="#222" stroke="#222" stroke-width="0.14">H3K27Me3</text>
<line x1="18" y1="220.9" x2="296.7" y2="220.9" stroke="#222" stroke-width="0.9"/>
<text x="14.5" y="197.4" font-size="2.6" text-anchor="start" fill="#999" stroke="#999" stroke-width="0.14">50.0</text>
<text x="16.5" y="221.70000000000002" font-size="2.6" text-anchor="start" fill="#999" stroke="#999" stroke-width="0.14">0</text>
<text x="257.5" y="200.0" font-size="5.7" text-anchor="start" fill="#222" stroke="#222" stroke-width="0.14">H3K9/14Ac</text>
<line x1="18" y1="252.5" x2="296.7" y2="252.5" stroke="#222" stroke-width="0.9"/>
<text x="14.5" y="229.0" font-size="2.6" text-anchor="start" fill="#999" stroke="#999" stroke-width="0.14">50.0</text>
<text x="16.5" y="253.3" font-size="2.6" text-anchor="start" fill="#999" stroke="#999" stroke-width="0.14">0</text>
<text x="257.5" y="231.6" font-size="5.7" text-anchor="start" fill="#222" stroke="#222" stroke-width="0.14">H3K27Me3</text>
<rect x="20.5" y="2.5" width="276.2" height="256" fill="none" stroke="#333" stroke-width="0.9"/>
<line x1="20.5" y1="25.3" x2="296.7" y2="25.3" stroke="#222" stroke-width="0.9"/>
<line x1="11.4" y1="67.5" x2="11.4" y2="123.3" stroke="#222" stroke-width="0.9"/>
<text x="8.3" y="96.5" font-size="6.4" text-anchor="middle" fill="#111" stroke="#111" stroke-width="0.14" transform="rotate(-90 8.3 96.5)">CD34</text>
<line x1="11.4" y1="130.9" x2="11.4" y2="184.4" stroke="#222" stroke-width="0.9"/>
<text x="8.3" y="158.9" font-size="6.4" text-anchor="middle" fill="#111" stroke="#111" stroke-width="0.14" transform="rotate(-90 8.3 158.9)">Neutrophil</text>
<line x1="11.4" y1="193.6" x2="11.4" y2="253" stroke="#222" stroke-width="0.9"/>
<text x="8.3" y="222.4" font-size="6.4" text-anchor="middle" fill="#111" stroke="#111" stroke-width="0.14" transform="rotate(-90 8.3 222.4)">T - cell</text>
<text x="104.2" y="264.2" font-size="5.3" text-anchor="middle" fill="#333" stroke="#333" stroke-width="0.14">DP</text>
<text x="196.2" y="264.2" font-size="5.3" text-anchor="middle" fill="#333" stroke="#333" stroke-width="0.14">PP</text>
<text x="208" y="264.2" font-size="5.3" text-anchor="middle" fill="#333" stroke="#333" stroke-width="0.14">+85</text>
<text x="322" y="9.2" font-size="10.8" text-anchor="start" fill="#000" font-weight="bold">B</text>
<line x1="357.6" y1="2.719999999999999" x2="360.3" y2="2.719999999999999" stroke="#000" stroke-width="1"/>
<text x="356.6" y="5.019999999999999" font-size="6.4" text-anchor="end" fill="#000" stroke="#000" stroke-width="0.14">6</text>
<line x1="357.6" y1="11.439999999999998" x2="360.3" y2="11.439999999999998" stroke="#000" stroke-width="1"/>
<text x="356.6" y="13.739999999999998" font-size="6.4" text-anchor="end" fill="#000" stroke="#000" stroke-width="0.14">5</text>
<line x1="357.6" y1="20.16" x2="360.3" y2="20.16" stroke="#000" stroke-width="1"/>
<text x="356.6" y="22.46" font-size="6.4" text-anchor="end" fill="#000" stroke="#000" stroke-width="0.14">4</text>
<line x1="357.6" y1="28.880000000000003" x2="360.3" y2="28.880000000000003" stroke="#000" stroke-width="1"/>
<text x="356.6" y="31.180000000000003" font-size="6.4" text-anchor="end" fill="#000" stroke="#000" stroke-width="0.14">3</text>
<line x1="357.6" y1="37.6" x2="360.3" y2="37.6" stroke="#000" stroke-width="1"/>
<text x="356.6" y="39.9" font-size="6.4" text-anchor="end" fill="#000" stroke="#000" stroke-width="0.14">2</text>
<line x1="358.6" y1="94.5" x2="360.3" y2="94.5" stroke="#000" stroke-width="0.9"/>
<line x1="358.6" y1="84.7" x2="360.3" y2="84.7" stroke="#000" stroke-width="0.9"/>
<line x1="358.6" y1="74.9" x2="360.3" y2="74.9" stroke="#000" stroke-width="0.9"/>
<line x1="358.6" y1="65.10000000000001" x2="360.3" y2="65.10000000000001" stroke="#000" stroke-width="0.9"/>
<line x1="358.6" y1="55.300000000000004" x2="360.3" y2="55.300000000000004" stroke="#000" stroke-width="0.9"/>
<line x1="357.6" y1="50.400000000000006" x2="360.3" y2="50.400000000000006" stroke="#000" stroke-width="1"/>
<text x="356.6" y="52.7" font-size="6.4" text-anchor="end" fill="#000" stroke="#000" stroke-width="0.14">0.5</text>
<line x1="357.6" y1="60.2" x2="360.3" y2="60.2" stroke="#000" stroke-width="1"/>
<text x="356.6" y="62.5" font-size="6.4" text-anchor="end" fill="#000" stroke="#000" stroke-width="0.14">0.4</text>
<line x1="357.6" y1="70.0" x2="360.3" y2="70.0" stroke="#000" stroke-width="1"/>
<text x="356.6" y="72.3" font-size="6.4" text-anchor="end" fill="#000" stroke="#000" stroke-width="0.14">0.3</text>
<line x1="357.6" y1="79.80000000000001" x2="360.3" y2="79.80000000000001" stroke="#000" stroke-width="1"/>
<text x="356.6" y="82.10000000000001" font-size="6.4" text-anchor="end" fill="#000" stroke="#000" stroke-width="0.14">0.2</text>
<line x1="357.6" y1="89.60000000000001" x2="360.3" y2="89.60000000000001" stroke="#000" stroke-width="1"/>
<text x="356.6" y="91.9" font-size="6.4" text-anchor="end" fill="#000" stroke="#000" stroke-width="0.14">0.1</text>
<line x1="357.6" y1="99.4" x2="360.3" y2="99.4" stroke="#000" stroke-width="1"/>
<text x="356.6" y="101.7" font-size="6.4" text-anchor="end" fill="#000" stroke="#000" stroke-width="0.14">0</text>
<text x="340.7" y="51" font-size="6.4" text-anchor="middle" fill="#000" stroke="#000" stroke-width="0.14" transform="rotate(-90 340.7 51)">Relative ERG mRNA expression</text>
<line x1="366.5" y1="30.5" x2="366.5" y2="35.5" stroke="#000" stroke-width="0.9"/>
<line x1="364.3" y1="30.5" x2="368.7" y2="30.5" stroke="#000" stroke-width="0.9"/>
<rect x="362.7" y="35.5" width="7.600000000000023" height="63.900000000000006" fill="#fff" stroke="#000" stroke-width="0.9"/>
<rect x="362.7" y="68.5" width="7.600000000000023" height="30.900000000000006" fill="#000" stroke="none" stroke-width="1"/>
<line x1="379.35" y1="6.2" x2="379.35" y2="25.4" stroke="#000" stroke-width="0.9"/>
<line x1="377.15000000000003" y1="6.2" x2="381.55" y2="6.2" stroke="#000" stroke-width="0.9"/>
<rect x="375.5" y="25.4" width="7.699999999999989" height="74.0" fill="#fff" stroke="#000" stroke-width="0.9"/>
<rect x="375.5" y="48.4" width="7.699999999999989" height="51.00000000000001" fill="#000" stroke="none" stroke-width="1"/>
<line x1="392.20000000000005" y1="27.4" x2="392.20000000000005" y2="32.4" stroke="#000" stroke-width="0.9"/>
<line x1="390.00000000000006" y1="27.4" x2="394.40000000000003" y2="27.4" stroke="#000" stroke-width="0.9"/>
<rect x="388.1" y="32.4" width="8.199999999999989" height="67.0" fill="#fff" stroke="#000" stroke-width="0.9"/>
<rect x="388.1" y="65.4" width="8.199999999999989" height="34.0" fill="#000" stroke="none" stroke-width="1"/>
<rect x="413.2" y="98.10000000000001" width="8.800000000000011" height="1.3" fill="#000" stroke="#000" stroke-width="0.7"/>
<rect x="427" y="98.10000000000001" width="8.699999999999989" height="1.3" fill="#000" stroke="#000" stroke-width="0.7"/>
<rect x="440.2" y="96.80000000000001" width="8.600000000000023" height="2.6" fill="#fff" stroke="#000" stroke-width="0.7"/>
<rect x="453.2" y="97.60000000000001" width="8.600000000000023" height="1.8" fill="#555" stroke="#000" stroke-width="0.7"/>
<line x1="360.5" y1="2.5" x2="360.5" y2="100" stroke="#000" stroke-width="2.0"/>
<line x1="359.5" y1="99.7" x2="515.5" y2="99.7" stroke="#000" stroke-width="1.4"/>
<line x1="366.5" y1="99.7" x2="366.5" y2="102.5" stroke="#000" stroke-width="0.8"/>
<line x1="379.3" y1="99.7" x2="379.3" y2="102.5" stroke="#000" stroke-width="0.8"/>
<line x1="392.2" y1="99.7" x2="392.2" y2="102.5" stroke="#000" stroke-width="0.8"/>
<line x1="418.5" y1="99.7" x2="418.5" y2="102.5" stroke="#000" stroke-width="0.8"/>
<line x1="432" y1="99.7" x2="432" y2="102.5" stroke="#000" stroke-width="0.8"/>
<line x1="444.5" y1="99.7" x2="444.5" y2="102.5" stroke="#000" stroke-width="0.8"/>
<line x1="457.5" y1="99.7" x2="457.5" y2="102.5" stroke="#000" stroke-width="0.8"/>
<line x1="483" y1="99.7" x2="483" y2="102.5" stroke="#000" stroke-width="0.8"/>
<line x1="495.8" y1="99.7" x2="495.8" y2="102.5" stroke="#000" stroke-width="0.8"/>
<line x1="508.5" y1="99.7" x2="508.5" y2="102.5" stroke="#000" stroke-width="0.8"/>
<line x1="360" y1="106.3" x2="400" y2="106.3" stroke="#333" stroke-width="0.9"/>
<text x="380.0" y="115" font-size="6.3" text-anchor="middle" fill="#222" stroke="#222" stroke-width="0.14">CD34</text>
<line x1="410.4" y1="106.3" x2="465" y2="106.3" stroke="#333" stroke-width="0.9"/>
<text x="437.7" y="115" font-size="6.3" text-anchor="middle" fill="#222" stroke="#222" stroke-width="0.14">Neutrophil</text>
<line x1="475.7" y1="106.3" x2="515.5" y2="106.3" stroke="#333" stroke-width="0.9"/>
<text x="495.6" y="115" font-size="6.3" text-anchor="middle" fill="#222" stroke="#222" stroke-width="0.14">T-cell</text>
<rect x="492" y="2.4" width="10" height="6.3" fill="#000" stroke="none" stroke-width="1"/>
<rect x="492.5" y="12.5" width="9.2" height="5.8" fill="#fff" stroke="#222" stroke-width="0.9" rx="1"/>
<text x="507" y="8.3" font-size="7" text-anchor="start" fill="#000" stroke="#000" stroke-width="0.14">DP</text>
<text x="507" y="18" font-size="7" text-anchor="start" fill="#000" stroke="#000" stroke-width="0.14">PP</text>
<text x="322.1" y="137.6" font-size="11.2" text-anchor="start" fill="#000" font-weight="bold">C</text>
<line x1="358.6" y1="227.70000000000002" x2="446.80000000000007" y2="222.50000000000003" stroke="#b4b4b4" stroke-width="0.65" stroke-dasharray="0.8,1.3"/>
<line x1="446.80000000000007" y1="222.50000000000003" x2="514.2" y2="229.60000000000002" stroke="#b4b4b4" stroke-width="0.65" stroke-dasharray="0.8,1.3"/>
<line x1="358.6" y1="215.0" x2="446.80000000000007" y2="209.8" stroke="#b4b4b4" stroke-width="0.65" stroke-dasharray="0.8,1.3"/>
<line x1="446.80000000000007" y1="209.8" x2="514.2" y2="216.9" stroke="#b4b4b4" stroke-width="0.65" stroke-dasharray="0.8,1.3"/>
<line x1="358.6" y1="202.3" x2="446.80000000000007" y2="197.10000000000002" stroke="#b4b4b4" stroke-width="0.65" stroke-dasharray="0.8,1.3"/>
<line x1="446.80000000000007" y1="197.10000000000002" x2="514.2" y2="204.20000000000002" stroke="#b4b4b4" stroke-width="0.65" stroke-dasharray="0.8,1.3"/>
<line x1="358.6" y1="189.6" x2="446.80000000000007" y2="184.4" stroke="#b4b4b4" stroke-width="0.65" stroke-dasharray="0.8,1.3"/>
<line x1="446.80000000000007" y1="184.4" x2="514.2" y2="191.5" stroke="#b4b4b4" stroke-width="0.65" stroke-dasharray="0.8,1.3"/>
<line x1="358.6" y1="176.9" x2="446.80000000000007" y2="171.70000000000002" stroke="#b4b4b4" stroke-width="0.65" stroke-dasharray="0.8,1.3"/>
<line x1="446.80000000000007" y1="171.70000000000002" x2="514.2" y2="178.8" stroke="#b4b4b4" stroke-width="0.65" stroke-dasharray="0.8,1.3"/>
<line x1="358.6" y1="164.2" x2="446.80000000000007" y2="159.0" stroke="#b4b4b4" stroke-width="0.65" stroke-dasharray="0.8,1.3"/>
<line x1="446.80000000000007" y1="159.0" x2="514.2" y2="166.10000000000002" stroke="#b4b4b4" stroke-width="0.65" stroke-dasharray="0.8,1.3"/>
<line x1="358.6" y1="151.5" x2="446.80000000000007" y2="146.3" stroke="#b4b4b4" stroke-width="0.65" stroke-dasharray="0.8,1.3"/>
<line x1="446.80000000000007" y1="146.3" x2="514.2" y2="153.40000000000003" stroke="#b4b4b4" stroke-width="0.65" stroke-dasharray="0.8,1.3"/>
<line x1="380.65000000000003" y1="150.20000000000005" x2="380.65000000000003" y2="239.10000000000002" stroke="#b4b4b4" stroke-width="0.65" stroke-dasharray="0.8,1.3"/>
<line x1="402.70000000000005" y1="148.90000000000003" x2="402.70000000000005" y2="237.8" stroke="#b4b4b4" stroke-width="0.65" stroke-dasharray="0.8,1.3"/>
<line x1="424.75000000000006" y1="147.60000000000002" x2="424.75000000000006" y2="236.50000000000003" stroke="#b4b4b4" stroke-width="0.65" stroke-dasharray="0.8,1.3"/>
<line x1="446.80000000000007" y1="146.3" x2="446.80000000000007" y2="235.20000000000002" stroke="#b4b4b4" stroke-width="0.65" stroke-dasharray="0.8,1.3"/>
<line x1="463.6500000000001" y1="148.07500000000005" x2="463.6500000000001" y2="236.97500000000002" stroke="#b4b4b4" stroke-width="0.65" stroke-dasharray="0.8,1.3"/>
<line x1="480.50000000000006" y1="149.85000000000002" x2="480.50000000000006" y2="238.75" stroke="#b4b4b4" stroke-width="0.65" stroke-dasharray="0.8,1.3"/>
<line x1="497.35" y1="151.625" x2="497.35" y2="240.525" stroke="#b4b4b4" stroke-width="0.65" stroke-dasharray="0.8,1.3"/>
<line x1="514.2" y1="153.40000000000003" x2="514.2" y2="242.3" stroke="#b4b4b4" stroke-width="0.65" stroke-dasharray="0.8,1.3"/>
<line x1="409.15" y1="245.725" x2="497.35" y2="240.525" stroke="#c4c4c4" stroke-width="0.6" stroke-dasharray="0.8,1.3"/>
<line x1="448.05" y1="246.2" x2="380.65000000000003" y2="239.10000000000002" stroke="#c4c4c4" stroke-width="0.6" stroke-dasharray="0.8,1.3"/>
<line x1="392.3" y1="243.95" x2="480.50000000000006" y2="238.75" stroke="#c4c4c4" stroke-width="0.6" stroke-dasharray="0.8,1.3"/>
<line x1="470.1" y1="244.9" x2="402.70000000000005" y2="237.8" stroke="#c4c4c4" stroke-width="0.6" stroke-dasharray="0.8,1.3"/>
<line x1="375.45000000000005" y1="242.175" x2="463.6500000000001" y2="236.97500000000002" stroke="#c4c4c4" stroke-width="0.6" stroke-dasharray="0.8,1.3"/>
<line x1="492.15000000000003" y1="243.60000000000002" x2="424.75000000000006" y2="236.50000000000003" stroke="#c4c4c4" stroke-width="0.6" stroke-dasharray="0.8,1.3"/>
<line x1="356.4" y1="151.3" x2="358.6" y2="151.3" stroke="#000" stroke-width="0.9"/>
<text x="355.6" y="153.60000000000002" font-size="6.4" text-anchor="end" fill="#000" stroke="#000" stroke-width="0.14">0.7</text>
<line x1="356.4" y1="164.0" x2="358.6" y2="164.0" stroke="#000" stroke-width="0.9"/>
<text x="355.6" y="166.3" font-size="6.4" text-anchor="end" fill="#000" stroke="#000" stroke-width="0.14">0.6</text>
<line x1="356.4" y1="176.7" x2="358.6" y2="176.7" stroke="#000" stroke-width="0.9"/>
<text x="355.6" y="179.0" font-size="6.4" text-anchor="end" fill="#000" stroke="#000" stroke-width="0.14">0.5</text>
<line x1="356.4" y1="189.39999999999998" x2="358.6" y2="189.39999999999998" stroke="#000" stroke-width="0.9"/>
<text x="355.6" y="191.7" font-size="6.4" text-anchor="end" fill="#000" stroke="#000" stroke-width="0.14">0.4</text>
<line x1="356.4" y1="202.1" x2="358.6" y2="202.1" stroke="#000" stroke-width="0.9"/>
<text x="355.6" y="204.4" font-size="6.4" text-anchor="end" fill="#000" stroke="#000" stroke-width="0.14">0.3</text>
<line x1="356.4" y1="214.79999999999998" x2="358.6" y2="214.79999999999998" stroke="#000" stroke-width="0.9"/>
<text x="355.6" y="217.1" font-size="6.4" text-anchor="end" fill="#000" stroke="#000" stroke-width="0.14">0.2</text>
<line x1="356.4" y1="227.5" x2="358.6" y2="227.5" stroke="#000" stroke-width="0.9"/>
<text x="355.6" y="229.8" font-size="6.4" text-anchor="end" fill="#000" stroke="#000" stroke-width="0.14">0.1</text>
<text x="354.6" y="244.7" font-size="6.4" text-anchor="end" fill="#000" stroke="#000" stroke-width="0.14">0</text>
<line x1="358.6" y1="150.5" x2="358.6" y2="240.7" stroke="#000" stroke-width="1.3"/>
<polyline points="358.6,240.4 426,247.5 514.2,242.3" fill="none" stroke="#000" stroke-width="1.3"/>
<line x1="358.6" y1="240.4" x2="358.6" y2="242.6" stroke="#000" stroke-width="0.8"/>
<text x="358.6" y="249.5" font-size="6.4" text-anchor="middle" fill="#000" stroke="#000" stroke-width="0.14">0.8</text>
<line x1="376" y1="242.23293768545994" x2="376" y2="244.43293768545993" stroke="#000" stroke-width="0.8"/>
<text x="376" y="251.4" font-size="6.4" text-anchor="middle" fill="#000" stroke="#000" stroke-width="0.14">0.6</text>
<line x1="392.4" y1="243.96053412462908" x2="392.4" y2="246.16053412462907" stroke="#000" stroke-width="0.8"/>
<text x="392.4" y="253.4" font-size="6.4" text-anchor="middle" fill="#000" stroke="#000" stroke-width="0.14">0.4</text>
<line x1="409.7" y1="245.78293768545996" x2="409.7" y2="247.98293768545994" stroke="#000" stroke-width="0.8"/>
<text x="409.7" y="255.4" font-size="6.4" text-anchor="middle" fill="#000" stroke="#000" stroke-width="0.14">0.2</text>
<line x1="426" y1="247.5" x2="426" y2="249.7" stroke="#000" stroke-width="0.8"/>
<text x="426" y="256.4" font-size="6.4" text-anchor="middle" fill="#000" stroke="#000" stroke-width="0.14">0</text>
<line x1="448.8" y1="246.15578231292517" x2="448.8" y2="248.35578231292516" stroke="#000" stroke-width="0.8"/>
<text x="448.8" y="255.1" font-size="6.4" text-anchor="middle" fill="#000" stroke="#000" stroke-width="0.14">0.2</text>
<line x1="470.4" y1="244.88231292517008" x2="470.4" y2="247.08231292517007" stroke="#000" stroke-width="0.8"/>
<text x="470.4" y="253.5" font-size="6.4" text-anchor="middle" fill="#000" stroke="#000" stroke-width="0.14">0.4</text>
<line x1="492.7" y1="243.56757369614513" x2="492.7" y2="245.76757369614512" stroke="#000" stroke-width="0.8"/>
<text x="492.7" y="252.0" font-size="6.4" text-anchor="middle" fill="#000" stroke="#000" stroke-width="0.14">0.6</text>
<line x1="514.2" y1="242.3" x2="514.2" y2="244.5" stroke="#000" stroke-width="0.8"/>
<text x="514.2" y="250.9" font-size="6.4" text-anchor="middle" fill="#000" stroke="#000" stroke-width="0.14">0.8</text>
<text x="384" y="264" font-size="6.4" text-anchor="middle" fill="#222" stroke="#222" stroke-width="0.14">K9 PP</text>
<text x="473" y="264.3" font-size="6.4" text-anchor="middle" fill="#222" stroke="#222" stroke-width="0.14">K27 DP</text>
<text x="342.2" y="190" font-size="6.4" text-anchor="middle" fill="#222" stroke="#222" stroke-width="0.14" transform="rotate(-90 342.2 190)">K9 +85</text>
<text x="364" y="153.2" font-size="5.75" text-anchor="start" fill="#222" stroke="#222" stroke-width="0.14">CD34</text>
<text x="465" y="156.6" font-size="5.9" text-anchor="start" fill="#222" stroke="#222" stroke-width="0.14">Neutrophil</text>
<text x="433.2" y="238.5" font-size="5.6" text-anchor="start" fill="#222" stroke="#222" stroke-width="0.14">T-cell</text>
<text x="469.5" y="146.2" font-size="4.1" text-anchor="start" fill="#222" stroke="#222" stroke-width="0.14">(K27 DP, K9 PP, K9 +85)</text>
<path d="M393.4,148.60000000000002 L400.6,148.60000000000002 L397,154.72 Z" fill="#eee22a" stroke="#4e4a0c" stroke-width="1.1" stroke-linejoin="round"/>
<path d="M378.67999999999995,154.4 L384.46,157.8 L378.67999999999995,161.20000000000002 Z" fill="#000" stroke="none" stroke-width="0.7"/>
<circle cx="399.9" cy="169.9" r="3.6" fill="#c8142e" stroke="#650a14" stroke-width="1.0"/>
<path d="M392,192.8 L395.7,196.5 L392,200.2 L388.3,196.5 Z" fill="#2d5f9e" stroke="#142f55" stroke-width="1.0"/>
<rect x="427.2" y="212.2" width="5.6" height="5.6" fill="#2c8a42" stroke="#123f1c" stroke-width="1.0"/>
<path d="M465.56,157.7 L471.17,161 L465.56,164.3 Z" fill="#6a3c80" stroke="#2e1444" stroke-width="0.7"/>
<path d="M433.64,240.9 L438.23,243.6 L433.64,246.29999999999998 Z" fill="#e8c818" stroke="#6a5a10" stroke-width="0.7"/>
<text x="402" y="151" font-size="4.15" text-anchor="start" fill="#4a4a4a" stroke="#4a4a4a" stroke-width="0.14">(0.25, 0.66, 0.68)</text>
<text x="386.8" y="159.1" font-size="4.1" text-anchor="start" fill="#4a4a4a" stroke="#4a4a4a" stroke-width="0.14">(0.08, 0.64, 0.65)</text>
<text x="405.3" y="171.5" font-size="4.3" text-anchor="start" fill="#4a4a4a" stroke="#4a4a4a" stroke-width="0.14">(0.27, 0.66, 0.55)</text>
<text x="397" y="198.1" font-size="4.25" text-anchor="start" fill="#4a4a4a" stroke="#4a4a4a" stroke-width="0.14">(0.13, 0.58, 0.36)</text>
<text x="435.5" y="216.6" font-size="4.25" text-anchor="start" fill="#4a4a4a" stroke="#4a4a4a" stroke-width="0.14">(0.16, 0.16, 0.24)</text>
<text x="474" y="162.4" font-size="4.27" text-anchor="start" fill="#333" stroke="#333" stroke-width="0.14">(0.75, 0.49, 0.61)</text>
<text x="439.5" y="244.4" font-size="4.4" text-anchor="start" fill="#aaa" stroke="#aaa" stroke-width="0.14">(0.13, 0.00, 0.00)</text>
<text x="0.5" y="280.1" font-size="10.8" text-anchor="start" fill="#000" font-weight="bold">D</text>
<line x1="19.7" y1="389.3" x2="238.2" y2="389.3" stroke="#aeaeae" stroke-width="0.7" stroke-dasharray="0.8,1.5"/>
<line x1="19.7" y1="377.09999999999997" x2="238.2" y2="377.09999999999997" stroke="#aeaeae" stroke-width="0.7" stroke-dasharray="0.8,1.5"/>
<line x1="19.7" y1="364.9" x2="238.2" y2="364.9" stroke="#aeaeae" stroke-width="0.7" stroke-dasharray="0.8,1.5"/>
<line x1="19.7" y1="352.7" x2="238.2" y2="352.7" stroke="#aeaeae" stroke-width="0.7" stroke-dasharray="0.8,1.5"/>
<line x1="19.7" y1="340.5" x2="238.2" y2="340.5" stroke="#aeaeae" stroke-width="0.7" stroke-dasharray="0.8,1.5"/>
<line x1="19.7" y1="328.3" x2="238.2" y2="328.3" stroke="#aeaeae" stroke-width="0.7" stroke-dasharray="0.8,1.5"/>
<line x1="19.7" y1="316.09999999999997" x2="238.2" y2="316.09999999999997" stroke="#aeaeae" stroke-width="0.7" stroke-dasharray="0.8,1.5"/>
<line x1="19.7" y1="303.9" x2="238.2" y2="303.9" stroke="#aeaeae" stroke-width="0.7" stroke-dasharray="0.8,1.5"/>
<line x1="19.7" y1="291.7" x2="238.2" y2="291.7" stroke="#aeaeae" stroke-width="0.7" stroke-dasharray="0.8,1.5"/>
<line x1="52.89999999999999" y1="291.7" x2="52.89999999999999" y2="401.5" stroke="#b4b4b4" stroke-width="0.7" stroke-dasharray="0.8,1.5"/>
<line x1="86.49999999999999" y1="291.7" x2="86.49999999999999" y2="401.5" stroke="#b4b4b4" stroke-width="0.7" stroke-dasharray="0.8,1.5"/>
<line x1="120.1" y1="291.7" x2="120.1" y2="401.5" stroke="#b4b4b4" stroke-width="0.7" stroke-dasharray="0.8,1.5"/>
<line x1="153.7" y1="291.7" x2="153.7" y2="401.5" stroke="#b4b4b4" stroke-width="0.7" stroke-dasharray="0.8,1.5"/>
<line x1="187.29999999999998" y1="291.7" x2="187.29999999999998" y2="401.5" stroke="#b4b4b4" stroke-width="0.7" stroke-dasharray="0.8,1.5"/>
<line x1="220.89999999999998" y1="291.7" x2="220.89999999999998" y2="401.5" stroke="#b4b4b4" stroke-width="0.7" stroke-dasharray="0.8,1.5"/>
<line x1="238.2" y1="291.7" x2="238.2" y2="401.5" stroke="#b4b4b4" stroke-width="0.7" stroke-dasharray="0.8,1.5"/>
<line x1="19.7" y1="401.5" x2="21.7" y2="401.5" stroke="#000" stroke-width="0.9"/>
<text x="17.9" y="403.8" font-size="6.3" text-anchor="end" fill="#111" stroke="#111" stroke-width="0.14">-20</text>
<line x1="19.7" y1="389.3" x2="21.7" y2="389.3" stroke="#000" stroke-width="0.9"/>
<text x="17.9" y="391.6" font-size="6.3" text-anchor="end" fill="#111" stroke="#111" stroke-width="0.14">-15</text>
<line x1="19.7" y1="377.09999999999997" x2="21.7" y2="377.09999999999997" stroke="#000" stroke-width="0.9"/>
<text x="17.9" y="379.4" font-size="6.3" text-anchor="end" fill="#111" stroke="#111" stroke-width="0.14">-10</text>
<line x1="19.7" y1="364.9" x2="21.7" y2="364.9" stroke="#000" stroke-width="0.9"/>
<text x="17.9" y="367.2" font-size="6.3" text-anchor="end" fill="#111" stroke="#111" stroke-width="0.14">-5</text>
<line x1="19.7" y1="352.7" x2="21.7" y2="352.7" stroke="#000" stroke-width="0.9"/>
<text x="17.9" y="355.0" font-size="6.3" text-anchor="end" fill="#111" stroke="#111" stroke-width="0.14">0</text>
<line x1="19.7" y1="340.5" x2="21.7" y2="340.5" stroke="#000" stroke-width="0.9"/>
<text x="17.9" y="342.8" font-size="6.3" text-anchor="end" fill="#111" stroke="#111" stroke-width="0.14">5</text>
<line x1="19.7" y1="328.3" x2="21.7" y2="328.3" stroke="#000" stroke-width="0.9"/>
<text x="17.9" y="330.6" font-size="6.3" text-anchor="end" fill="#111" stroke="#111" stroke-width="0.14">10</text>
<line x1="19.7" y1="316.09999999999997" x2="21.7" y2="316.09999999999997" stroke="#000" stroke-width="0.9"/>
<text x="17.9" y="318.4" font-size="6.3" text-anchor="end" fill="#111" stroke="#111" stroke-width="0.14">15</text>
<line x1="19.7" y1="303.9" x2="21.7" y2="303.9" stroke="#000" stroke-width="0.9"/>
<text x="17.9" y="306.2" font-size="6.3" text-anchor="end" fill="#111" stroke="#111" stroke-width="0.14">20</text>
<line x1="19.7" y1="291.7" x2="21.7" y2="291.7" stroke="#000" stroke-width="0.9"/>
<text x="17.9" y="294.0" font-size="6.3" text-anchor="end" fill="#111" stroke="#111" stroke-width="0.14">25</text>
<line x1="19.299999999999983" y1="401.5" x2="19.299999999999983" y2="399.5" stroke="#000" stroke-width="0.9"/>
<text x="19.299999999999983" y="408.3" font-size="6.3" text-anchor="middle" fill="#111" stroke="#111" stroke-width="0.14">-40</text>
<line x1="52.89999999999999" y1="401.5" x2="52.89999999999999" y2="399.5" stroke="#000" stroke-width="0.9"/>
<text x="52.89999999999999" y="408.3" font-size="6.3" text-anchor="middle" fill="#111" stroke="#111" stroke-width="0.14">-30</text>
<line x1="86.49999999999999" y1="401.5" x2="86.49999999999999" y2="399.5" stroke="#000" stroke-width="0.9"/>
<text x="86.49999999999999" y="408.3" font-size="6.3" text-anchor="middle" fill="#111" stroke="#111" stroke-width="0.14">-20</text>
<line x1="120.1" y1="401.5" x2="120.1" y2="399.5" stroke="#000" stroke-width="0.9"/>
<text x="120.1" y="408.3" font-size="6.3" text-anchor="middle" fill="#111" stroke="#111" stroke-width="0.14">-10</text>
<line x1="153.7" y1="401.5" x2="153.7" y2="399.5" stroke="#000" stroke-width="0.9"/>
<text x="153.7" y="408.3" font-size="6.3" text-anchor="middle" fill="#111" stroke="#111" stroke-width="0.14">0</text>
<line x1="187.29999999999998" y1="401.5" x2="187.29999999999998" y2="399.5" stroke="#000" stroke-width="0.9"/>
<text x="187.29999999999998" y="408.3" font-size="6.3" text-anchor="middle" fill="#111" stroke="#111" stroke-width="0.14">10</text>
<line x1="220.89999999999998" y1="401.5" x2="220.89999999999998" y2="399.5" stroke="#000" stroke-width="0.9"/>
<text x="220.89999999999998" y="408.3" font-size="6.3" text-anchor="middle" fill="#111" stroke="#111" stroke-width="0.14">20</text>
<line x1="19.7" y1="291.2" x2="19.7" y2="402.3" stroke="#000" stroke-width="1.7"/>
<line x1="18.9" y1="401.5" x2="238.2" y2="401.5" stroke="#000" stroke-width="1.7"/>
<text x="134.2" y="415.6" font-size="6.38" text-anchor="middle" fill="#111" stroke="#111" stroke-width="0.14">1st Principal Component (19.1137%)</text>
<text x="7.4" y="342.2" font-size="6.25" text-anchor="middle" fill="#111" stroke="#111" stroke-width="0.14" transform="rotate(-90 7.4 342.2)">2nd Principal Component (13.6557%)</text>
<path d="M47.339999999999996,294.5 L53.629999999999995,298.2 L47.339999999999996,301.9 Z" fill="#000" stroke="none" stroke-width="0.7"/>
<text x="46.5" y="308.6" font-size="5.8" text-anchor="start" fill="#111" stroke="#111" stroke-width="0.14">CD34</text>
<circle cx="125.6" cy="339.4" r="3.0" fill="#c8142e" stroke="#650a14" stroke-width="1.0"/>
<path d="M143.29999999999998,357.025 L149.9,357.025 L146.6,362.635 Z" fill="#eee22a" stroke="#4e4a0c" stroke-width="1.1" stroke-linejoin="round"/>
<path d="M190.4,367.6 L193.6,370.8 L190.4,374.0 L187.20000000000002,370.8 Z" fill="#2d5f9e" stroke="#142f55" stroke-width="1.0"/>
<rect x="205.2" y="366.0" width="5.6" height="5.6" fill="#2c8a42" stroke="#123f1c" stroke-width="1.0"/>
<text x="277.4" y="280.1" font-size="10.8" text-anchor="start" fill="#000" font-weight="bold">E</text>
<line x1="296.6" y1="389.6" x2="515" y2="389.6" stroke="#aeaeae" stroke-width="0.7" stroke-dasharray="0.8,1.5"/>
<line x1="296.6" y1="377.4" x2="515" y2="377.4" stroke="#aeaeae" stroke-width="0.7" stroke-dasharray="0.8,1.5"/>
<line x1="296.6" y1="365.2" x2="515" y2="365.2" stroke="#aeaeae" stroke-width="0.7" stroke-dasharray="0.8,1.5"/>
<line x1="296.6" y1="353.0" x2="515" y2="353.0" stroke="#aeaeae" stroke-width="0.7" stroke-dasharray="0.8,1.5"/>
<line x1="296.6" y1="340.8" x2="515" y2="340.8" stroke="#aeaeae" stroke-width="0.7" stroke-dasharray="0.8,1.5"/>
<line x1="296.6" y1="328.6" x2="515" y2="328.6" stroke="#aeaeae" stroke-width="0.7" stroke-dasharray="0.8,1.5"/>
<line x1="296.6" y1="316.4" x2="515" y2="316.4" stroke="#aeaeae" stroke-width="0.7" stroke-dasharray="0.8,1.5"/>
<line x1="296.6" y1="304.2" x2="515" y2="304.2" stroke="#aeaeae" stroke-width="0.7" stroke-dasharray="0.8,1.5"/>
<line x1="296.6" y1="292.0" x2="515" y2="292.0" stroke="#aeaeae" stroke-width="0.7" stroke-dasharray="0.8,1.5"/>
<line x1="330.09999999999997" y1="292.0" x2="330.09999999999997" y2="401.9" stroke="#b4b4b4" stroke-width="0.7" stroke-dasharray="0.8,1.5"/>
<line x1="363.7" y1="292.0" x2="363.7" y2="401.9" stroke="#b4b4b4" stroke-width="0.7" stroke-dasharray="0.8,1.5"/>
<line x1="397.29999999999995" y1="292.0" x2="397.29999999999995" y2="401.9" stroke="#b4b4b4" stroke-width="0.7" stroke-dasharray="0.8,1.5"/>
<line x1="430.9" y1="292.0" x2="430.9" y2="401.9" stroke="#b4b4b4" stroke-width="0.7" stroke-dasharray="0.8,1.5"/>
<line x1="464.5" y1="292.0" x2="464.5" y2="401.9" stroke="#b4b4b4" stroke-width="0.7" stroke-dasharray="0.8,1.5"/>
<line x1="498.09999999999997" y1="292.0" x2="498.09999999999997" y2="401.9" stroke="#b4b4b4" stroke-width="0.7" stroke-dasharray="0.8,1.5"/>
<line x1="515" y1="292.0" x2="515" y2="401.9" stroke="#b4b4b4" stroke-width="0.7" stroke-dasharray="0.8,1.5"/>
<line x1="296.6" y1="401.8" x2="298.6" y2="401.8" stroke="#000" stroke-width="0.9"/>
<text x="294.8" y="404.1" font-size="6.3" text-anchor="end" fill="#111" stroke="#111" stroke-width="0.14">-20</text>
<line x1="296.6" y1="389.6" x2="298.6" y2="389.6" stroke="#000" stroke-width="0.9"/>
<text x="294.8" y="391.90000000000003" font-size="6.3" text-anchor="end" fill="#111" stroke="#111" stroke-width="0.14">-15</text>
<line x1="296.6" y1="377.4" x2="298.6" y2="377.4" stroke="#000" stroke-width="0.9"/>
<text x="294.8" y="379.7" font-size="6.3" text-anchor="end" fill="#111" stroke="#111" stroke-width="0.14">-10</text>
<line x1="296.6" y1="365.2" x2="298.6" y2="365.2" stroke="#000" stroke-width="0.9"/>
<text x="294.8" y="367.5" font-size="6.3" text-anchor="end" fill="#111" stroke="#111" stroke-width="0.14">-5</text>
<line x1="296.6" y1="353.0" x2="298.6" y2="353.0" stroke="#000" stroke-width="0.9"/>
<text x="294.8" y="355.3" font-size="6.3" text-anchor="end" fill="#111" stroke="#111" stroke-width="0.14">0</text>
<line x1="296.6" y1="340.8" x2="298.6" y2="340.8" stroke="#000" stroke-width="0.9"/>
<text x="294.8" y="343.1" font-size="6.3" text-anchor="end" fill="#111" stroke="#111" stroke-width="0.14">5</text>
<line x1="296.6" y1="328.6" x2="298.6" y2="328.6" stroke="#000" stroke-width="0.9"/>
<text x="294.8" y="330.90000000000003" font-size="6.3" text-anchor="end" fill="#111" stroke="#111" stroke-width="0.14">10</text>
<line x1="296.6" y1="316.4" x2="298.6" y2="316.4" stroke="#000" stroke-width="0.9"/>
<text x="294.8" y="318.7" font-size="6.3" text-anchor="end" fill="#111" stroke="#111" stroke-width="0.14">15</text>
<line x1="296.6" y1="304.2" x2="298.6" y2="304.2" stroke="#000" stroke-width="0.9"/>
<text x="294.8" y="306.5" font-size="6.3" text-anchor="end" fill="#111" stroke="#111" stroke-width="0.14">20</text>
<line x1="296.6" y1="292.0" x2="298.6" y2="292.0" stroke="#000" stroke-width="0.9"/>
<text x="294.8" y="294.3" font-size="6.3" text-anchor="end" fill="#111" stroke="#111" stroke-width="0.14">25</text>
<line x1="296.5" y1="401.9" x2="296.5" y2="399.9" stroke="#000" stroke-width="0.9"/>
<text x="296.5" y="408.7" font-size="6.3" text-anchor="middle" fill="#111" stroke="#111" stroke-width="0.14">-40</text>
<line x1="330.09999999999997" y1="401.9" x2="330.09999999999997" y2="399.9" stroke="#000" stroke-width="0.9"/>
<text x="330.09999999999997" y="408.7" font-size="6.3" text-anchor="middle" fill="#111" stroke="#111" stroke-width="0.14">-30</text>
<line x1="363.7" y1="401.9" x2="363.7" y2="399.9" stroke="#000" stroke-width="0.9"/>
<text x="363.7" y="408.7" font-size="6.3" text-anchor="middle" fill="#111" stroke="#111" stroke-width="0.14">-20</text>
<line x1="397.29999999999995" y1="401.9" x2="397.29999999999995" y2="399.9" stroke="#000" stroke-width="0.9"/>
<text x="397.29999999999995" y="408.7" font-size="6.3" text-anchor="middle" fill="#111" stroke="#111" stroke-width="0.14">-10</text>
<line x1="430.9" y1="401.9" x2="430.9" y2="399.9" stroke="#000" stroke-width="0.9"/>
<text x="430.9" y="408.7" font-size="6.3" text-anchor="middle" fill="#111" stroke="#111" stroke-width="0.14">0</text>
<line x1="464.5" y1="401.9" x2="464.5" y2="399.9" stroke="#000" stroke-width="0.9"/>
<text x="464.5" y="408.7" font-size="6.3" text-anchor="middle" fill="#111" stroke="#111" stroke-width="0.14">10</text>
<line x1="498.09999999999997" y1="401.9" x2="498.09999999999997" y2="399.9" stroke="#000" stroke-width="0.9"/>
<text x="498.09999999999997" y="408.7" font-size="6.3" text-anchor="middle" fill="#111" stroke="#111" stroke-width="0.14">20</text>
<line x1="296.6" y1="291.5" x2="296.6" y2="402.7" stroke="#000" stroke-width="1.7"/>
<line x1="295.8" y1="401.9" x2="515" y2="401.9" stroke="#000" stroke-width="1.7"/>
<text x="410.6" y="415.6" font-size="6.38" text-anchor="middle" fill="#111" stroke="#111" stroke-width="0.14">1st Principal Component (13.4404%)</text>
<text x="282.4" y="342.2" font-size="6.25" text-anchor="middle" fill="#111" stroke="#111" stroke-width="0.14" transform="rotate(-90 282.4 342.2)">2nd Principal Component (8.7458%)</text>
<polygon points="379.30,341.60 378.37,343.38 376.36,343.30 377.43,345.00 376.36,346.70 378.37,346.62 379.30,348.40 380.24,346.62 382.24,346.70 381.17,345.00 382.24,343.30 380.24,343.38" fill="#fff" stroke="#222" stroke-width="0.8"/>
<text x="337.7" y="356" font-size="6.0" text-anchor="start" fill="#111" stroke="#111" stroke-width="0.14">non-engraftment</text>
<rect x="390.4" y="345.2" width="5.6" height="5.6" fill="#2c8a42" stroke="#123f1c" stroke-width="1.0"/>
<path d="M422.7,367.2 L425.9,370.4 L422.7,373.59999999999997 L419.5,370.4 Z" fill="#2d5f9e" stroke="#142f55" stroke-width="1.0"/>
<circle cx="450.3" cy="363.1" r="3.0" fill="#c8142e" stroke="#650a14" stroke-width="1.0"/>
<path d="M476.0,336.325 L482.6,336.325 L479.3,341.935 Z" fill="#eee22a" stroke="#4e4a0c" stroke-width="1.1" stroke-linejoin="round"/>
<polygon points="490.20,357.40 489.21,359.29 487.08,359.20 488.22,361.00 487.08,362.80 489.21,362.71 490.20,364.60 491.19,362.71 493.32,362.80 492.18,361.00 493.32,359.20 491.19,359.29" fill="#000" stroke="#000" stroke-width="0.8"/>
<text x="460.4" y="372.2" font-size="6.0" text-anchor="start" fill="#111" stroke="#111" stroke-width="0.14">engraftment</text></svg>
</body></html>
